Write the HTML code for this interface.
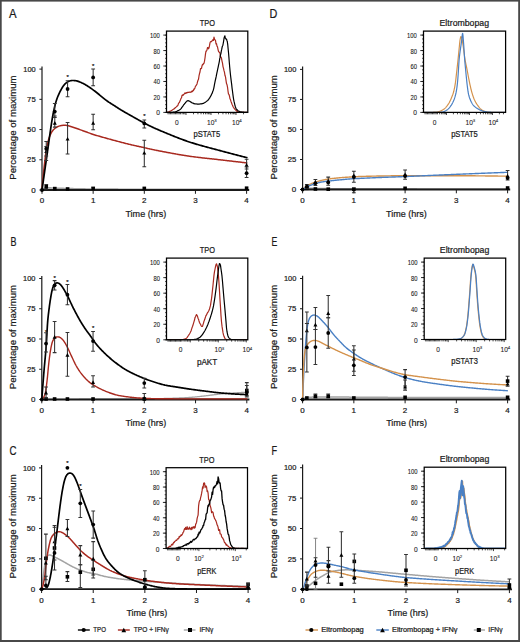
<!DOCTYPE html>
<html><head><meta charset="utf-8"><style>
html,body{margin:0;padding:0;background:#fff;overflow:hidden;}
svg{display:block;}
text{font-family:"Liberation Sans", sans-serif;stroke:#1a1a1a;stroke-width:0.22px;}
</style></head><body>
<svg width="520" height="642" viewBox="0 0 520 642">
<rect x="0" y="0" width="520" height="642" fill="#fff"/>
<text x="12.8" y="17.6" font-size="12" text-anchor="middle" fill="#1a1a1a" textLength="7.6" lengthAdjust="spacingAndGlyphs">A</text>
<text x="273.4" y="17.5" font-size="12" text-anchor="middle" fill="#1a1a1a" textLength="7.8" lengthAdjust="spacingAndGlyphs">D</text>
<text x="13.45" y="245.6" font-size="12" text-anchor="middle" fill="#1a1a1a" textLength="6" lengthAdjust="spacingAndGlyphs">B</text>
<text x="274.4" y="245.6" font-size="12" text-anchor="middle" fill="#1a1a1a" textLength="5.8" lengthAdjust="spacingAndGlyphs">E</text>
<text x="12.9" y="455.3" font-size="12" text-anchor="middle" fill="#1a1a1a" textLength="7" lengthAdjust="spacingAndGlyphs">C</text>
<text x="274.4" y="455.1" font-size="12" text-anchor="middle" fill="#1a1a1a" textLength="5.6" lengthAdjust="spacingAndGlyphs">F</text>
<path d="M42 190 L42.58 189.49 L43.18 189 L43.81 188.58 L44.48 188.25 L45.19 188.01 L45.92 187.86 L46.69 187.79 L47.47 187.78 L48.26 187.8 L49.06 187.83 L49.85 187.88 L50.65 187.92 L51.45 187.96 L52.25 188 L53.05 188.03 L53.85 188.07 L54.65 188.1 L55.45 188.13 L56.25 188.17 L57.05 188.2 L57.85 188.23 L58.64 188.26 L59.44 188.29 L60.24 188.31 L61.04 188.34 L61.84 188.37 L62.64 188.39 L63.44 188.42 L64.24 188.44 L65.04 188.47 L65.84 188.49 L66.64 188.51 L67.44 188.53 L68.24 188.56 L69.04 188.58 L69.84 188.59 L70.64 188.61 L71.44 188.63 L72.24 188.65 L73.04 188.67 L73.84 188.69 L74.64 188.71 L75.44 188.72 L76.24 188.74 L77.04 188.76 L77.84 188.78 L78.64 188.79 L79.44 188.81 L80.24 188.83 L81.04 188.84 L81.84 188.86 L82.64 188.87 L83.44 188.89 L84.24 188.91 L85.04 188.92 L85.84 188.93 L86.64 188.95 L87.44 188.96 L88.24 188.97 L89.04 188.99 L89.84 189 L90.64 189.01 L91.44 189.02 L92.24 189.03 L93.03 189.04 L93.83 189.05 L94.63 189.06 L95.43 189.07 L96.23 189.07 L97.03 189.08 L97.83 189.09 L98.63 189.09 L99.43 189.1 L100.23 189.1 L101.03 189.1 L101.83 189.11 L102.63 189.11 L103.43 189.11 L104.23 189.12 L105.03 189.12 L105.83 189.12 L106.63 189.13 L107.43 189.13 L108.23 189.13 L109.03 189.14 L109.83 189.14 L110.63 189.14 L111.43 189.15 L112.23 189.15 L113.03 189.15 L113.83 189.16 L114.63 189.16 L115.43 189.16 L116.23 189.17 L117.03 189.17 L117.83 189.17 L118.63 189.18 L119.43 189.18 L120.23 189.18 L121.03 189.18 L121.83 189.19 L122.63 189.19 L123.43 189.19 L124.23 189.2 L125.03 189.2 L125.83 189.2 L126.63 189.2 L127.43 189.21 L128.23 189.21 L129.03 189.21 L129.83 189.22 L130.63 189.22 L131.43 189.22 L132.23 189.22 L133.03 189.23 L133.83 189.23 L134.63 189.23 L135.43 189.23 L136.23 189.24 L137.03 189.24 L137.83 189.24 L138.63 189.24 L139.43 189.25 L140.23 189.25 L141.03 189.25 L141.83 189.25 L142.63 189.26 L143.43 189.26 L144.23 189.26 L145.03 189.26 L145.83 189.26 L146.63 189.27 L147.43 189.27 L148.23 189.27 L149.03 189.27 L149.83 189.28 L150.63 189.28 L151.43 189.28 L152.23 189.28 L153.03 189.28 L153.83 189.29 L154.63 189.29 L155.43 189.29 L156.23 189.29 L157.03 189.29 L157.83 189.3 L158.63 189.3 L159.43 189.3 L160.23 189.3 L161.03 189.3 L161.83 189.31 L162.63 189.31 L163.43 189.31 L164.23 189.31 L165.03 189.31 L165.83 189.31 L166.63 189.32 L167.43 189.32 L168.23 189.32 L169.03 189.32 L169.83 189.32 L170.63 189.33 L171.43 189.33 L172.23 189.33 L173.03 189.33 L173.83 189.33 L174.63 189.33 L175.43 189.33 L176.23 189.34 L177.03 189.34 L177.83 189.34 L178.63 189.34 L179.43 189.34 L180.23 189.34 L181.03 189.34 L181.83 189.35 L182.63 189.35 L183.43 189.35 L184.23 189.35 L185.03 189.35 L185.83 189.35 L186.63 189.35 L187.43 189.36 L188.23 189.36 L189.03 189.36 L189.83 189.36 L190.63 189.36 L191.43 189.36 L192.23 189.36 L193.03 189.36 L193.83 189.36 L194.63 189.37 L195.43 189.37 L196.23 189.37 L197.03 189.37 L197.83 189.37 L198.63 189.37 L199.43 189.37 L200.23 189.37 L201.03 189.37 L201.83 189.37 L202.63 189.38 L203.43 189.38 L204.23 189.38 L205.03 189.38 L205.83 189.38 L206.63 189.38 L207.43 189.38 L208.23 189.38 L209.03 189.38 L209.83 189.38 L210.63 189.38 L211.43 189.38 L212.23 189.39 L213.03 189.39 L213.83 189.39 L214.63 189.39 L215.43 189.39 L216.23 189.39 L217.03 189.39 L217.83 189.39 L218.63 189.39 L219.43 189.39 L220.23 189.39 L221.03 189.39 L221.83 189.39 L222.63 189.39 L223.43 189.39 L224.23 189.39 L225.03 189.39 L225.83 189.39 L226.63 189.4 L227.43 189.4 L228.23 189.4 L229.03 189.4 L229.83 189.4 L230.63 189.4 L231.43 189.4 L232.23 189.4 L233.03 189.4 L233.83 189.4 L234.63 189.4 L235.43 189.4 L236.23 189.4 L237.03 189.4 L237.83 189.4 L238.63 189.4 L239.43 189.4 L240.23 189.4 L241.03 189.4 L241.83 189.4 L242.63 189.4 L243.43 189.4 L244.23 189.4 L245.02 189.4 L245.81 189.4 L246.6 189.4 L246.8 189.4" fill="none" stroke="#a3a3a3" stroke-width="1.6" stroke-linejoin="round" stroke-linecap="round"/>
<path d="M302.6 189.5 L303.3 189.17 L304.02 188.87 L304.75 188.63 L305.5 188.46 L306.27 188.35 L307.05 188.29 L307.84 188.27 L308.63 188.27 L309.43 188.29 L310.23 188.31 L311.03 188.34 L311.83 188.36 L312.63 188.39 L313.43 188.42 L314.23 188.45 L315.03 188.47 L315.83 188.5 L316.63 188.52 L317.43 188.54 L318.23 188.56 L319.03 188.58 L319.83 188.59 L320.63 188.6 L321.43 188.61 L322.23 188.62 L323.03 188.62 L323.83 188.63 L324.63 188.63 L325.43 188.64 L326.23 188.65 L327.03 188.65 L327.83 188.66 L328.63 188.66 L329.43 188.67 L330.23 188.67 L331.03 188.68 L331.83 188.68 L332.63 188.69 L333.43 188.69 L334.23 188.7 L335.03 188.7 L335.83 188.71 L336.63 188.71 L337.43 188.72 L338.23 188.72 L339.03 188.73 L339.83 188.73 L340.63 188.73 L341.43 188.74 L342.23 188.74 L343.03 188.75 L343.83 188.75 L344.63 188.75 L345.43 188.76 L346.23 188.76 L347.03 188.76 L347.83 188.77 L348.63 188.77 L349.43 188.77 L350.23 188.78 L351.03 188.78 L351.83 188.78 L352.63 188.79 L353.43 188.79 L354.23 188.79 L355.03 188.8 L355.83 188.8 L356.63 188.8 L357.43 188.81 L358.23 188.81 L359.03 188.81 L359.83 188.81 L360.63 188.82 L361.43 188.82 L362.23 188.82 L363.03 188.82 L363.83 188.83 L364.63 188.83 L365.43 188.83 L366.23 188.83 L367.03 188.83 L367.83 188.84 L368.63 188.84 L369.43 188.84 L370.23 188.84 L371.03 188.85 L371.83 188.85 L372.63 188.85 L373.43 188.85 L374.23 188.85 L375.03 188.85 L375.83 188.86 L376.63 188.86 L377.43 188.86 L378.23 188.86 L379.03 188.86 L379.83 188.87 L380.63 188.87 L381.43 188.87 L382.23 188.87 L383.03 188.87 L383.83 188.87 L384.63 188.87 L385.43 188.88 L386.23 188.88 L387.03 188.88 L387.83 188.88 L388.63 188.88 L389.43 188.88 L390.23 188.88 L391.03 188.89 L391.83 188.89 L392.63 188.89 L393.43 188.89 L394.23 188.89 L395.03 188.89 L395.83 188.89 L396.63 188.89 L397.43 188.9 L398.23 188.9 L399.03 188.9 L399.83 188.9 L400.63 188.9 L401.43 188.9 L402.23 188.9 L403.03 188.9 L403.83 188.91 L404.63 188.91 L405.43 188.91 L406.23 188.91 L407.03 188.91 L407.83 188.91 L408.63 188.91 L409.43 188.91 L410.23 188.92 L411.03 188.92 L411.83 188.92 L412.63 188.92 L413.43 188.92 L414.23 188.92 L415.03 188.92 L415.83 188.92 L416.63 188.92 L417.43 188.93 L418.23 188.93 L419.03 188.93 L419.83 188.93 L420.63 188.93 L421.43 188.93 L422.23 188.93 L423.03 188.93 L423.83 188.93 L424.63 188.94 L425.43 188.94 L426.23 188.94 L427.03 188.94 L427.83 188.94 L428.63 188.94 L429.43 188.94 L430.23 188.94 L431.03 188.94 L431.83 188.95 L432.63 188.95 L433.43 188.95 L434.23 188.95 L435.03 188.95 L435.83 188.95 L436.63 188.95 L437.43 188.95 L438.23 188.95 L439.03 188.95 L439.83 188.96 L440.63 188.96 L441.43 188.96 L442.23 188.96 L443.03 188.96 L443.83 188.96 L444.63 188.96 L445.43 188.96 L446.23 188.96 L447.03 188.96 L447.83 188.96 L448.63 188.97 L449.43 188.97 L450.23 188.97 L451.03 188.97 L451.83 188.97 L452.63 188.97 L453.43 188.97 L454.23 188.97 L455.03 188.97 L455.83 188.97 L456.63 188.97 L457.43 188.97 L458.23 188.98 L459.03 188.98 L459.83 188.98 L460.63 188.98 L461.43 188.98 L462.23 188.98 L463.03 188.98 L463.83 188.98 L464.63 188.98 L465.43 188.98 L466.23 188.98 L467.03 188.98 L467.83 188.98 L468.63 188.98 L469.43 188.98 L470.23 188.99 L471.03 188.99 L471.83 188.99 L472.63 188.99 L473.43 188.99 L474.23 188.99 L475.03 188.99 L475.83 188.99 L476.63 188.99 L477.43 188.99 L478.23 188.99 L479.03 188.99 L479.83 188.99 L480.63 188.99 L481.43 188.99 L482.23 188.99 L483.03 188.99 L483.83 188.99 L484.63 188.99 L485.43 188.99 L486.23 189 L487.03 189 L487.83 189 L488.63 189 L489.43 189 L490.23 189 L491.03 189 L491.83 189 L492.63 189 L493.43 189 L494.23 189 L495.03 189 L495.83 189 L496.63 189 L497.43 189 L498.23 189 L499.03 189 L499.83 189 L500.63 189 L501.43 189 L502.22 189 L503.02 189 L503.82 189 L504.61 189 L505.39 189 L506.16 189 L506.92 189 L507.3 189" fill="none" stroke="#a3a3a3" stroke-width="1.6" stroke-linejoin="round" stroke-linecap="round"/>
<path d="M41.8 399.3 L42.6 399.3 L43.4 399.3 L44.2 399.3 L45 399.3 L45.8 399.3 L46.6 399.3 L47.4 399.3 L48.2 399.3 L49 399.3 L49.8 399.3 L50.6 399.3 L51.4 399.3 L52.2 399.3 L53 399.3 L53.8 399.3 L54.6 399.3 L55.4 399.3 L56.2 399.3 L57 399.3 L57.8 399.3 L58.6 399.3 L59.4 399.3 L60.2 399.3 L61 399.3 L61.8 399.3 L62.6 399.3 L63.4 399.3 L64.2 399.3 L65 399.3 L65.8 399.3 L66.6 399.3 L67.4 399.3 L68.2 399.29 L69 399.29 L69.8 399.29 L70.6 399.29 L71.4 399.29 L72.2 399.29 L73 399.29 L73.8 399.29 L74.6 399.28 L75.4 399.28 L76.2 399.28 L77 399.28 L77.8 399.28 L78.6 399.28 L79.4 399.27 L80.2 399.27 L81 399.27 L81.8 399.27 L82.6 399.26 L83.4 399.26 L84.2 399.26 L85 399.26 L85.8 399.25 L86.6 399.25 L87.4 399.25 L88.2 399.25 L89 399.24 L89.8 399.24 L90.6 399.24 L91.4 399.23 L92.2 399.23 L93 399.23 L93.8 399.22 L94.6 399.22 L95.4 399.22 L96.2 399.22 L97 399.21 L97.8 399.21 L98.6 399.2 L99.4 399.2 L100.2 399.2 L101 399.19 L101.8 399.19 L102.6 399.19 L103.4 399.18 L104.2 399.18 L105 399.18 L105.8 399.17 L106.6 399.17 L107.4 399.16 L108.2 399.16 L109 399.16 L109.8 399.15 L110.6 399.15 L111.4 399.14 L112.2 399.14 L113 399.14 L113.8 399.13 L114.6 399.13 L115.4 399.12 L116.2 399.12 L117 399.12 L117.8 399.11 L118.6 399.11 L119.4 399.1 L120.2 399.1 L121 399.09 L121.8 399.09 L122.6 399.08 L123.4 399.08 L124.2 399.07 L125 399.07 L125.8 399.06 L126.6 399.06 L127.4 399.05 L128.2 399.04 L129 399.04 L129.8 399.03 L130.6 399.02 L131.4 399.02 L132.2 399.01 L133 399 L133.8 399 L134.6 398.99 L135.4 398.98 L136.2 398.97 L137 398.96 L137.8 398.95 L138.6 398.94 L139.4 398.94 L140.2 398.93 L141 398.92 L141.8 398.91 L142.6 398.9 L143.4 398.89 L144.2 398.88 L145 398.87 L145.8 398.86 L146.6 398.85 L147.4 398.84 L148.2 398.82 L149 398.81 L149.8 398.8 L150.6 398.79 L151.4 398.78 L152.2 398.77 L153 398.75 L153.8 398.74 L154.6 398.72 L155.4 398.71 L156.2 398.7 L157 398.68 L157.8 398.66 L158.6 398.65 L159.4 398.63 L160.2 398.61 L161 398.59 L161.8 398.58 L162.6 398.56 L163.4 398.54 L164.2 398.52 L164.99 398.5 L165.79 398.48 L166.59 398.45 L167.39 398.43 L168.19 398.41 L168.99 398.39 L169.79 398.36 L170.59 398.34 L171.39 398.32 L172.19 398.29 L172.99 398.26 L173.79 398.24 L174.59 398.21 L175.39 398.18 L176.19 398.15 L176.99 398.12 L177.79 398.09 L178.59 398.06 L179.39 398.02 L180.19 397.99 L180.99 397.95 L181.78 397.91 L182.58 397.87 L183.38 397.83 L184.18 397.78 L184.98 397.74 L185.78 397.69 L186.58 397.64 L187.38 397.59 L188.17 397.54 L188.97 397.49 L189.77 397.44 L190.57 397.38 L191.37 397.32 L192.16 397.25 L192.96 397.19 L193.76 397.12 L194.55 397.04 L195.35 396.97 L196.15 396.89 L196.94 396.8 L197.74 396.72 L198.53 396.63 L199.33 396.54 L200.12 396.45 L200.92 396.36 L201.71 396.27 L202.51 396.18 L203.3 396.09 L204.1 396 L204.89 395.9 L205.68 395.81 L206.48 395.71 L207.27 395.62 L208.07 395.52 L208.86 395.42 L209.65 395.32 L210.45 395.21 L211.24 395.11 L212.03 395.01 L212.83 394.9 L213.62 394.79 L214.41 394.69 L215.21 394.59 L216 394.49 L216.79 394.39 L217.59 394.3 L218.38 394.2 L219.18 394.12 L219.97 394.03 L220.77 393.95 L221.57 393.88 L222.36 393.81 L223.16 393.74 L223.96 393.67 L224.75 393.61 L225.55 393.54 L226.35 393.48 L227.15 393.42 L227.95 393.37 L228.74 393.31 L229.54 393.25 L230.34 393.2 L231.14 393.15 L231.94 393.09 L232.73 393.04 L233.53 392.99 L234.33 392.94 L235.13 392.89 L235.93 392.84 L236.73 392.79 L237.52 392.74 L238.32 392.69 L239.12 392.64 L239.92 392.59 L240.72 392.54 L241.52 392.5 L242.31 392.45 L243.11 392.4 L243.9 392.36 L244.68 392.32 L245.46 392.27 L246.23 392.23 L246.8 392.2" fill="none" stroke="#a3a3a3" stroke-width="1.3" stroke-linejoin="round" stroke-linecap="round"/>
<path d="M302.6 399.5 L303.21 399.02 L303.83 398.58 L304.49 398.19 L305.18 397.89 L305.91 397.66 L306.66 397.49 L307.44 397.39 L308.22 397.31 L309.02 397.25 L309.81 397.21 L310.61 397.17 L311.41 397.14 L312.21 397.12 L313.01 397.09 L313.81 397.07 L314.61 397.05 L315.41 397.04 L316.21 397.03 L317.01 397.02 L317.81 397.01 L318.61 397.01 L319.41 397 L320.21 397 L321.01 397 L321.81 397 L322.61 397 L323.41 397 L324.21 397 L325.01 397.01 L325.81 397.01 L326.61 397.01 L327.41 397.01 L328.21 397.01 L329.01 397.01 L329.81 397.02 L330.61 397.02 L331.41 397.02 L332.21 397.03 L333.01 397.03 L333.81 397.03 L334.61 397.04 L335.41 397.04 L336.21 397.04 L337.01 397.05 L337.81 397.05 L338.61 397.06 L339.41 397.06 L340.21 397.06 L341.01 397.07 L341.81 397.07 L342.61 397.08 L343.41 397.08 L344.21 397.09 L345.01 397.09 L345.81 397.1 L346.61 397.1 L347.41 397.11 L348.21 397.11 L349.01 397.12 L349.81 397.13 L350.61 397.13 L351.41 397.14 L352.21 397.14 L353.01 397.15 L353.81 397.15 L354.61 397.16 L355.41 397.17 L356.21 397.17 L357.01 397.18 L357.81 397.18 L358.61 397.19 L359.41 397.2 L360.21 397.2 L361.01 397.21 L361.81 397.21 L362.61 397.22 L363.41 397.23 L364.21 397.23 L365.01 397.24 L365.81 397.24 L366.61 397.25 L367.41 397.25 L368.21 397.26 L369.01 397.27 L369.81 397.27 L370.61 397.28 L371.41 397.28 L372.21 397.29 L373.01 397.29 L373.81 397.3 L374.61 397.3 L375.41 397.31 L376.21 397.31 L377.01 397.32 L377.81 397.32 L378.61 397.33 L379.41 397.33 L380.21 397.34 L381.01 397.34 L381.81 397.35 L382.61 397.35 L383.41 397.36 L384.21 397.36 L385.01 397.36 L385.81 397.37 L386.61 397.37 L387.41 397.37 L388.21 397.38 L389.01 397.38 L389.81 397.38 L390.61 397.38 L391.41 397.39 L392.21 397.39 L393.01 397.39 L393.81 397.39 L394.61 397.39 L395.41 397.4 L396.21 397.4 L397.01 397.4 L397.81 397.4 L398.61 397.4 L399.41 397.4 L400.21 397.4 L401.01 397.4 L401.81 397.4 L402.61 397.4 L403.41 397.4 L404.21 397.4 L405.01 397.4 L405.81 397.4 L406.61 397.4 L407.41 397.4 L408.21 397.4 L409.01 397.4 L409.81 397.4 L410.61 397.4 L411.41 397.4 L412.21 397.4 L413.01 397.4 L413.81 397.4 L414.61 397.4 L415.41 397.4 L416.21 397.4 L417.01 397.4 L417.81 397.4 L418.61 397.4 L419.41 397.4 L420.21 397.4 L421.01 397.4 L421.81 397.4 L422.61 397.4 L423.41 397.4 L424.21 397.4 L425.01 397.4 L425.81 397.4 L426.61 397.4 L427.41 397.4 L428.21 397.4 L429.01 397.4 L429.81 397.4 L430.61 397.4 L431.41 397.4 L432.21 397.4 L433.01 397.4 L433.81 397.4 L434.61 397.4 L435.41 397.4 L436.21 397.4 L437.01 397.4 L437.81 397.4 L438.61 397.4 L439.41 397.4 L440.21 397.4 L441.01 397.4 L441.81 397.4 L442.61 397.4 L443.41 397.4 L444.21 397.4 L445.01 397.4 L445.81 397.4 L446.61 397.4 L447.41 397.4 L448.21 397.4 L449.01 397.4 L449.81 397.4 L450.61 397.4 L451.41 397.4 L452.21 397.4 L453.01 397.4 L453.81 397.4 L454.61 397.4 L455.41 397.4 L456.21 397.4 L457.01 397.4 L457.81 397.4 L458.61 397.4 L459.41 397.4 L460.21 397.4 L461.01 397.4 L461.81 397.4 L462.61 397.4 L463.41 397.4 L464.21 397.4 L465.01 397.4 L465.81 397.4 L466.61 397.4 L467.41 397.4 L468.21 397.4 L469.01 397.4 L469.81 397.4 L470.61 397.4 L471.41 397.4 L472.21 397.4 L473.01 397.4 L473.81 397.4 L474.61 397.4 L475.41 397.4 L476.21 397.4 L477.01 397.4 L477.81 397.4 L478.61 397.4 L479.41 397.4 L480.21 397.4 L481.01 397.4 L481.81 397.4 L482.61 397.4 L483.41 397.4 L484.21 397.4 L485.01 397.4 L485.81 397.4 L486.61 397.4 L487.41 397.4 L488.21 397.4 L489.01 397.4 L489.81 397.4 L490.61 397.4 L491.41 397.4 L492.21 397.4 L493.01 397.4 L493.81 397.4 L494.61 397.4 L495.41 397.4 L496.21 397.4 L497.01 397.4 L497.81 397.4 L498.61 397.4 L499.41 397.4 L500.21 397.4 L501.01 397.4 L501.81 397.4 L502.61 397.4 L503.4 397.4 L504.2 397.4 L504.98 397.4 L505.76 397.4 L506.53 397.4 L507.3 397.4" fill="none" stroke="#a3a3a3" stroke-width="1.5" stroke-linejoin="round" stroke-linecap="round"/>
<path d="M41.6 589.2 L41.7 588.41 L41.79 587.61 L41.89 586.82 L41.99 586.02 L42.08 585.23 L42.18 584.44 L42.28 583.64 L42.38 582.85 L42.48 582.05 L42.58 581.26 L42.68 580.47 L42.78 579.67 L42.89 578.88 L42.99 578.09 L43.09 577.29 L43.2 576.5 L43.3 575.71 L43.4 574.91 L43.51 574.12 L43.61 573.33 L43.71 572.53 L43.82 571.74 L43.93 570.95 L44.04 570.16 L44.15 569.36 L44.26 568.57 L44.38 567.78 L44.49 566.99 L44.62 566.2 L44.74 565.41 L44.87 564.62 L45 563.83 L45.13 563.04 L45.27 562.25 L45.42 561.47 L45.57 560.68 L45.74 559.91 L45.94 559.14 L46.18 558.38 L46.45 557.65 L46.78 556.96 L47.17 556.33 L47.62 555.8 L48.14 555.38 L48.72 555.12 L49.36 555.02 L50.04 555.07 L50.74 555.24 L51.45 555.5 L52.16 555.8 L52.88 556.14 L53.59 556.49 L54.31 556.85 L55.03 557.2 L55.74 557.56 L56.46 557.91 L57.18 558.27 L57.89 558.62 L58.61 558.98 L59.32 559.35 L60.03 559.72 L60.73 560.09 L61.44 560.48 L62.14 560.87 L62.83 561.26 L63.53 561.66 L64.22 562.06 L64.91 562.46 L65.6 562.87 L66.29 563.27 L66.98 563.67 L67.68 564.06 L68.38 564.45 L69.08 564.84 L69.78 565.22 L70.49 565.59 L71.19 565.97 L71.9 566.34 L72.61 566.71 L73.33 567.07 L74.04 567.43 L74.76 567.78 L75.48 568.12 L76.21 568.45 L76.94 568.78 L77.68 569.09 L78.42 569.4 L79.16 569.7 L79.9 569.99 L80.65 570.27 L81.4 570.55 L82.15 570.82 L82.91 571.08 L83.67 571.34 L84.43 571.58 L85.19 571.82 L85.96 572.04 L86.73 572.25 L87.51 572.44 L88.28 572.62 L89.07 572.78 L89.85 572.93 L90.64 573.07 L91.43 573.21 L92.22 573.34 L93 573.48 L93.79 573.62 L94.57 573.77 L95.35 573.94 L96.13 574.13 L96.9 574.33 L97.68 574.54 L98.44 574.76 L99.21 574.99 L99.98 575.22 L100.75 575.44 L101.52 575.65 L102.29 575.85 L103.07 576.05 L103.84 576.23 L104.63 576.4 L105.41 576.56 L106.19 576.72 L106.98 576.87 L107.76 577.02 L108.55 577.17 L109.34 577.31 L110.13 577.45 L110.91 577.58 L111.7 577.72 L112.49 577.85 L113.28 577.98 L114.07 578.1 L114.86 578.23 L115.65 578.34 L116.44 578.46 L117.24 578.57 L118.03 578.68 L118.82 578.78 L119.62 578.88 L120.41 578.98 L121.2 579.07 L122 579.17 L122.79 579.26 L123.59 579.34 L124.38 579.43 L125.18 579.51 L125.98 579.6 L126.77 579.68 L127.57 579.76 L128.36 579.84 L129.16 579.92 L129.96 579.99 L130.75 580.07 L131.55 580.14 L132.35 580.22 L133.14 580.29 L133.94 580.37 L134.74 580.44 L135.53 580.51 L136.33 580.58 L137.13 580.65 L137.92 580.72 L138.72 580.78 L139.52 580.85 L140.32 580.91 L141.11 580.98 L141.91 581.04 L142.71 581.1 L143.51 581.16 L144.3 581.22 L145.1 581.28 L145.9 581.34 L146.7 581.4 L147.49 581.45 L148.29 581.51 L149.09 581.57 L149.89 581.63 L150.69 581.68 L151.48 581.74 L152.28 581.8 L153.08 581.85 L153.88 581.91 L154.68 581.96 L155.47 582.02 L156.27 582.07 L157.07 582.13 L157.87 582.18 L158.67 582.24 L159.47 582.29 L160.26 582.35 L161.06 582.4 L161.86 582.45 L162.66 582.51 L163.46 582.56 L164.25 582.61 L165.05 582.66 L165.85 582.71 L166.65 582.77 L167.45 582.82 L168.25 582.87 L169.05 582.92 L169.84 582.97 L170.64 583.02 L171.44 583.07 L172.24 583.12 L173.04 583.17 L173.84 583.21 L174.63 583.26 L175.43 583.31 L176.23 583.36 L177.03 583.4 L177.83 583.45 L178.63 583.5 L179.43 583.54 L180.22 583.59 L181.02 583.63 L181.82 583.68 L182.62 583.72 L183.42 583.77 L184.22 583.81 L185.02 583.86 L185.82 583.9 L186.62 583.94 L187.41 583.98 L188.21 584.03 L189.01 584.07 L189.81 584.11 L190.61 584.15 L191.41 584.19 L192.21 584.23 L193.01 584.27 L193.81 584.31 L194.6 584.35 L195.4 584.39 L196.2 584.42 L197 584.46 L197.8 584.5 L198.6 584.54 L199.4 584.57 L200.2 584.61 L201 584.64 L201.8 584.68 L202.6 584.71 L203.4 584.75 L204.19 584.78 L204.99 584.82 L205.79 584.85 L206.59 584.89 L207.39 584.92 L208.19 584.96 L208.99 584.99 L209.79 585.02 L210.59 585.06 L211.39 585.09 L212.19 585.12 L212.99 585.15 L213.79 585.19 L214.59 585.22 L215.39 585.25 L216.18 585.28 L216.98 585.31 L217.78 585.34 L218.58 585.38 L219.38 585.41 L220.18 585.44 L220.98 585.47 L221.78 585.5 L222.58 585.53 L223.38 585.56 L224.18 585.58 L224.98 585.61 L225.78 585.64 L226.58 585.67 L227.38 585.7 L228.18 585.73 L228.98 585.75 L229.78 585.78 L230.57 585.81 L231.37 585.83 L232.17 585.86 L232.97 585.89 L233.77 585.91 L234.57 585.94 L235.37 585.96 L236.17 585.99 L236.97 586.01 L237.77 586.03 L238.57 586.06 L239.37 586.08 L240.17 586.1 L240.97 586.13 L241.77 586.15 L242.57 586.17 L243.36 586.19 L244.16 586.21 L244.94 586.23 L245.72 586.25 L246.48 586.27 L247.23 586.29 L247.6 586.3" fill="none" stroke="#a3a3a3" stroke-width="1.5" stroke-linejoin="round" stroke-linecap="round"/>
<path d="M302.6 589.5 L303.32 589.15 L304.03 588.79 L304.74 588.43 L305.45 588.05 L306.14 587.65 L306.82 587.24 L307.5 586.81 L308.16 586.36 L308.81 585.9 L309.44 585.41 L310.06 584.91 L310.68 584.4 L311.28 583.88 L311.88 583.35 L312.49 582.83 L313.09 582.31 L313.71 581.8 L314.33 581.29 L314.96 580.8 L315.6 580.33 L316.25 579.86 L316.91 579.41 L317.57 578.96 L318.24 578.53 L318.92 578.1 L319.6 577.67 L320.28 577.26 L320.96 576.85 L321.65 576.44 L322.34 576.04 L323.04 575.64 L323.73 575.24 L324.43 574.84 L325.12 574.45 L325.82 574.07 L326.53 573.7 L327.24 573.34 L327.97 573 L328.7 572.68 L329.44 572.39 L330.19 572.13 L330.95 571.89 L331.72 571.67 L332.49 571.46 L333.27 571.28 L334.05 571.1 L334.83 570.94 L335.62 570.8 L336.41 570.67 L337.2 570.55 L337.99 570.44 L338.78 570.34 L339.58 570.25 L340.37 570.17 L341.17 570.1 L341.97 570.03 L342.76 569.97 L343.56 569.92 L344.36 569.88 L345.16 569.85 L345.96 569.84 L346.76 569.84 L347.56 569.84 L348.36 569.86 L349.16 569.88 L349.96 569.91 L350.76 569.94 L351.55 569.97 L352.35 570.01 L353.15 570.05 L353.95 570.1 L354.75 570.14 L355.55 570.19 L356.35 570.24 L357.15 570.29 L357.94 570.35 L358.74 570.41 L359.54 570.46 L360.34 570.52 L361.13 570.58 L361.93 570.63 L362.73 570.69 L363.53 570.75 L364.33 570.8 L365.13 570.86 L365.92 570.91 L366.72 570.97 L367.52 571.03 L368.32 571.08 L369.12 571.14 L369.91 571.2 L370.71 571.25 L371.51 571.31 L372.31 571.37 L373.1 571.43 L373.9 571.49 L374.7 571.55 L375.5 571.61 L376.3 571.67 L377.09 571.73 L377.89 571.79 L378.69 571.86 L379.49 571.92 L380.28 571.99 L381.08 572.06 L381.88 572.12 L382.67 572.19 L383.47 572.26 L384.27 572.33 L385.06 572.4 L385.86 572.47 L386.66 572.55 L387.46 572.62 L388.25 572.69 L389.05 572.77 L389.84 572.84 L390.64 572.91 L391.44 572.99 L392.23 573.06 L393.03 573.14 L393.83 573.21 L394.62 573.29 L395.42 573.36 L396.22 573.44 L397.01 573.51 L397.81 573.58 L398.61 573.66 L399.4 573.73 L400.2 573.8 L401 573.88 L401.79 573.95 L402.59 574.02 L403.39 574.09 L404.18 574.16 L404.98 574.23 L405.78 574.3 L406.57 574.37 L407.37 574.44 L408.17 574.51 L408.97 574.58 L409.76 574.65 L410.56 574.72 L411.36 574.79 L412.15 574.86 L412.95 574.93 L413.75 575 L414.54 575.07 L415.34 575.14 L416.14 575.21 L416.94 575.28 L417.73 575.35 L418.53 575.42 L419.33 575.49 L420.12 575.56 L420.92 575.63 L421.72 575.7 L422.51 575.76 L423.31 575.83 L424.11 575.9 L424.91 575.97 L425.7 576.04 L426.5 576.11 L427.3 576.18 L428.09 576.24 L428.89 576.31 L429.69 576.38 L430.49 576.45 L431.28 576.51 L432.08 576.58 L432.88 576.65 L433.67 576.71 L434.47 576.78 L435.27 576.85 L436.07 576.91 L436.86 576.98 L437.66 577.04 L438.46 577.11 L439.26 577.17 L440.05 577.23 L440.85 577.3 L441.65 577.36 L442.45 577.42 L443.24 577.49 L444.04 577.55 L444.84 577.61 L445.64 577.67 L446.43 577.73 L447.23 577.79 L448.03 577.85 L448.83 577.91 L449.62 577.97 L450.42 578.03 L451.22 578.09 L452.02 578.15 L452.82 578.21 L453.61 578.26 L454.41 578.32 L455.21 578.38 L456.01 578.44 L456.81 578.49 L457.6 578.55 L458.4 578.61 L459.2 578.67 L460 578.72 L460.8 578.78 L461.59 578.84 L462.39 578.89 L463.19 578.95 L463.99 579 L464.79 579.06 L465.58 579.12 L466.38 579.17 L467.18 579.23 L467.98 579.28 L468.78 579.34 L469.57 579.39 L470.37 579.45 L471.17 579.5 L471.97 579.55 L472.77 579.61 L473.56 579.66 L474.36 579.72 L475.16 579.77 L475.96 579.82 L476.76 579.88 L477.56 579.93 L478.35 579.98 L479.15 580.03 L479.95 580.09 L480.75 580.14 L481.55 580.19 L482.35 580.24 L483.14 580.29 L483.94 580.34 L484.74 580.39 L485.54 580.44 L486.34 580.49 L487.14 580.54 L487.93 580.59 L488.73 580.64 L489.53 580.69 L490.33 580.74 L491.13 580.79 L491.93 580.84 L492.73 580.89 L493.52 580.94 L494.32 580.99 L495.12 581.03 L495.92 581.08 L496.72 581.13 L497.52 581.18 L498.32 581.22 L499.11 581.27 L499.91 581.32 L500.71 581.36 L501.51 581.41 L502.31 581.45 L503.11 581.5 L503.9 581.54 L504.7 581.59 L505.48 581.63 L506.26 581.68 L507.02 581.72 L507.76 581.76 L508.5 581.8" fill="none" stroke="#a3a3a3" stroke-width="1.5" stroke-linejoin="round" stroke-linecap="round"/>
<line x1="42" y1="66.5" x2="42" y2="190.6" stroke="#1a1a1a" stroke-width="1.2"/>
<line x1="39.4" y1="190" x2="42" y2="190" stroke="#1a1a1a" stroke-width="1"/>
<text x="35.7" y="192.7" font-size="8" text-anchor="end" fill="#1a1a1a">0</text>
<line x1="39.4" y1="159.78" x2="42" y2="159.78" stroke="#1a1a1a" stroke-width="1"/>
<text x="35.7" y="162.47" font-size="8" text-anchor="end" fill="#1a1a1a" textLength="8.6" lengthAdjust="spacingAndGlyphs">25</text>
<line x1="39.4" y1="129.55" x2="42" y2="129.55" stroke="#1a1a1a" stroke-width="1"/>
<text x="35.7" y="132.25" font-size="8" text-anchor="end" fill="#1a1a1a" textLength="8.6" lengthAdjust="spacingAndGlyphs">50</text>
<line x1="39.4" y1="99.33" x2="42" y2="99.33" stroke="#1a1a1a" stroke-width="1"/>
<text x="35.7" y="102.03" font-size="8" text-anchor="end" fill="#1a1a1a" textLength="8.6" lengthAdjust="spacingAndGlyphs">75</text>
<line x1="39.4" y1="69.1" x2="42" y2="69.1" stroke="#1a1a1a" stroke-width="1"/>
<text x="35.7" y="71.8" font-size="8" text-anchor="end" fill="#1a1a1a" textLength="12.4" lengthAdjust="spacingAndGlyphs">100</text>
<line x1="41.4" y1="190" x2="249.2" y2="190" stroke="#1a1a1a" stroke-width="1.8"/>
<line x1="42" y1="190" x2="42" y2="193.8" stroke="#1a1a1a" stroke-width="1"/>
<text x="42" y="203.3" font-size="8" text-anchor="middle" fill="#1a1a1a">0</text>
<line x1="93.15" y1="190" x2="93.15" y2="193.8" stroke="#1a1a1a" stroke-width="1"/>
<text x="93.15" y="203.3" font-size="8" text-anchor="middle" fill="#1a1a1a">1</text>
<line x1="144.3" y1="190" x2="144.3" y2="193.8" stroke="#1a1a1a" stroke-width="1"/>
<text x="144.3" y="203.3" font-size="8" text-anchor="middle" fill="#1a1a1a">2</text>
<line x1="195.45" y1="190" x2="195.45" y2="193.8" stroke="#1a1a1a" stroke-width="1"/>
<text x="195.45" y="203.3" font-size="8" text-anchor="middle" fill="#1a1a1a">3</text>
<line x1="246.6" y1="190" x2="246.6" y2="193.8" stroke="#1a1a1a" stroke-width="1"/>
<text x="246.6" y="203.3" font-size="8" text-anchor="middle" fill="#1a1a1a">4</text>
<text x="145.85" y="216.9" font-size="9.6" text-anchor="middle" fill="#1a1a1a" textLength="40.8" lengthAdjust="spacingAndGlyphs">Time (hrs)</text>
<text transform="translate(15.7 127.55) rotate(-90)" font-size="9.5" text-anchor="middle" fill="#1a1a1a" textLength="104.2" lengthAdjust="spacingAndGlyphs">Percentage of maximum</text>
<line x1="302.6" y1="66.5" x2="302.6" y2="190.1" stroke="#1a1a1a" stroke-width="1.2"/>
<line x1="300" y1="189.5" x2="302.6" y2="189.5" stroke="#1a1a1a" stroke-width="1"/>
<text x="296.3" y="192.2" font-size="8" text-anchor="end" fill="#1a1a1a">0</text>
<line x1="300" y1="159.47" x2="302.6" y2="159.47" stroke="#1a1a1a" stroke-width="1"/>
<text x="296.3" y="162.17" font-size="8" text-anchor="end" fill="#1a1a1a" textLength="8.6" lengthAdjust="spacingAndGlyphs">25</text>
<line x1="300" y1="129.45" x2="302.6" y2="129.45" stroke="#1a1a1a" stroke-width="1"/>
<text x="296.3" y="132.15" font-size="8" text-anchor="end" fill="#1a1a1a" textLength="8.6" lengthAdjust="spacingAndGlyphs">50</text>
<line x1="300" y1="99.42" x2="302.6" y2="99.42" stroke="#1a1a1a" stroke-width="1"/>
<text x="296.3" y="102.12" font-size="8" text-anchor="end" fill="#1a1a1a" textLength="8.6" lengthAdjust="spacingAndGlyphs">75</text>
<line x1="300" y1="69.4" x2="302.6" y2="69.4" stroke="#1a1a1a" stroke-width="1"/>
<text x="296.3" y="72.1" font-size="8" text-anchor="end" fill="#1a1a1a" textLength="12.4" lengthAdjust="spacingAndGlyphs">100</text>
<line x1="302" y1="189.5" x2="510.2" y2="189.5" stroke="#1a1a1a" stroke-width="1.8"/>
<line x1="302.6" y1="189.5" x2="302.6" y2="193.3" stroke="#1a1a1a" stroke-width="1"/>
<text x="302.6" y="203.3" font-size="8" text-anchor="middle" fill="#1a1a1a">0</text>
<line x1="353.85" y1="189.5" x2="353.85" y2="193.3" stroke="#1a1a1a" stroke-width="1"/>
<text x="353.85" y="203.3" font-size="8" text-anchor="middle" fill="#1a1a1a">1</text>
<line x1="405.1" y1="189.5" x2="405.1" y2="193.3" stroke="#1a1a1a" stroke-width="1"/>
<text x="405.1" y="203.3" font-size="8" text-anchor="middle" fill="#1a1a1a">2</text>
<line x1="456.35" y1="189.5" x2="456.35" y2="193.3" stroke="#1a1a1a" stroke-width="1"/>
<text x="456.35" y="203.3" font-size="8" text-anchor="middle" fill="#1a1a1a">3</text>
<line x1="507.6" y1="189.5" x2="507.6" y2="193.3" stroke="#1a1a1a" stroke-width="1"/>
<text x="507.6" y="203.3" font-size="8" text-anchor="middle" fill="#1a1a1a">4</text>
<text x="406.5" y="216.9" font-size="9.6" text-anchor="middle" fill="#1a1a1a" textLength="40.8" lengthAdjust="spacingAndGlyphs">Time (hrs)</text>
<text transform="translate(276.6 127.3) rotate(-90)" font-size="9.5" text-anchor="middle" fill="#1a1a1a" textLength="104.2" lengthAdjust="spacingAndGlyphs">Percentage of maximum</text>
<line x1="41.8" y1="276" x2="41.8" y2="400.1" stroke="#1a1a1a" stroke-width="1.2"/>
<line x1="39.2" y1="399.5" x2="41.8" y2="399.5" stroke="#1a1a1a" stroke-width="1"/>
<text x="35.5" y="402.2" font-size="8" text-anchor="end" fill="#1a1a1a">0</text>
<line x1="39.2" y1="369.25" x2="41.8" y2="369.25" stroke="#1a1a1a" stroke-width="1"/>
<text x="35.5" y="371.95" font-size="8" text-anchor="end" fill="#1a1a1a" textLength="8.6" lengthAdjust="spacingAndGlyphs">25</text>
<line x1="39.2" y1="339" x2="41.8" y2="339" stroke="#1a1a1a" stroke-width="1"/>
<text x="35.5" y="341.7" font-size="8" text-anchor="end" fill="#1a1a1a" textLength="8.6" lengthAdjust="spacingAndGlyphs">50</text>
<line x1="39.2" y1="308.75" x2="41.8" y2="308.75" stroke="#1a1a1a" stroke-width="1"/>
<text x="35.5" y="311.45" font-size="8" text-anchor="end" fill="#1a1a1a" textLength="8.6" lengthAdjust="spacingAndGlyphs">75</text>
<line x1="39.2" y1="278.5" x2="41.8" y2="278.5" stroke="#1a1a1a" stroke-width="1"/>
<text x="35.5" y="281.2" font-size="8" text-anchor="end" fill="#1a1a1a" textLength="12.4" lengthAdjust="spacingAndGlyphs">100</text>
<line x1="41.2" y1="399.5" x2="249.4" y2="399.5" stroke="#1a1a1a" stroke-width="1.8"/>
<line x1="41.8" y1="399.5" x2="41.8" y2="403.3" stroke="#1a1a1a" stroke-width="1"/>
<text x="41.8" y="413" font-size="8" text-anchor="middle" fill="#1a1a1a">0</text>
<line x1="93.05" y1="399.5" x2="93.05" y2="403.3" stroke="#1a1a1a" stroke-width="1"/>
<text x="93.05" y="413" font-size="8" text-anchor="middle" fill="#1a1a1a">1</text>
<line x1="144.3" y1="399.5" x2="144.3" y2="403.3" stroke="#1a1a1a" stroke-width="1"/>
<text x="144.3" y="413" font-size="8" text-anchor="middle" fill="#1a1a1a">2</text>
<line x1="195.55" y1="399.5" x2="195.55" y2="403.3" stroke="#1a1a1a" stroke-width="1"/>
<text x="195.55" y="413" font-size="8" text-anchor="middle" fill="#1a1a1a">3</text>
<line x1="246.8" y1="399.5" x2="246.8" y2="403.3" stroke="#1a1a1a" stroke-width="1"/>
<text x="246.8" y="413" font-size="8" text-anchor="middle" fill="#1a1a1a">4</text>
<text x="145.85" y="426.1" font-size="9.6" text-anchor="middle" fill="#1a1a1a" textLength="40.8" lengthAdjust="spacingAndGlyphs">Time (hrs)</text>
<text transform="translate(15.7 337.05) rotate(-90)" font-size="9.5" text-anchor="middle" fill="#1a1a1a" textLength="104.2" lengthAdjust="spacingAndGlyphs">Percentage of maximum</text>
<line x1="302.6" y1="275.8" x2="302.6" y2="400.1" stroke="#1a1a1a" stroke-width="1.2"/>
<line x1="300" y1="399.5" x2="302.6" y2="399.5" stroke="#1a1a1a" stroke-width="1"/>
<text x="296.3" y="402.2" font-size="8" text-anchor="end" fill="#1a1a1a">0</text>
<line x1="300" y1="369.25" x2="302.6" y2="369.25" stroke="#1a1a1a" stroke-width="1"/>
<text x="296.3" y="371.95" font-size="8" text-anchor="end" fill="#1a1a1a" textLength="8.6" lengthAdjust="spacingAndGlyphs">25</text>
<line x1="300" y1="339" x2="302.6" y2="339" stroke="#1a1a1a" stroke-width="1"/>
<text x="296.3" y="341.7" font-size="8" text-anchor="end" fill="#1a1a1a" textLength="8.6" lengthAdjust="spacingAndGlyphs">50</text>
<line x1="300" y1="308.75" x2="302.6" y2="308.75" stroke="#1a1a1a" stroke-width="1"/>
<text x="296.3" y="311.45" font-size="8" text-anchor="end" fill="#1a1a1a" textLength="8.6" lengthAdjust="spacingAndGlyphs">75</text>
<line x1="300" y1="278.5" x2="302.6" y2="278.5" stroke="#1a1a1a" stroke-width="1"/>
<text x="296.3" y="281.2" font-size="8" text-anchor="end" fill="#1a1a1a" textLength="12.4" lengthAdjust="spacingAndGlyphs">100</text>
<line x1="302" y1="399.5" x2="510.2" y2="399.5" stroke="#1a1a1a" stroke-width="1.8"/>
<line x1="302.6" y1="399.5" x2="302.6" y2="403.3" stroke="#1a1a1a" stroke-width="1"/>
<text x="302.6" y="413" font-size="8" text-anchor="middle" fill="#1a1a1a">0</text>
<line x1="353.85" y1="399.5" x2="353.85" y2="403.3" stroke="#1a1a1a" stroke-width="1"/>
<text x="353.85" y="413" font-size="8" text-anchor="middle" fill="#1a1a1a">1</text>
<line x1="405.1" y1="399.5" x2="405.1" y2="403.3" stroke="#1a1a1a" stroke-width="1"/>
<text x="405.1" y="413" font-size="8" text-anchor="middle" fill="#1a1a1a">2</text>
<line x1="456.35" y1="399.5" x2="456.35" y2="403.3" stroke="#1a1a1a" stroke-width="1"/>
<text x="456.35" y="413" font-size="8" text-anchor="middle" fill="#1a1a1a">3</text>
<line x1="507.6" y1="399.5" x2="507.6" y2="403.3" stroke="#1a1a1a" stroke-width="1"/>
<text x="507.6" y="413" font-size="8" text-anchor="middle" fill="#1a1a1a">4</text>
<text x="406.6" y="426.1" font-size="9.6" text-anchor="middle" fill="#1a1a1a" textLength="40.8" lengthAdjust="spacingAndGlyphs">Time (hrs)</text>
<text transform="translate(276.6 336.95) rotate(-90)" font-size="9.5" text-anchor="middle" fill="#1a1a1a" textLength="104.2" lengthAdjust="spacingAndGlyphs">Percentage of maximum</text>
<line x1="41.6" y1="465" x2="41.6" y2="589.8" stroke="#1a1a1a" stroke-width="1.2"/>
<line x1="39" y1="589.2" x2="41.6" y2="589.2" stroke="#1a1a1a" stroke-width="1"/>
<text x="35.3" y="591.9" font-size="8" text-anchor="end" fill="#1a1a1a">0</text>
<line x1="39" y1="558.88" x2="41.6" y2="558.88" stroke="#1a1a1a" stroke-width="1"/>
<text x="35.3" y="561.58" font-size="8" text-anchor="end" fill="#1a1a1a" textLength="8.6" lengthAdjust="spacingAndGlyphs">25</text>
<line x1="39" y1="528.55" x2="41.6" y2="528.55" stroke="#1a1a1a" stroke-width="1"/>
<text x="35.3" y="531.25" font-size="8" text-anchor="end" fill="#1a1a1a" textLength="8.6" lengthAdjust="spacingAndGlyphs">50</text>
<line x1="39" y1="498.23" x2="41.6" y2="498.23" stroke="#1a1a1a" stroke-width="1"/>
<text x="35.3" y="500.93" font-size="8" text-anchor="end" fill="#1a1a1a" textLength="8.6" lengthAdjust="spacingAndGlyphs">75</text>
<line x1="39" y1="467.9" x2="41.6" y2="467.9" stroke="#1a1a1a" stroke-width="1"/>
<text x="35.3" y="470.6" font-size="8" text-anchor="end" fill="#1a1a1a" textLength="12.4" lengthAdjust="spacingAndGlyphs">100</text>
<line x1="41" y1="589.2" x2="250.7" y2="589.2" stroke="#1a1a1a" stroke-width="1.8"/>
<line x1="41.6" y1="589.2" x2="41.6" y2="593" stroke="#1a1a1a" stroke-width="1"/>
<text x="41.6" y="603" font-size="8" text-anchor="middle" fill="#1a1a1a">0</text>
<line x1="93.22" y1="589.2" x2="93.22" y2="593" stroke="#1a1a1a" stroke-width="1"/>
<text x="93.22" y="603" font-size="8" text-anchor="middle" fill="#1a1a1a">1</text>
<line x1="144.85" y1="589.2" x2="144.85" y2="593" stroke="#1a1a1a" stroke-width="1"/>
<text x="144.85" y="603" font-size="8" text-anchor="middle" fill="#1a1a1a">2</text>
<line x1="196.47" y1="589.2" x2="196.47" y2="593" stroke="#1a1a1a" stroke-width="1"/>
<text x="196.47" y="603" font-size="8" text-anchor="middle" fill="#1a1a1a">3</text>
<line x1="248.1" y1="589.2" x2="248.1" y2="593" stroke="#1a1a1a" stroke-width="1"/>
<text x="248.1" y="603" font-size="8" text-anchor="middle" fill="#1a1a1a">4</text>
<text x="146.8" y="616.2" font-size="9.6" text-anchor="middle" fill="#1a1a1a" textLength="40.8" lengthAdjust="spacingAndGlyphs">Time (hrs)</text>
<text transform="translate(15.7 526.4) rotate(-90)" font-size="9.5" text-anchor="middle" fill="#1a1a1a" textLength="104.2" lengthAdjust="spacingAndGlyphs">Percentage of maximum</text>
<line x1="302.6" y1="464.6" x2="302.6" y2="589.9" stroke="#1a1a1a" stroke-width="1.2"/>
<line x1="300" y1="589.3" x2="302.6" y2="589.3" stroke="#1a1a1a" stroke-width="1"/>
<text x="296.3" y="592" font-size="8" text-anchor="end" fill="#1a1a1a">0</text>
<line x1="300" y1="558.9" x2="302.6" y2="558.9" stroke="#1a1a1a" stroke-width="1"/>
<text x="296.3" y="561.6" font-size="8" text-anchor="end" fill="#1a1a1a" textLength="8.6" lengthAdjust="spacingAndGlyphs">25</text>
<line x1="300" y1="528.5" x2="302.6" y2="528.5" stroke="#1a1a1a" stroke-width="1"/>
<text x="296.3" y="531.2" font-size="8" text-anchor="end" fill="#1a1a1a" textLength="8.6" lengthAdjust="spacingAndGlyphs">50</text>
<line x1="300" y1="498.1" x2="302.6" y2="498.1" stroke="#1a1a1a" stroke-width="1"/>
<text x="296.3" y="500.8" font-size="8" text-anchor="end" fill="#1a1a1a" textLength="8.6" lengthAdjust="spacingAndGlyphs">75</text>
<line x1="300" y1="467.7" x2="302.6" y2="467.7" stroke="#1a1a1a" stroke-width="1"/>
<text x="296.3" y="470.4" font-size="8" text-anchor="end" fill="#1a1a1a" textLength="12.4" lengthAdjust="spacingAndGlyphs">100</text>
<line x1="302" y1="589.3" x2="512" y2="589.3" stroke="#1a1a1a" stroke-width="1.8"/>
<line x1="302.6" y1="589.3" x2="302.6" y2="593.1" stroke="#1a1a1a" stroke-width="1"/>
<text x="302.6" y="603" font-size="8" text-anchor="middle" fill="#1a1a1a">0</text>
<line x1="354.3" y1="589.3" x2="354.3" y2="593.1" stroke="#1a1a1a" stroke-width="1"/>
<text x="354.3" y="603" font-size="8" text-anchor="middle" fill="#1a1a1a">1</text>
<line x1="406" y1="589.3" x2="406" y2="593.1" stroke="#1a1a1a" stroke-width="1"/>
<text x="406" y="603" font-size="8" text-anchor="middle" fill="#1a1a1a">2</text>
<line x1="457.7" y1="589.3" x2="457.7" y2="593.1" stroke="#1a1a1a" stroke-width="1"/>
<text x="457.7" y="603" font-size="8" text-anchor="middle" fill="#1a1a1a">3</text>
<line x1="509.4" y1="589.3" x2="509.4" y2="593.1" stroke="#1a1a1a" stroke-width="1"/>
<text x="509.4" y="603" font-size="8" text-anchor="middle" fill="#1a1a1a">4</text>
<text x="408" y="616.2" font-size="9.6" text-anchor="middle" fill="#1a1a1a" textLength="40.8" lengthAdjust="spacingAndGlyphs">Time (hrs)</text>
<text transform="translate(276.6 526.25) rotate(-90)" font-size="9.5" text-anchor="middle" fill="#1a1a1a" textLength="104.2" lengthAdjust="spacingAndGlyphs">Percentage of maximum</text>
<path d="M42 190 L42.06 189.2 L42.12 188.4 L42.18 187.61 L42.24 186.81 L42.3 186.01 L42.36 185.21 L42.42 184.42 L42.48 183.62 L42.55 182.82 L42.61 182.02 L42.68 181.23 L42.74 180.43 L42.81 179.63 L42.88 178.84 L42.96 178.04 L43.03 177.24 L43.11 176.45 L43.18 175.65 L43.26 174.85 L43.35 174.06 L43.43 173.26 L43.51 172.47 L43.6 171.67 L43.69 170.88 L43.78 170.08 L43.87 169.29 L43.96 168.49 L44.05 167.7 L44.14 166.9 L44.23 166.11 L44.32 165.31 L44.41 164.52 L44.5 163.72 L44.6 162.93 L44.69 162.13 L44.78 161.34 L44.88 160.54 L44.97 159.75 L45.07 158.96 L45.16 158.16 L45.26 157.37 L45.36 156.57 L45.47 155.78 L45.57 154.99 L45.68 154.2 L45.79 153.4 L45.91 152.61 L46.02 151.82 L46.14 151.03 L46.27 150.24 L46.4 149.45 L46.53 148.66 L46.67 147.87 L46.81 147.09 L46.96 146.3 L47.12 145.52 L47.29 144.73 L47.46 143.95 L47.64 143.17 L47.83 142.4 L48.03 141.62 L48.24 140.85 L48.46 140.08 L48.69 139.32 L48.93 138.56 L49.19 137.8 L49.45 137.04 L49.73 136.29 L50.02 135.55 L50.32 134.81 L50.64 134.08 L50.99 133.36 L51.36 132.66 L51.77 131.98 L52.2 131.32 L52.68 130.68 L53.18 130.07 L53.72 129.49 L54.29 128.95 L54.9 128.43 L55.53 127.96 L56.19 127.52 L56.87 127.12 L57.57 126.75 L58.29 126.42 L59.03 126.14 L59.78 125.89 L60.55 125.69 L61.33 125.53 L62.11 125.4 L62.9 125.31 L63.69 125.26 L64.48 125.25 L65.28 125.28 L66.06 125.35 L66.85 125.47 L67.63 125.62 L68.41 125.8 L69.18 126 L69.95 126.22 L70.71 126.44 L71.48 126.68 L72.24 126.93 L73 127.18 L73.75 127.44 L74.51 127.7 L75.26 127.97 L76.01 128.24 L76.77 128.51 L77.52 128.78 L78.27 129.05 L79.03 129.32 L79.78 129.59 L80.53 129.86 L81.29 130.13 L82.04 130.4 L82.79 130.67 L83.55 130.94 L84.3 131.21 L85.05 131.49 L85.8 131.76 L86.55 132.04 L87.3 132.31 L88.05 132.59 L88.8 132.87 L89.55 133.14 L90.31 133.41 L91.06 133.68 L91.82 133.94 L92.57 134.2 L93.33 134.45 L94.09 134.7 L94.86 134.94 L95.62 135.18 L96.39 135.41 L97.15 135.64 L97.92 135.86 L98.69 136.08 L99.46 136.31 L100.23 136.53 L101 136.74 L101.77 136.96 L102.54 137.18 L103.31 137.4 L104.08 137.62 L104.85 137.83 L105.62 138.05 L106.39 138.26 L107.16 138.47 L107.93 138.69 L108.7 138.9 L109.47 139.11 L110.24 139.32 L111.02 139.53 L111.79 139.74 L112.56 139.95 L113.33 140.16 L114.11 140.36 L114.88 140.57 L115.65 140.78 L116.42 140.98 L117.2 141.19 L117.97 141.39 L118.74 141.6 L119.52 141.8 L120.29 142.01 L121.06 142.21 L121.84 142.41 L122.61 142.62 L123.39 142.82 L124.16 143.02 L124.93 143.22 L125.71 143.42 L126.48 143.62 L127.26 143.82 L128.04 144.01 L128.81 144.2 L129.59 144.39 L130.37 144.58 L131.15 144.76 L131.93 144.94 L132.71 145.12 L133.49 145.3 L134.27 145.47 L135.05 145.64 L135.83 145.81 L136.61 145.98 L137.39 146.15 L138.18 146.32 L138.96 146.49 L139.74 146.66 L140.52 146.83 L141.3 147 L142.08 147.18 L142.86 147.35 L143.64 147.53 L144.42 147.71 L145.2 147.89 L145.98 148.07 L146.76 148.25 L147.54 148.43 L148.32 148.61 L149.1 148.79 L149.88 148.96 L150.66 149.13 L151.44 149.3 L152.23 149.47 L153.01 149.64 L153.79 149.8 L154.57 149.96 L155.36 150.12 L156.14 150.28 L156.93 150.44 L157.71 150.6 L158.5 150.75 L159.28 150.91 L160.07 151.06 L160.85 151.21 L161.64 151.36 L162.42 151.51 L163.21 151.66 L164 151.81 L164.78 151.96 L165.57 152.11 L166.35 152.25 L167.14 152.4 L167.93 152.54 L168.71 152.69 L169.5 152.84 L170.29 152.98 L171.07 153.13 L171.86 153.27 L172.65 153.42 L173.43 153.56 L174.22 153.7 L175.01 153.85 L175.8 153.99 L176.58 154.13 L177.37 154.27 L178.16 154.41 L178.95 154.54 L179.74 154.68 L180.52 154.81 L181.31 154.95 L182.1 155.08 L182.89 155.21 L183.68 155.34 L184.47 155.46 L185.26 155.59 L186.05 155.71 L186.84 155.83 L187.63 155.95 L188.43 156.07 L189.22 156.18 L190.01 156.29 L190.8 156.41 L191.59 156.51 L192.39 156.62 L193.18 156.72 L193.97 156.83 L194.77 156.93 L195.56 157.03 L196.35 157.13 L197.15 157.23 L197.94 157.32 L198.74 157.42 L199.53 157.51 L200.33 157.61 L201.12 157.7 L201.92 157.79 L202.71 157.88 L203.5 157.97 L204.3 158.06 L205.09 158.15 L205.89 158.24 L206.69 158.32 L207.48 158.41 L208.28 158.5 L209.07 158.59 L209.87 158.67 L210.66 158.76 L211.46 158.85 L212.25 158.93 L213.05 159.02 L213.84 159.11 L214.64 159.2 L215.43 159.28 L216.23 159.37 L217.02 159.46 L217.82 159.55 L218.61 159.64 L219.41 159.73 L220.2 159.82 L221 159.92 L221.79 160.01 L222.59 160.1 L223.38 160.19 L224.18 160.28 L224.97 160.38 L225.76 160.47 L226.56 160.56 L227.35 160.65 L228.15 160.75 L228.94 160.84 L229.74 160.93 L230.53 161.02 L231.33 161.11 L232.12 161.21 L232.92 161.3 L233.71 161.39 L234.51 161.48 L235.3 161.57 L236.1 161.66 L236.89 161.76 L237.69 161.85 L238.48 161.94 L239.27 162.03 L240.07 162.12 L240.86 162.22 L241.66 162.31 L242.45 162.4 L243.25 162.49 L244.04 162.58 L244.83 162.67 L245.62 162.76 L246.41 162.85 L246.8 162.9" fill="none" stroke="#a8291f" stroke-width="1.5" stroke-linejoin="round" stroke-linecap="round"/>
<path d="M42 190 L42.11 189.21 L42.23 188.42 L42.34 187.62 L42.45 186.83 L42.57 186.04 L42.68 185.25 L42.79 184.46 L42.91 183.66 L43.02 182.87 L43.13 182.08 L43.24 181.29 L43.36 180.5 L43.47 179.7 L43.58 178.91 L43.7 178.12 L43.81 177.33 L43.92 176.54 L44.04 175.74 L44.15 174.95 L44.26 174.16 L44.38 173.37 L44.49 172.58 L44.6 171.78 L44.72 170.99 L44.83 170.2 L44.94 169.41 L45.05 168.62 L45.17 167.83 L45.28 167.03 L45.39 166.24 L45.51 165.45 L45.62 164.66 L45.73 163.87 L45.85 163.07 L45.96 162.28 L46.07 161.49 L46.19 160.7 L46.3 159.91 L46.41 159.11 L46.53 158.32 L46.64 157.53 L46.75 156.74 L46.87 155.95 L46.98 155.15 L47.09 154.36 L47.21 153.57 L47.32 152.78 L47.43 151.99 L47.55 151.19 L47.66 150.4 L47.77 149.61 L47.88 148.82 L47.99 148.03 L48.11 147.23 L48.22 146.44 L48.33 145.65 L48.44 144.86 L48.54 144.06 L48.65 143.27 L48.76 142.48 L48.87 141.69 L48.98 140.89 L49.08 140.1 L49.19 139.31 L49.3 138.52 L49.41 137.72 L49.52 136.93 L49.63 136.14 L49.74 135.35 L49.85 134.55 L49.96 133.76 L50.07 132.97 L50.19 132.18 L50.3 131.38 L50.42 130.59 L50.53 129.8 L50.65 129.01 L50.77 128.22 L50.88 127.43 L51 126.64 L51.12 125.85 L51.24 125.05 L51.36 124.26 L51.48 123.47 L51.6 122.68 L51.73 121.89 L51.85 121.1 L51.98 120.31 L52.11 119.52 L52.24 118.73 L52.38 117.94 L52.51 117.16 L52.65 116.37 L52.8 115.58 L52.94 114.8 L53.09 114.01 L53.24 113.22 L53.4 112.44 L53.56 111.66 L53.72 110.87 L53.89 110.09 L54.06 109.31 L54.24 108.53 L54.42 107.75 L54.6 106.97 L54.79 106.19 L54.99 105.42 L55.19 104.65 L55.4 103.87 L55.61 103.1 L55.83 102.33 L56.06 101.57 L56.3 100.8 L56.54 100.04 L56.79 99.28 L57.06 98.53 L57.33 97.78 L57.62 97.03 L57.92 96.29 L58.23 95.55 L58.55 94.82 L58.87 94.09 L59.21 93.36 L59.56 92.64 L59.91 91.92 L60.27 91.21 L60.63 90.5 L61.01 89.79 L61.39 89.09 L61.79 88.4 L62.2 87.71 L62.62 87.04 L63.07 86.37 L63.53 85.73 L64.02 85.1 L64.53 84.49 L65.07 83.9 L65.63 83.35 L66.23 82.84 L66.86 82.36 L67.52 81.94 L68.21 81.56 L68.93 81.24 L69.67 80.98 L70.42 80.77 L71.2 80.62 L71.98 80.52 L72.77 80.48 L73.56 80.49 L74.35 80.54 L75.13 80.64 L75.91 80.77 L76.69 80.94 L77.46 81.15 L78.22 81.38 L78.97 81.65 L79.72 81.93 L80.45 82.24 L81.18 82.56 L81.91 82.9 L82.63 83.25 L83.34 83.61 L84.05 83.98 L84.75 84.36 L85.45 84.75 L86.14 85.16 L86.82 85.57 L87.5 85.99 L88.18 86.42 L88.85 86.86 L89.51 87.3 L90.17 87.76 L90.83 88.21 L91.48 88.68 L92.13 89.14 L92.77 89.61 L93.42 90.09 L94.06 90.57 L94.7 91.05 L95.33 91.54 L95.96 92.03 L96.59 92.53 L97.21 93.03 L97.84 93.53 L98.46 94.03 L99.08 94.53 L99.7 95.04 L100.32 95.54 L100.94 96.05 L101.56 96.56 L102.18 97.06 L102.79 97.57 L103.41 98.08 L104.03 98.59 L104.66 99.09 L105.28 99.58 L105.92 100.07 L106.56 100.55 L107.2 101.02 L107.86 101.48 L108.52 101.93 L109.18 102.38 L109.85 102.81 L110.53 103.24 L111.2 103.67 L111.88 104.1 L112.56 104.52 L113.23 104.95 L113.91 105.38 L114.58 105.82 L115.25 106.25 L115.92 106.69 L116.59 107.12 L117.26 107.56 L117.93 108 L118.6 108.43 L119.28 108.86 L119.96 109.28 L120.64 109.7 L121.32 110.12 L122.01 110.53 L122.7 110.94 L123.39 111.34 L124.08 111.74 L124.77 112.14 L125.47 112.54 L126.16 112.93 L126.86 113.33 L127.55 113.72 L128.25 114.12 L128.95 114.51 L129.64 114.9 L130.34 115.29 L131.04 115.69 L131.73 116.08 L132.43 116.48 L133.13 116.87 L133.82 117.26 L134.52 117.66 L135.22 118.05 L135.91 118.44 L136.61 118.84 L137.31 119.23 L138.01 119.62 L138.71 120.01 L139.41 120.39 L140.11 120.78 L140.81 121.17 L141.51 121.55 L142.21 121.93 L142.92 122.31 L143.62 122.69 L144.33 123.07 L145.03 123.44 L145.74 123.82 L146.45 124.19 L147.16 124.56 L147.87 124.92 L148.58 125.28 L149.3 125.64 L150.02 125.99 L150.74 126.34 L151.46 126.68 L152.18 127.02 L152.91 127.36 L153.64 127.69 L154.36 128.03 L155.09 128.35 L155.82 128.68 L156.56 129.01 L157.29 129.33 L158.02 129.65 L158.75 129.97 L159.49 130.28 L160.23 130.6 L160.96 130.91 L161.7 131.22 L162.44 131.53 L163.17 131.84 L163.91 132.15 L164.65 132.45 L165.39 132.76 L166.13 133.06 L166.87 133.37 L167.61 133.67 L168.35 133.98 L169.09 134.28 L169.83 134.59 L170.57 134.89 L171.31 135.19 L172.05 135.49 L172.79 135.79 L173.54 136.09 L174.28 136.39 L175.02 136.69 L175.76 136.98 L176.51 137.28 L177.25 137.57 L178 137.86 L178.74 138.15 L179.49 138.44 L180.24 138.72 L180.99 139.01 L181.73 139.29 L182.48 139.57 L183.23 139.84 L183.99 140.12 L184.74 140.39 L185.49 140.66 L186.25 140.92 L187 141.18 L187.76 141.44 L188.52 141.7 L189.28 141.95 L190.04 142.2 L190.8 142.45 L191.56 142.69 L192.32 142.93 L193.09 143.17 L193.85 143.41 L194.62 143.64 L195.38 143.87 L196.15 144.1 L196.91 144.33 L197.68 144.55 L198.45 144.77 L199.22 145 L199.99 145.22 L200.76 145.43 L201.53 145.65 L202.3 145.86 L203.07 146.08 L203.84 146.29 L204.61 146.5 L205.39 146.71 L206.16 146.92 L206.93 147.13 L207.7 147.33 L208.48 147.54 L209.25 147.74 L210.02 147.95 L210.8 148.15 L211.57 148.36 L212.34 148.56 L213.12 148.77 L213.89 148.97 L214.66 149.18 L215.44 149.38 L216.21 149.59 L216.98 149.79 L217.76 150 L218.53 150.21 L219.3 150.41 L220.07 150.62 L220.85 150.83 L221.62 151.04 L222.39 151.24 L223.16 151.45 L223.94 151.66 L224.71 151.86 L225.48 152.07 L226.26 152.28 L227.03 152.48 L227.8 152.69 L228.58 152.89 L229.35 153.09 L230.12 153.3 L230.9 153.5 L231.67 153.71 L232.44 153.91 L233.22 154.11 L233.99 154.31 L234.77 154.51 L235.54 154.72 L236.32 154.92 L237.09 155.12 L237.86 155.32 L238.64 155.52 L239.41 155.72 L240.19 155.92 L240.96 156.11 L241.74 156.31 L242.51 156.51 L243.28 156.71 L244.04 156.9 L244.79 157.09 L245.53 157.28 L246.26 157.46 L246.8 157.6" fill="none" stroke="#000" stroke-width="1.7" stroke-linejoin="round" stroke-linecap="round"/>
<path d="M302.6 189.5 L303.17 188.94 L303.75 188.4 L304.35 187.87 L304.96 187.36 L305.59 186.87 L306.24 186.41 L306.9 185.97 L307.58 185.55 L308.28 185.16 L308.98 184.79 L309.7 184.43 L310.42 184.09 L311.15 183.77 L311.89 183.47 L312.63 183.17 L313.38 182.89 L314.13 182.62 L314.89 182.36 L315.65 182.11 L316.41 181.86 L317.17 181.62 L317.94 181.38 L318.7 181.16 L319.47 180.94 L320.24 180.73 L321.02 180.52 L321.79 180.33 L322.57 180.15 L323.35 179.98 L324.13 179.81 L324.92 179.65 L325.7 179.5 L326.49 179.36 L327.28 179.23 L328.07 179.1 L328.86 178.98 L329.65 178.87 L330.44 178.76 L331.24 178.65 L332.03 178.55 L332.82 178.46 L333.62 178.37 L334.41 178.28 L335.21 178.19 L336.01 178.11 L336.8 178.03 L337.6 177.96 L338.39 177.88 L339.19 177.81 L339.99 177.74 L340.79 177.67 L341.58 177.61 L342.38 177.54 L343.18 177.48 L343.98 177.42 L344.77 177.36 L345.57 177.31 L346.37 177.25 L347.17 177.2 L347.97 177.14 L348.76 177.09 L349.56 177.04 L350.36 176.99 L351.16 176.95 L351.96 176.9 L352.76 176.85 L353.56 176.81 L354.35 176.77 L355.15 176.72 L355.95 176.68 L356.75 176.64 L357.55 176.61 L358.35 176.57 L359.15 176.54 L359.95 176.51 L360.75 176.48 L361.55 176.45 L362.35 176.42 L363.15 176.4 L363.95 176.37 L364.75 176.35 L365.55 176.33 L366.35 176.3 L367.14 176.28 L367.94 176.26 L368.74 176.24 L369.54 176.22 L370.34 176.2 L371.14 176.18 L371.94 176.16 L372.74 176.14 L373.54 176.13 L374.34 176.11 L375.14 176.09 L375.94 176.08 L376.74 176.06 L377.54 176.04 L378.34 176.03 L379.14 176.02 L379.94 176 L380.74 175.99 L381.54 175.97 L382.34 175.96 L383.14 175.95 L383.94 175.93 L384.74 175.92 L385.54 175.9 L386.34 175.89 L387.14 175.88 L387.94 175.86 L388.74 175.85 L389.54 175.84 L390.34 175.83 L391.14 175.81 L391.94 175.8 L392.74 175.79 L393.54 175.78 L394.34 175.77 L395.14 175.76 L395.94 175.75 L396.74 175.74 L397.54 175.73 L398.34 175.73 L399.14 175.72 L399.94 175.72 L400.74 175.71 L401.54 175.71 L402.34 175.71 L403.14 175.7 L403.94 175.7 L404.74 175.7 L405.54 175.7 L406.34 175.7 L407.14 175.7 L407.94 175.7 L408.74 175.7 L409.54 175.7 L410.34 175.7 L411.14 175.7 L411.94 175.7 L412.74 175.7 L413.54 175.7 L414.34 175.7 L415.14 175.7 L415.94 175.7 L416.74 175.7 L417.54 175.7 L418.34 175.7 L419.14 175.7 L419.94 175.7 L420.74 175.7 L421.54 175.7 L422.34 175.7 L423.14 175.7 L423.94 175.7 L424.74 175.7 L425.54 175.7 L426.34 175.7 L427.14 175.7 L427.94 175.7 L428.74 175.7 L429.54 175.7 L430.34 175.7 L431.14 175.7 L431.94 175.7 L432.74 175.7 L433.54 175.7 L434.34 175.7 L435.14 175.7 L435.94 175.7 L436.74 175.7 L437.54 175.7 L438.34 175.7 L439.14 175.7 L439.94 175.7 L440.74 175.7 L441.54 175.7 L442.34 175.7 L443.14 175.7 L443.94 175.7 L444.74 175.7 L445.54 175.7 L446.34 175.7 L447.14 175.7 L447.94 175.7 L448.74 175.7 L449.54 175.7 L450.34 175.7 L451.14 175.7 L451.94 175.7 L452.74 175.7 L453.54 175.7 L454.34 175.7 L455.14 175.71 L455.94 175.71 L456.74 175.71 L457.54 175.71 L458.34 175.72 L459.14 175.72 L459.94 175.72 L460.74 175.72 L461.54 175.73 L462.34 175.73 L463.14 175.74 L463.94 175.74 L464.74 175.74 L465.54 175.75 L466.34 175.75 L467.14 175.76 L467.94 175.76 L468.74 175.77 L469.54 175.78 L470.34 175.78 L471.14 175.79 L471.94 175.79 L472.74 175.8 L473.54 175.81 L474.34 175.81 L475.14 175.82 L475.94 175.83 L476.74 175.84 L477.54 175.84 L478.34 175.85 L479.14 175.86 L479.94 175.87 L480.74 175.87 L481.54 175.88 L482.34 175.89 L483.14 175.9 L483.94 175.91 L484.74 175.92 L485.54 175.93 L486.34 175.93 L487.14 175.94 L487.94 175.95 L488.74 175.96 L489.54 175.97 L490.34 175.98 L491.14 175.99 L491.94 176 L492.74 176.01 L493.54 176.02 L494.34 176.03 L495.14 176.04 L495.94 176.05 L496.74 176.06 L497.54 176.07 L498.34 176.08 L499.14 176.09 L499.94 176.1 L500.74 176.11 L501.54 176.12 L502.34 176.13 L503.14 176.14 L503.93 176.15 L504.73 176.17 L505.52 176.18 L506.31 176.19 L507.1 176.2 L507.3 176.2" fill="none" stroke="#d4924c" stroke-width="1.4" stroke-linejoin="round" stroke-linecap="round"/>
<path d="M302.6 189.5 L303.26 189.05 L303.93 188.62 L304.61 188.19 L305.29 187.78 L305.99 187.39 L306.69 187.02 L307.41 186.66 L308.13 186.32 L308.86 185.99 L309.59 185.68 L310.33 185.37 L311.08 185.08 L311.82 184.8 L312.58 184.53 L313.33 184.27 L314.09 184.01 L314.85 183.77 L315.62 183.54 L316.39 183.31 L317.15 183.09 L317.93 182.88 L318.7 182.68 L319.48 182.49 L320.25 182.3 L321.03 182.13 L321.82 181.97 L322.6 181.83 L323.39 181.7 L324.18 181.58 L324.97 181.47 L325.77 181.37 L326.56 181.27 L327.36 181.18 L328.15 181.1 L328.95 181.01 L329.74 180.92 L330.54 180.84 L331.33 180.75 L332.13 180.66 L332.92 180.58 L333.72 180.49 L334.51 180.41 L335.31 180.32 L336.11 180.24 L336.9 180.15 L337.7 180.07 L338.49 179.99 L339.29 179.91 L340.09 179.83 L340.88 179.75 L341.68 179.68 L342.47 179.6 L343.27 179.52 L344.07 179.45 L344.86 179.37 L345.66 179.3 L346.46 179.23 L347.25 179.16 L348.05 179.09 L348.85 179.03 L349.65 178.97 L350.44 178.91 L351.24 178.85 L352.04 178.8 L352.84 178.75 L353.64 178.71 L354.44 178.67 L355.24 178.62 L356.03 178.58 L356.83 178.55 L357.63 178.51 L358.43 178.47 L359.23 178.43 L360.03 178.4 L360.83 178.36 L361.63 178.32 L362.43 178.29 L363.23 178.25 L364.03 178.21 L364.82 178.17 L365.62 178.14 L366.42 178.1 L367.22 178.06 L368.02 178.03 L368.82 177.99 L369.62 177.95 L370.42 177.92 L371.22 177.88 L372.02 177.84 L372.82 177.81 L373.62 177.77 L374.41 177.74 L375.21 177.7 L376.01 177.67 L376.81 177.63 L377.61 177.6 L378.41 177.57 L379.21 177.53 L380.01 177.5 L380.81 177.47 L381.61 177.44 L382.41 177.4 L383.21 177.37 L384.01 177.34 L384.81 177.31 L385.61 177.28 L386.4 177.25 L387.2 177.22 L388 177.19 L388.8 177.16 L389.6 177.13 L390.4 177.1 L391.2 177.08 L392 177.05 L392.8 177.02 L393.6 176.99 L394.4 176.96 L395.2 176.93 L396 176.9 L396.8 176.87 L397.6 176.84 L398.4 176.81 L399.2 176.78 L400 176.75 L400.8 176.72 L401.59 176.69 L402.39 176.66 L403.19 176.63 L403.99 176.6 L404.79 176.57 L405.59 176.54 L406.39 176.5 L407.19 176.47 L407.99 176.44 L408.79 176.4 L409.59 176.37 L410.39 176.34 L411.19 176.3 L411.99 176.27 L412.79 176.24 L413.58 176.2 L414.38 176.17 L415.18 176.13 L415.98 176.1 L416.78 176.06 L417.58 176.03 L418.38 175.99 L419.18 175.96 L419.98 175.92 L420.78 175.89 L421.58 175.85 L422.38 175.82 L423.18 175.78 L423.97 175.75 L424.77 175.71 L425.57 175.67 L426.37 175.64 L427.17 175.6 L427.97 175.57 L428.77 175.53 L429.57 175.5 L430.37 175.46 L431.17 175.42 L431.97 175.39 L432.77 175.35 L433.56 175.32 L434.36 175.28 L435.16 175.25 L435.96 175.21 L436.76 175.17 L437.56 175.14 L438.36 175.1 L439.16 175.07 L439.96 175.03 L440.76 175 L441.56 174.96 L442.36 174.93 L443.16 174.89 L443.95 174.86 L444.75 174.82 L445.55 174.79 L446.35 174.75 L447.15 174.72 L447.95 174.69 L448.75 174.65 L449.55 174.62 L450.35 174.59 L451.15 174.55 L451.95 174.52 L452.75 174.49 L453.55 174.45 L454.35 174.42 L455.14 174.39 L455.94 174.35 L456.74 174.32 L457.54 174.29 L458.34 174.25 L459.14 174.22 L459.94 174.19 L460.74 174.15 L461.54 174.12 L462.34 174.09 L463.14 174.06 L463.94 174.02 L464.74 173.99 L465.54 173.96 L466.34 173.92 L467.13 173.89 L467.93 173.86 L468.73 173.83 L469.53 173.79 L470.33 173.76 L471.13 173.73 L471.93 173.7 L472.73 173.66 L473.53 173.63 L474.33 173.6 L475.13 173.57 L475.93 173.53 L476.73 173.5 L477.53 173.47 L478.33 173.44 L479.12 173.41 L479.92 173.37 L480.72 173.34 L481.52 173.31 L482.32 173.28 L483.12 173.25 L483.92 173.21 L484.72 173.18 L485.52 173.15 L486.32 173.12 L487.12 173.09 L487.92 173.06 L488.72 173.02 L489.52 172.99 L490.32 172.96 L491.12 172.93 L491.91 172.9 L492.71 172.87 L493.51 172.83 L494.31 172.8 L495.11 172.77 L495.91 172.74 L496.71 172.71 L497.51 172.68 L498.31 172.65 L499.11 172.62 L499.91 172.59 L500.71 172.55 L501.51 172.52 L502.31 172.49 L503.11 172.46 L503.91 172.43 L504.7 172.4 L505.5 172.37 L506.3 172.34 L507.1 172.31 L507.3 172.3" fill="none" stroke="#4a80c4" stroke-width="1.4" stroke-linejoin="round" stroke-linecap="round"/>
<path d="M41.8 399.5 L42.32 398.94 L42.82 398.36 L43.27 397.74 L43.68 397.09 L44.05 396.4 L44.37 395.68 L44.66 394.94 L44.92 394.19 L45.15 393.43 L45.35 392.65 L45.52 391.88 L45.68 391.09 L45.82 390.31 L45.94 389.52 L46.06 388.73 L46.17 387.93 L46.27 387.14 L46.37 386.35 L46.48 385.55 L46.57 384.76 L46.67 383.97 L46.77 383.17 L46.86 382.38 L46.96 381.58 L47.05 380.79 L47.14 379.99 L47.23 379.2 L47.31 378.4 L47.4 377.61 L47.48 376.81 L47.55 376.01 L47.63 375.22 L47.7 374.42 L47.78 373.63 L47.85 372.83 L47.92 372.03 L48 371.24 L48.07 370.44 L48.14 369.64 L48.22 368.85 L48.29 368.05 L48.37 367.25 L48.44 366.46 L48.52 365.66 L48.61 364.86 L48.69 364.07 L48.78 363.27 L48.87 362.48 L48.96 361.68 L49.05 360.89 L49.15 360.1 L49.25 359.3 L49.35 358.51 L49.45 357.71 L49.55 356.92 L49.66 356.13 L49.77 355.34 L49.88 354.54 L49.99 353.75 L50.1 352.96 L50.22 352.17 L50.35 351.38 L50.48 350.59 L50.61 349.8 L50.75 349.01 L50.89 348.23 L51.04 347.44 L51.2 346.66 L51.36 345.87 L51.53 345.09 L51.71 344.31 L51.9 343.54 L52.11 342.77 L52.35 342.01 L52.62 341.27 L52.94 340.55 L53.31 339.86 L53.73 339.2 L54.2 338.6 L54.74 338.06 L55.34 337.6 L55.98 337.23 L56.66 336.97 L57.38 336.83 L58.1 336.83 L58.81 336.95 L59.51 337.19 L60.19 337.53 L60.83 337.95 L61.44 338.43 L62.02 338.97 L62.56 339.54 L63.07 340.14 L63.56 340.77 L64.03 341.42 L64.47 342.08 L64.9 342.75 L65.31 343.44 L65.71 344.13 L66.1 344.83 L66.48 345.53 L66.84 346.24 L67.21 346.96 L67.57 347.67 L67.92 348.39 L68.27 349.11 L68.61 349.83 L68.95 350.56 L69.28 351.28 L69.62 352.01 L69.95 352.74 L70.28 353.47 L70.61 354.19 L70.94 354.92 L71.28 355.65 L71.61 356.37 L71.95 357.1 L72.29 357.82 L72.63 358.55 L72.97 359.27 L73.31 360 L73.65 360.72 L73.99 361.44 L74.34 362.16 L74.69 362.88 L75.04 363.6 L75.41 364.31 L75.78 365.02 L76.15 365.73 L76.54 366.43 L76.94 367.12 L77.35 367.81 L77.77 368.49 L78.2 369.16 L78.63 369.83 L79.08 370.5 L79.53 371.15 L79.99 371.81 L80.46 372.45 L80.94 373.1 L81.43 373.73 L81.92 374.36 L82.42 374.98 L82.93 375.6 L83.45 376.21 L83.97 376.82 L84.5 377.41 L85.04 378.01 L85.58 378.59 L86.13 379.17 L86.7 379.74 L87.27 380.3 L87.85 380.85 L88.44 381.38 L89.05 381.9 L89.66 382.41 L90.29 382.9 L90.94 383.37 L91.59 383.83 L92.25 384.28 L92.92 384.71 L93.6 385.14 L94.28 385.55 L94.97 385.96 L95.66 386.36 L96.36 386.75 L97.06 387.14 L97.76 387.52 L98.47 387.9 L99.18 388.27 L99.89 388.63 L100.61 388.99 L101.33 389.33 L102.05 389.68 L102.78 390.01 L103.51 390.34 L104.24 390.66 L104.97 390.98 L105.71 391.29 L106.45 391.59 L107.19 391.89 L107.94 392.18 L108.69 392.46 L109.44 392.74 L110.19 393.01 L110.94 393.27 L111.7 393.53 L112.46 393.78 L113.22 394.03 L113.98 394.27 L114.75 394.5 L115.52 394.72 L116.29 394.92 L117.07 395.12 L117.85 395.3 L118.63 395.46 L119.41 395.62 L120.2 395.76 L120.99 395.9 L121.78 396.02 L122.57 396.14 L123.36 396.26 L124.15 396.37 L124.94 396.48 L125.74 396.59 L126.53 396.7 L127.32 396.8 L128.11 396.91 L128.91 397.01 L129.7 397.11 L130.49 397.21 L131.29 397.3 L132.08 397.39 L132.88 397.48 L133.68 397.56 L134.47 397.64 L135.27 397.71 L136.07 397.78 L136.86 397.84 L137.66 397.9 L138.46 397.96 L139.26 398.01 L140.05 398.07 L140.85 398.12 L141.65 398.16 L142.45 398.21 L143.25 398.25 L144.05 398.29 L144.85 398.32 L145.65 398.36 L146.45 398.4 L147.24 398.43 L148.04 398.46 L148.84 398.49 L149.64 398.52 L150.44 398.55 L151.24 398.58 L152.04 398.6 L152.84 398.62 L153.64 398.64 L154.44 398.66 L155.24 398.68 L156.04 398.69 L156.84 398.7 L157.64 398.71 L158.44 398.72 L159.24 398.72 L160.04 398.73 L160.84 398.74 L161.64 398.74 L162.44 398.75 L163.24 398.76 L164.04 398.76 L164.84 398.77 L165.64 398.78 L166.44 398.78 L167.24 398.79 L168.04 398.79 L168.84 398.8 L169.64 398.8 L170.44 398.81 L171.24 398.81 L172.04 398.82 L172.84 398.82 L173.64 398.83 L174.44 398.83 L175.24 398.84 L176.04 398.84 L176.84 398.84 L177.64 398.85 L178.44 398.85 L179.24 398.85 L180.04 398.86 L180.84 398.86 L181.64 398.86 L182.44 398.87 L183.24 398.87 L184.04 398.87 L184.84 398.88 L185.64 398.88 L186.44 398.88 L187.24 398.88 L188.04 398.88 L188.84 398.89 L189.64 398.89 L190.44 398.89 L191.24 398.89 L192.04 398.89 L192.84 398.89 L193.64 398.9 L194.44 398.9 L195.24 398.9 L196.04 398.9 L196.84 398.9 L197.64 398.9 L198.44 398.9 L199.24 398.9 L200.04 398.9 L200.84 398.9 L201.64 398.9 L202.44 398.9 L203.24 398.9 L204.04 398.9 L204.84 398.9 L205.64 398.9 L206.44 398.9 L207.24 398.9 L208.04 398.9 L208.84 398.9 L209.64 398.9 L210.44 398.9 L211.24 398.9 L212.04 398.9 L212.84 398.9 L213.64 398.9 L214.44 398.9 L215.24 398.9 L216.04 398.9 L216.84 398.9 L217.64 398.9 L218.44 398.9 L219.24 398.9 L220.04 398.9 L220.84 398.9 L221.64 398.9 L222.44 398.9 L223.24 398.9 L224.04 398.9 L224.84 398.9 L225.64 398.9 L226.44 398.9 L227.24 398.9 L228.04 398.9 L228.84 398.9 L229.64 398.9 L230.44 398.9 L231.24 398.9 L232.04 398.9 L232.84 398.9 L233.64 398.9 L234.44 398.9 L235.24 398.9 L236.04 398.9 L236.84 398.9 L237.64 398.9 L238.44 398.9 L239.24 398.9 L240.04 398.9 L240.84 398.9 L241.64 398.9 L242.44 398.9 L243.24 398.9 L244.03 398.9 L244.83 398.9 L245.62 398.9 L246.41 398.9 L246.8 398.9" fill="none" stroke="#a8291f" stroke-width="1.4" stroke-linejoin="round" stroke-linecap="round"/>
<path d="M41.8 399.5 L41.86 398.7 L41.92 397.9 L41.98 397.11 L42.04 396.31 L42.09 395.51 L42.15 394.71 L42.21 393.92 L42.27 393.12 L42.33 392.32 L42.39 391.52 L42.45 390.72 L42.51 389.93 L42.57 389.13 L42.63 388.33 L42.69 387.53 L42.76 386.74 L42.82 385.94 L42.88 385.14 L42.94 384.34 L43 383.55 L43.06 382.75 L43.13 381.95 L43.19 381.15 L43.25 380.35 L43.31 379.56 L43.38 378.76 L43.44 377.96 L43.5 377.16 L43.57 376.37 L43.63 375.57 L43.69 374.77 L43.76 373.98 L43.82 373.18 L43.89 372.38 L43.95 371.58 L44.02 370.79 L44.09 369.99 L44.15 369.19 L44.22 368.39 L44.29 367.6 L44.36 366.8 L44.43 366 L44.5 365.21 L44.58 364.41 L44.65 363.61 L44.72 362.82 L44.8 362.02 L44.87 361.22 L44.94 360.43 L45.02 359.63 L45.09 358.83 L45.17 358.04 L45.24 357.24 L45.31 356.44 L45.38 355.65 L45.46 354.85 L45.53 354.05 L45.6 353.26 L45.66 352.46 L45.73 351.66 L45.8 350.87 L45.87 350.07 L45.93 349.27 L45.99 348.47 L46.06 347.68 L46.12 346.88 L46.18 346.08 L46.24 345.28 L46.29 344.48 L46.35 343.69 L46.4 342.89 L46.46 342.09 L46.51 341.29 L46.55 340.49 L46.6 339.69 L46.65 338.9 L46.69 338.1 L46.74 337.3 L46.78 336.5 L46.83 335.7 L46.87 334.9 L46.91 334.1 L46.96 333.3 L47 332.51 L47.04 331.71 L47.09 330.91 L47.13 330.11 L47.17 329.31 L47.22 328.51 L47.27 327.71 L47.31 326.91 L47.36 326.12 L47.41 325.32 L47.46 324.52 L47.52 323.72 L47.58 322.92 L47.64 322.13 L47.7 321.33 L47.77 320.53 L47.84 319.73 L47.92 318.94 L47.99 318.14 L48.07 317.35 L48.16 316.55 L48.24 315.75 L48.33 314.96 L48.42 314.17 L48.52 313.37 L48.61 312.58 L48.71 311.78 L48.81 310.99 L48.91 310.19 L49.01 309.4 L49.11 308.61 L49.22 307.81 L49.32 307.02 L49.42 306.23 L49.53 305.43 L49.63 304.64 L49.74 303.85 L49.85 303.06 L49.97 302.27 L50.08 301.47 L50.2 300.68 L50.32 299.89 L50.45 299.1 L50.57 298.31 L50.7 297.52 L50.84 296.73 L50.97 295.94 L51.11 295.16 L51.25 294.37 L51.39 293.58 L51.54 292.8 L51.7 292.01 L51.87 291.23 L52.05 290.45 L52.24 289.68 L52.46 288.91 L52.69 288.15 L52.95 287.4 L53.24 286.66 L53.57 285.94 L53.94 285.25 L54.36 284.61 L54.83 284.03 L55.37 283.54 L55.95 283.17 L56.59 282.95 L57.25 282.89 L57.92 282.98 L58.58 283.22 L59.22 283.58 L59.83 284.03 L60.4 284.55 L60.93 285.13 L61.44 285.73 L61.92 286.37 L62.38 287.02 L62.83 287.68 L63.26 288.35 L63.67 289.04 L64.08 289.72 L64.49 290.41 L64.89 291.11 L65.28 291.8 L65.67 292.5 L66.06 293.2 L66.45 293.9 L66.83 294.6 L67.2 295.31 L67.57 296.02 L67.93 296.73 L68.29 297.45 L68.64 298.17 L68.98 298.89 L69.32 299.62 L69.65 300.34 L69.98 301.07 L70.32 301.8 L70.65 302.52 L70.99 303.25 L71.33 303.98 L71.67 304.7 L72.01 305.42 L72.37 306.14 L72.72 306.86 L73.07 307.57 L73.43 308.29 L73.8 309 L74.16 309.71 L74.52 310.42 L74.89 311.14 L75.26 311.84 L75.63 312.55 L76.01 313.26 L76.38 313.97 L76.76 314.67 L77.14 315.38 L77.52 316.08 L77.91 316.78 L78.29 317.48 L78.68 318.18 L79.07 318.88 L79.47 319.57 L79.87 320.27 L80.27 320.96 L80.68 321.65 L81.09 322.33 L81.5 323.02 L81.92 323.7 L82.34 324.38 L82.77 325.06 L83.2 325.73 L83.63 326.4 L84.07 327.07 L84.51 327.74 L84.96 328.4 L85.41 329.06 L85.87 329.72 L86.33 330.37 L86.8 331.01 L87.28 331.66 L87.76 332.3 L88.24 332.94 L88.72 333.58 L89.19 334.22 L89.67 334.86 L90.14 335.51 L90.61 336.16 L91.07 336.81 L91.53 337.47 L91.97 338.13 L92.42 338.8 L92.86 339.46 L93.31 340.13 L93.76 340.79 L94.22 341.44 L94.68 342.09 L95.16 342.73 L95.64 343.37 L96.14 344 L96.64 344.62 L97.15 345.23 L97.67 345.84 L98.2 346.45 L98.72 347.05 L99.26 347.64 L99.8 348.23 L100.34 348.82 L100.89 349.4 L101.44 349.98 L102 350.56 L102.55 351.13 L103.12 351.7 L103.68 352.27 L104.25 352.83 L104.82 353.39 L105.4 353.95 L105.98 354.5 L106.56 355.04 L107.15 355.59 L107.74 356.13 L108.33 356.66 L108.93 357.2 L109.53 357.72 L110.13 358.25 L110.74 358.77 L111.35 359.29 L111.96 359.8 L112.58 360.31 L113.2 360.81 L113.82 361.31 L114.45 361.81 L115.08 362.3 L115.71 362.79 L116.35 363.28 L116.99 363.76 L117.63 364.24 L118.27 364.71 L118.92 365.18 L119.57 365.65 L120.22 366.11 L120.88 366.57 L121.53 367.03 L122.2 367.48 L122.86 367.92 L123.53 368.36 L124.2 368.79 L124.88 369.21 L125.57 369.62 L126.26 370.03 L126.95 370.43 L127.65 370.82 L128.35 371.2 L129.06 371.57 L129.77 371.94 L130.48 372.31 L131.2 372.67 L131.91 373.02 L132.63 373.37 L133.35 373.72 L134.07 374.06 L134.8 374.41 L135.52 374.74 L136.25 375.08 L136.97 375.41 L137.7 375.74 L138.43 376.07 L139.17 376.39 L139.9 376.71 L140.63 377.03 L141.37 377.34 L142.11 377.64 L142.85 377.95 L143.59 378.25 L144.34 378.54 L145.08 378.83 L145.83 379.12 L146.58 379.4 L147.33 379.68 L148.08 379.96 L148.83 380.23 L149.58 380.5 L150.34 380.77 L151.09 381.03 L151.85 381.29 L152.61 381.55 L153.37 381.8 L154.13 382.04 L154.89 382.29 L155.65 382.53 L156.42 382.76 L157.18 383 L157.95 383.23 L158.71 383.45 L159.48 383.68 L160.25 383.9 L161.02 384.11 L161.79 384.32 L162.57 384.52 L163.34 384.71 L164.12 384.9 L164.9 385.08 L165.68 385.24 L166.47 385.4 L167.25 385.55 L168.04 385.7 L168.83 385.83 L169.62 385.96 L170.41 386.09 L171.2 386.22 L171.99 386.34 L172.78 386.46 L173.57 386.58 L174.36 386.7 L175.15 386.83 L175.94 386.95 L176.73 387.08 L177.52 387.2 L178.31 387.33 L179.1 387.46 L179.89 387.58 L180.68 387.71 L181.47 387.84 L182.26 387.96 L183.05 388.09 L183.84 388.21 L184.63 388.33 L185.42 388.46 L186.21 388.58 L187 388.7 L187.79 388.82 L188.59 388.93 L189.38 389.05 L190.17 389.16 L190.96 389.27 L191.75 389.39 L192.55 389.5 L193.34 389.6 L194.13 389.71 L194.92 389.82 L195.72 389.92 L196.51 390.03 L197.3 390.13 L198.1 390.23 L198.89 390.33 L199.68 390.44 L200.48 390.54 L201.27 390.64 L202.06 390.74 L202.86 390.84 L203.65 390.93 L204.45 391.03 L205.24 391.13 L206.03 391.23 L206.83 391.33 L207.62 391.43 L208.42 391.53 L209.21 391.63 L210 391.73 L210.8 391.83 L211.59 391.93 L212.38 392.02 L213.18 392.12 L213.97 392.22 L214.77 392.31 L215.56 392.41 L216.36 392.5 L217.15 392.58 L217.95 392.67 L218.74 392.75 L219.54 392.83 L220.34 392.91 L221.13 392.99 L221.93 393.06 L222.73 393.13 L223.52 393.19 L224.32 393.26 L225.12 393.33 L225.91 393.39 L226.71 393.45 L227.51 393.51 L228.31 393.57 L229.11 393.62 L229.9 393.68 L230.7 393.74 L231.5 393.79 L232.3 393.84 L233.1 393.89 L233.9 393.94 L234.69 393.99 L235.49 394.04 L236.29 394.08 L237.09 394.13 L237.89 394.17 L238.69 394.22 L239.49 394.26 L240.28 394.3 L241.08 394.34 L241.88 394.38 L242.68 394.42 L243.47 394.46 L244.27 394.49 L245.05 394.53 L245.83 394.56 L246.61 394.59 L246.8 394.6" fill="none" stroke="#000" stroke-width="1.7" stroke-linejoin="round" stroke-linecap="round"/>
<path d="M302.6 399.5 L302.63 398.7 L302.67 397.9 L302.7 397.1 L302.74 396.3 L302.77 395.5 L302.81 394.7 L302.84 393.91 L302.88 393.11 L302.91 392.31 L302.95 391.51 L302.98 390.71 L303.02 389.91 L303.05 389.11 L303.09 388.31 L303.13 387.51 L303.16 386.71 L303.2 385.91 L303.24 385.11 L303.27 384.31 L303.31 383.52 L303.35 382.72 L303.39 381.92 L303.42 381.12 L303.46 380.32 L303.5 379.52 L303.54 378.72 L303.58 377.92 L303.62 377.12 L303.66 376.32 L303.7 375.53 L303.74 374.73 L303.78 373.93 L303.82 373.13 L303.86 372.33 L303.9 371.53 L303.94 370.73 L303.99 369.93 L304.03 369.13 L304.07 368.33 L304.12 367.54 L304.16 366.74 L304.21 365.94 L304.25 365.14 L304.3 364.34 L304.34 363.54 L304.39 362.74 L304.44 361.95 L304.48 361.15 L304.53 360.35 L304.58 359.55 L304.63 358.75 L304.68 357.95 L304.73 357.15 L304.78 356.36 L304.83 355.56 L304.88 354.76 L304.93 353.96 L304.98 353.16 L305.04 352.36 L305.09 351.57 L305.14 350.77 L305.2 349.97 L305.25 349.17 L305.31 348.37 L305.36 347.58 L305.42 346.78 L305.48 345.98 L305.54 345.18 L305.6 344.38 L305.66 343.59 L305.72 342.79 L305.78 341.99 L305.85 341.19 L305.91 340.4 L305.98 339.6 L306.05 338.8 L306.12 338.01 L306.2 337.21 L306.28 336.41 L306.35 335.62 L306.43 334.82 L306.52 334.03 L306.6 333.23 L306.68 332.43 L306.77 331.64 L306.86 330.84 L306.95 330.05 L307.04 329.25 L307.14 328.46 L307.24 327.67 L307.34 326.87 L307.46 326.08 L307.58 325.29 L307.71 324.5 L307.86 323.72 L308.02 322.94 L308.21 322.16 L308.41 321.39 L308.64 320.62 L308.89 319.87 L309.17 319.13 L309.5 318.42 L309.88 317.74 L310.31 317.1 L310.81 316.52 L311.36 316.01 L311.97 315.59 L312.63 315.27 L313.32 315.08 L314.04 315.02 L314.76 315.09 L315.48 315.28 L316.18 315.56 L316.86 315.93 L317.52 316.35 L318.15 316.83 L318.75 317.34 L319.33 317.88 L319.9 318.44 L320.45 319.02 L321 319.6 L321.54 320.19 L322.09 320.77 L322.63 321.35 L323.18 321.94 L323.73 322.52 L324.28 323.1 L324.82 323.69 L325.36 324.28 L325.9 324.87 L326.43 325.47 L326.95 326.07 L327.47 326.68 L327.98 327.3 L328.48 327.93 L328.97 328.56 L329.46 329.19 L329.94 329.83 L330.42 330.47 L330.89 331.11 L331.37 331.75 L331.86 332.39 L332.34 333.02 L332.84 333.65 L333.34 334.27 L333.86 334.89 L334.38 335.49 L334.9 336.09 L335.44 336.69 L335.98 337.28 L336.52 337.87 L337.07 338.45 L337.62 339.03 L338.16 339.62 L338.72 340.2 L339.27 340.78 L339.82 341.36 L340.36 341.94 L340.91 342.52 L341.46 343.1 L342.02 343.68 L342.57 344.26 L343.13 344.83 L343.69 345.39 L344.27 345.95 L344.85 346.5 L345.43 347.05 L346.03 347.58 L346.64 348.09 L347.26 348.6 L347.88 349.1 L348.51 349.59 L349.15 350.07 L349.79 350.55 L350.44 351.02 L351.09 351.48 L351.74 351.95 L352.4 352.41 L353.05 352.87 L353.71 353.32 L354.37 353.78 L355.02 354.24 L355.68 354.69 L356.35 355.14 L357.01 355.58 L357.68 356.02 L358.35 356.45 L359.03 356.88 L359.71 357.29 L360.4 357.7 L361.09 358.11 L361.78 358.51 L362.48 358.9 L363.18 359.28 L363.89 359.66 L364.59 360.04 L365.3 360.41 L366.01 360.78 L366.72 361.14 L367.43 361.51 L368.15 361.87 L368.86 362.23 L369.58 362.59 L370.3 362.94 L371.01 363.3 L371.73 363.65 L372.45 364 L373.17 364.35 L373.89 364.69 L374.61 365.04 L375.34 365.37 L376.06 365.71 L376.79 366.05 L377.52 366.38 L378.25 366.71 L378.98 367.03 L379.71 367.36 L380.44 367.69 L381.17 368.02 L381.9 368.34 L382.63 368.67 L383.36 369 L384.09 369.32 L384.82 369.65 L385.55 369.97 L386.28 370.3 L387.01 370.62 L387.75 370.94 L388.48 371.26 L389.21 371.58 L389.95 371.89 L390.69 372.21 L391.42 372.52 L392.16 372.83 L392.9 373.14 L393.64 373.44 L394.38 373.74 L395.12 374.04 L395.87 374.33 L396.61 374.62 L397.36 374.9 L398.11 375.19 L398.86 375.46 L399.61 375.73 L400.37 376 L401.12 376.26 L401.88 376.52 L402.64 376.77 L403.4 377.01 L404.17 377.25 L404.93 377.48 L405.7 377.71 L406.46 377.93 L407.23 378.15 L408 378.37 L408.78 378.58 L409.55 378.79 L410.32 378.99 L411.1 379.19 L411.87 379.39 L412.65 379.58 L413.43 379.77 L414.2 379.95 L414.98 380.13 L415.76 380.31 L416.55 380.48 L417.33 380.65 L418.11 380.81 L418.9 380.97 L419.68 381.13 L420.47 381.28 L421.25 381.43 L422.04 381.57 L422.83 381.71 L423.61 381.85 L424.4 381.99 L425.19 382.12 L425.98 382.25 L426.77 382.38 L427.56 382.5 L428.35 382.63 L429.14 382.75 L429.93 382.87 L430.72 382.99 L431.51 383.1 L432.31 383.22 L433.1 383.33 L433.89 383.45 L434.68 383.56 L435.47 383.67 L436.27 383.78 L437.06 383.89 L437.85 384 L438.64 384.11 L439.44 384.22 L440.23 384.33 L441.02 384.44 L441.81 384.55 L442.61 384.66 L443.4 384.77 L444.19 384.87 L444.98 384.98 L445.78 385.09 L446.57 385.19 L447.36 385.3 L448.16 385.4 L448.95 385.5 L449.74 385.6 L450.54 385.7 L451.33 385.8 L452.12 385.9 L452.92 386 L453.71 386.1 L454.51 386.19 L455.3 386.28 L456.1 386.37 L456.89 386.46 L457.69 386.55 L458.48 386.64 L459.28 386.72 L460.07 386.8 L460.87 386.89 L461.66 386.97 L462.46 387.05 L463.26 387.13 L464.05 387.21 L464.85 387.29 L465.64 387.37 L466.44 387.45 L467.24 387.53 L468.03 387.6 L468.83 387.68 L469.63 387.76 L470.42 387.84 L471.22 387.91 L472.01 387.99 L472.81 388.06 L473.61 388.14 L474.4 388.21 L475.2 388.29 L476 388.36 L476.79 388.44 L477.59 388.51 L478.39 388.58 L479.18 388.65 L479.98 388.72 L480.78 388.79 L481.57 388.86 L482.37 388.93 L483.17 389 L483.97 389.07 L484.76 389.14 L485.56 389.2 L486.36 389.27 L487.15 389.33 L487.95 389.4 L488.75 389.46 L489.55 389.52 L490.34 389.59 L491.14 389.65 L491.94 389.71 L492.74 389.77 L493.54 389.83 L494.33 389.88 L495.13 389.94 L495.93 390 L496.73 390.05 L497.53 390.11 L498.32 390.16 L499.12 390.21 L499.92 390.26 L500.72 390.32 L501.52 390.37 L502.32 390.41 L503.11 390.46 L503.91 390.51 L504.71 390.56 L505.51 390.6 L506.3 390.64 L507.1 390.69 L507.3 390.7" fill="none" stroke="#4a80c4" stroke-width="1.4" stroke-linejoin="round" stroke-linecap="round"/>
<path d="M302.6 399.5 L302.61 398.7 L302.63 397.9 L302.64 397.1 L302.66 396.3 L302.67 395.5 L302.69 394.7 L302.71 393.9 L302.72 393.1 L302.74 392.3 L302.75 391.5 L302.77 390.7 L302.79 389.9 L302.8 389.1 L302.82 388.3 L302.84 387.5 L302.86 386.7 L302.88 385.9 L302.9 385.1 L302.92 384.3 L302.94 383.5 L302.97 382.7 L302.99 381.9 L303.01 381.1 L303.04 380.31 L303.06 379.51 L303.09 378.71 L303.11 377.91 L303.14 377.11 L303.17 376.31 L303.19 375.51 L303.22 374.71 L303.25 373.91 L303.28 373.11 L303.31 372.31 L303.35 371.51 L303.38 370.71 L303.42 369.91 L303.45 369.11 L303.49 368.31 L303.53 367.51 L303.57 366.72 L303.61 365.92 L303.65 365.12 L303.69 364.32 L303.74 363.52 L303.79 362.72 L303.84 361.92 L303.89 361.13 L303.94 360.33 L304 359.53 L304.07 358.73 L304.13 357.94 L304.21 357.14 L304.29 356.34 L304.37 355.55 L304.47 354.75 L304.57 353.96 L304.68 353.17 L304.8 352.38 L304.93 351.59 L305.07 350.8 L305.24 350.02 L305.43 349.25 L305.65 348.49 L305.9 347.73 L306.18 346.99 L306.5 346.26 L306.86 345.56 L307.26 344.88 L307.71 344.22 L308.19 343.6 L308.72 343.02 L309.28 342.48 L309.89 341.98 L310.54 341.54 L311.21 341.17 L311.92 340.86 L312.65 340.64 L313.41 340.51 L314.18 340.45 L314.95 340.47 L315.73 340.55 L316.51 340.68 L317.28 340.86 L318.03 341.09 L318.78 341.36 L319.51 341.68 L320.22 342.02 L320.93 342.39 L321.63 342.77 L322.33 343.15 L323.04 343.53 L323.74 343.9 L324.45 344.27 L325.16 344.64 L325.87 345.01 L326.59 345.37 L327.3 345.73 L328.01 346.09 L328.73 346.46 L329.44 346.82 L330.16 347.18 L330.87 347.54 L331.58 347.9 L332.3 348.26 L333.01 348.61 L333.73 348.97 L334.45 349.33 L335.16 349.68 L335.88 350.03 L336.6 350.38 L337.33 350.72 L338.05 351.06 L338.78 351.4 L339.51 351.73 L340.23 352.06 L340.97 352.38 L341.7 352.7 L342.43 353.02 L343.16 353.34 L343.9 353.66 L344.64 353.97 L345.37 354.29 L346.11 354.6 L346.84 354.91 L347.58 355.22 L348.32 355.53 L349.06 355.84 L349.8 356.15 L350.54 356.45 L351.28 356.75 L352.02 357.05 L352.76 357.35 L353.5 357.65 L354.25 357.94 L354.99 358.24 L355.74 358.53 L356.48 358.82 L357.23 359.11 L357.97 359.4 L358.71 359.7 L359.46 360 L360.2 360.3 L360.93 360.61 L361.67 360.93 L362.4 361.25 L363.14 361.56 L363.87 361.88 L364.6 362.2 L365.34 362.51 L366.08 362.82 L366.82 363.12 L367.56 363.41 L368.31 363.7 L369.06 363.98 L369.81 364.25 L370.56 364.52 L371.32 364.79 L372.07 365.05 L372.83 365.31 L373.59 365.57 L374.35 365.82 L375.11 366.07 L375.87 366.31 L376.63 366.56 L377.39 366.81 L378.15 367.05 L378.92 367.29 L379.68 367.54 L380.44 367.78 L381.2 368.03 L381.96 368.27 L382.73 368.52 L383.49 368.76 L384.25 369.01 L385.01 369.25 L385.77 369.5 L386.53 369.74 L387.3 369.98 L388.06 370.22 L388.82 370.46 L389.59 370.7 L390.35 370.94 L391.12 371.17 L391.88 371.4 L392.65 371.63 L393.42 371.85 L394.18 372.07 L394.95 372.29 L395.72 372.51 L396.5 372.72 L397.27 372.92 L398.04 373.12 L398.82 373.32 L399.6 373.51 L400.38 373.69 L401.16 373.87 L401.94 374.04 L402.72 374.21 L403.5 374.37 L404.29 374.52 L405.07 374.67 L405.86 374.81 L406.65 374.94 L407.44 375.07 L408.23 375.2 L409.02 375.32 L409.81 375.44 L410.6 375.55 L411.39 375.66 L412.19 375.77 L412.98 375.88 L413.77 375.98 L414.57 376.09 L415.36 376.19 L416.15 376.3 L416.95 376.4 L417.74 376.5 L418.53 376.61 L419.33 376.71 L420.12 376.82 L420.91 376.93 L421.7 377.03 L422.5 377.14 L423.29 377.25 L424.08 377.35 L424.88 377.46 L425.67 377.57 L426.46 377.67 L427.25 377.78 L428.05 377.88 L428.84 377.99 L429.63 378.09 L430.43 378.2 L431.22 378.3 L432.01 378.4 L432.81 378.51 L433.6 378.61 L434.39 378.71 L435.19 378.81 L435.98 378.91 L436.78 379.01 L437.57 379.1 L438.36 379.2 L439.16 379.3 L439.95 379.39 L440.75 379.49 L441.54 379.58 L442.33 379.68 L443.13 379.77 L443.92 379.87 L444.72 379.96 L445.51 380.06 L446.31 380.15 L447.1 380.24 L447.9 380.33 L448.69 380.43 L449.49 380.52 L450.28 380.61 L451.08 380.7 L451.87 380.78 L452.67 380.87 L453.46 380.95 L454.26 381.04 L455.05 381.12 L455.85 381.2 L456.64 381.28 L457.44 381.36 L458.24 381.43 L459.03 381.51 L459.83 381.58 L460.63 381.65 L461.42 381.72 L462.22 381.79 L463.02 381.86 L463.82 381.93 L464.61 382 L465.41 382.07 L466.21 382.14 L467 382.21 L467.8 382.27 L468.6 382.34 L469.4 382.41 L470.19 382.47 L470.99 382.54 L471.79 382.6 L472.58 382.67 L473.38 382.73 L474.18 382.8 L474.98 382.86 L475.77 382.93 L476.57 382.99 L477.37 383.05 L478.17 383.11 L478.96 383.17 L479.76 383.24 L480.56 383.3 L481.36 383.36 L482.16 383.41 L482.95 383.47 L483.75 383.53 L484.55 383.59 L485.35 383.64 L486.14 383.7 L486.94 383.76 L487.74 383.81 L488.54 383.86 L489.34 383.92 L490.14 383.97 L490.93 384.02 L491.73 384.07 L492.53 384.12 L493.33 384.17 L494.13 384.22 L494.93 384.27 L495.73 384.32 L496.52 384.36 L497.32 384.41 L498.12 384.45 L498.92 384.5 L499.72 384.54 L500.52 384.58 L501.32 384.62 L502.12 384.66 L502.91 384.7 L503.71 384.74 L504.51 384.78 L505.31 384.81 L506.11 384.85 L506.9 384.88 L507.3 384.9" fill="none" stroke="#d4924c" stroke-width="1.4" stroke-linejoin="round" stroke-linecap="round"/>
<path d="M41.6 589.2 L41.91 588.47 L42.21 587.74 L42.48 587 L42.73 586.24 L42.95 585.48 L43.15 584.71 L43.33 583.93 L43.5 583.15 L43.67 582.37 L43.82 581.58 L43.97 580.8 L44.12 580.01 L44.26 579.22 L44.4 578.43 L44.53 577.65 L44.66 576.86 L44.77 576.06 L44.88 575.27 L44.98 574.48 L45.08 573.68 L45.17 572.89 L45.26 572.09 L45.34 571.3 L45.42 570.5 L45.51 569.71 L45.59 568.91 L45.67 568.12 L45.75 567.32 L45.83 566.52 L45.92 565.73 L46.01 564.93 L46.1 564.14 L46.19 563.35 L46.29 562.55 L46.4 561.76 L46.5 560.97 L46.61 560.17 L46.72 559.38 L46.83 558.59 L46.95 557.8 L47.06 557 L47.18 556.21 L47.3 555.42 L47.42 554.63 L47.55 553.84 L47.68 553.05 L47.81 552.26 L47.94 551.47 L48.08 550.69 L48.22 549.9 L48.37 549.11 L48.53 548.33 L48.68 547.54 L48.85 546.76 L49.01 545.98 L49.18 545.2 L49.36 544.42 L49.53 543.64 L49.72 542.86 L49.91 542.08 L50.11 541.31 L50.32 540.54 L50.55 539.77 L50.81 539.02 L51.09 538.28 L51.41 537.56 L51.78 536.86 L52.18 536.18 L52.63 535.53 L53.13 534.92 L53.66 534.34 L54.24 533.8 L54.84 533.3 L55.49 532.85 L56.16 532.45 L56.85 532.12 L57.57 531.86 L58.3 531.7 L59.04 531.65 L59.78 531.71 L60.52 531.88 L61.25 532.13 L61.96 532.45 L62.66 532.82 L63.34 533.22 L64.02 533.64 L64.68 534.08 L65.33 534.55 L65.96 535.03 L66.59 535.53 L67.2 536.04 L67.8 536.57 L68.38 537.11 L68.96 537.67 L69.52 538.23 L70.07 538.81 L70.62 539.4 L71.15 539.99 L71.69 540.59 L72.22 541.19 L72.74 541.79 L73.27 542.39 L73.8 542.99 L74.33 543.59 L74.86 544.19 L75.39 544.79 L75.92 545.39 L76.45 545.98 L76.98 546.58 L77.52 547.18 L78.05 547.77 L78.59 548.36 L79.14 548.95 L79.69 549.53 L80.25 550.1 L80.81 550.67 L81.38 551.22 L81.96 551.78 L82.55 552.32 L83.14 552.86 L83.74 553.39 L84.34 553.91 L84.95 554.43 L85.57 554.93 L86.2 555.42 L86.84 555.9 L87.49 556.38 L88.14 556.84 L88.8 557.29 L89.46 557.74 L90.13 558.18 L90.8 558.62 L91.47 559.05 L92.14 559.49 L92.81 559.92 L93.49 560.35 L94.16 560.79 L94.83 561.22 L95.5 561.66 L96.18 562.09 L96.85 562.52 L97.52 562.95 L98.2 563.37 L98.88 563.8 L99.56 564.22 L100.24 564.65 L100.92 565.07 L101.6 565.49 L102.28 565.91 L102.96 566.33 L103.64 566.75 L104.32 567.17 L105 567.58 L105.69 567.99 L106.38 568.4 L107.07 568.8 L107.77 569.19 L108.47 569.57 L109.18 569.94 L109.89 570.31 L110.61 570.66 L111.33 571 L112.06 571.34 L112.79 571.66 L113.52 571.98 L114.26 572.29 L115 572.59 L115.75 572.89 L116.49 573.18 L117.24 573.46 L117.98 573.75 L118.73 574.03 L119.48 574.3 L120.24 574.58 L120.99 574.85 L121.75 575.11 L122.5 575.36 L123.26 575.61 L124.03 575.85 L124.79 576.08 L125.56 576.3 L126.33 576.51 L127.11 576.71 L127.88 576.9 L128.66 577.08 L129.44 577.26 L130.22 577.43 L131.01 577.6 L131.79 577.76 L132.57 577.92 L133.36 578.07 L134.14 578.23 L134.93 578.38 L135.71 578.53 L136.5 578.68 L137.29 578.83 L138.07 578.98 L138.86 579.12 L139.65 579.26 L140.43 579.4 L141.22 579.54 L142.01 579.67 L142.8 579.81 L143.59 579.94 L144.38 580.07 L145.17 580.19 L145.96 580.32 L146.75 580.44 L147.54 580.56 L148.33 580.68 L149.12 580.8 L149.91 580.92 L150.71 581.03 L151.5 581.14 L152.29 581.25 L153.08 581.36 L153.88 581.47 L154.67 581.57 L155.46 581.67 L156.26 581.76 L157.05 581.86 L157.85 581.95 L158.64 582.04 L159.44 582.13 L160.23 582.22 L161.03 582.31 L161.82 582.4 L162.62 582.48 L163.41 582.57 L164.21 582.65 L165 582.73 L165.8 582.81 L166.6 582.89 L167.39 582.97 L168.19 583.04 L168.99 583.11 L169.78 583.18 L170.58 583.25 L171.38 583.32 L172.17 583.38 L172.97 583.45 L173.77 583.51 L174.57 583.56 L175.36 583.62 L176.16 583.67 L176.96 583.73 L177.76 583.78 L178.56 583.83 L179.36 583.88 L180.16 583.92 L180.95 583.97 L181.75 584.01 L182.55 584.06 L183.35 584.1 L184.15 584.14 L184.95 584.18 L185.75 584.23 L186.55 584.27 L187.34 584.31 L188.14 584.34 L188.94 584.38 L189.74 584.42 L190.54 584.46 L191.34 584.5 L192.14 584.53 L192.94 584.57 L193.74 584.61 L194.54 584.64 L195.34 584.68 L196.14 584.72 L196.93 584.76 L197.73 584.79 L198.53 584.83 L199.33 584.87 L200.13 584.91 L200.93 584.94 L201.73 584.98 L202.53 585.02 L203.33 585.06 L204.13 585.1 L204.93 585.14 L205.72 585.17 L206.52 585.21 L207.32 585.25 L208.12 585.29 L208.92 585.32 L209.72 585.36 L210.52 585.4 L211.32 585.44 L212.12 585.47 L212.92 585.51 L213.72 585.55 L214.51 585.58 L215.31 585.62 L216.11 585.66 L216.91 585.69 L217.71 585.73 L218.51 585.77 L219.31 585.8 L220.11 585.84 L220.91 585.88 L221.71 585.91 L222.51 585.95 L223.31 585.98 L224.1 586.02 L224.9 586.05 L225.7 586.09 L226.5 586.12 L227.3 586.16 L228.1 586.19 L228.9 586.23 L229.7 586.26 L230.5 586.3 L231.3 586.33 L232.1 586.37 L232.9 586.4 L233.7 586.43 L234.5 586.47 L235.29 586.5 L236.09 586.53 L236.89 586.57 L237.69 586.6 L238.49 586.63 L239.29 586.67 L240.09 586.7 L240.89 586.73 L241.69 586.76 L242.49 586.8 L243.29 586.83 L244.08 586.86 L244.87 586.89 L245.66 586.92 L246.44 586.95 L247.21 586.98 L247.6 587" fill="none" stroke="#a8291f" stroke-width="1.5" stroke-linejoin="round" stroke-linecap="round"/>
<path d="M41.6 589.2 L42.39 589.12 L43.18 589.02 L43.95 588.89 L44.7 588.71 L45.41 588.47 L46.07 588.14 L46.65 587.72 L47.15 587.2 L47.57 586.6 L47.92 585.93 L48.21 585.22 L48.47 584.48 L48.7 583.72 L48.92 582.95 L49.13 582.18 L49.33 581.4 L49.52 580.63 L49.7 579.85 L49.87 579.07 L50.04 578.28 L50.2 577.5 L50.35 576.72 L50.5 575.93 L50.65 575.14 L50.8 574.36 L50.94 573.57 L51.08 572.78 L51.22 571.99 L51.36 571.21 L51.49 570.42 L51.63 569.63 L51.76 568.84 L51.89 568.05 L52.02 567.26 L52.15 566.47 L52.28 565.68 L52.4 564.89 L52.52 564.1 L52.64 563.31 L52.76 562.52 L52.88 561.73 L53 560.94 L53.12 560.15 L53.23 559.35 L53.34 558.56 L53.46 557.77 L53.57 556.98 L53.68 556.19 L53.78 555.39 L53.89 554.6 L54 553.81 L54.1 553.01 L54.21 552.22 L54.31 551.43 L54.42 550.63 L54.52 549.84 L54.62 549.05 L54.73 548.26 L54.83 547.46 L54.94 546.67 L55.05 545.88 L55.15 545.08 L55.26 544.29 L55.37 543.5 L55.47 542.7 L55.58 541.91 L55.69 541.12 L55.8 540.33 L55.9 539.53 L56.01 538.74 L56.12 537.95 L56.22 537.16 L56.33 536.36 L56.43 535.57 L56.53 534.78 L56.63 533.98 L56.73 533.19 L56.83 532.39 L56.93 531.6 L57.03 530.81 L57.12 530.01 L57.22 529.22 L57.31 528.42 L57.4 527.63 L57.49 526.83 L57.59 526.04 L57.68 525.24 L57.77 524.45 L57.87 523.66 L57.96 522.86 L58.05 522.07 L58.15 521.27 L58.24 520.48 L58.34 519.68 L58.44 518.89 L58.53 518.1 L58.63 517.3 L58.73 516.51 L58.83 515.71 L58.92 514.92 L59.02 514.12 L59.12 513.33 L59.22 512.54 L59.32 511.74 L59.42 510.95 L59.51 510.16 L59.62 509.36 L59.72 508.57 L59.82 507.77 L59.92 506.98 L60.02 506.19 L60.13 505.39 L60.23 504.6 L60.34 503.81 L60.45 503.02 L60.56 502.22 L60.67 501.43 L60.78 500.64 L60.9 499.85 L61.01 499.06 L61.13 498.26 L61.24 497.47 L61.36 496.68 L61.48 495.89 L61.6 495.1 L61.73 494.31 L61.85 493.52 L61.98 492.73 L62.11 491.94 L62.25 491.15 L62.39 490.37 L62.53 489.58 L62.68 488.79 L62.83 488.01 L62.98 487.22 L63.13 486.44 L63.29 485.65 L63.45 484.87 L63.62 484.08 L63.79 483.3 L63.97 482.53 L64.16 481.75 L64.36 480.98 L64.58 480.21 L64.81 479.44 L65.06 478.68 L65.33 477.93 L65.62 477.19 L65.94 476.47 L66.3 475.77 L66.71 475.12 L67.17 474.52 L67.7 473.99 L68.29 473.56 L68.92 473.25 L69.58 473.08 L70.25 473.07 L70.92 473.22 L71.57 473.5 L72.17 473.91 L72.73 474.42 L73.24 474.99 L73.71 475.62 L74.13 476.28 L74.52 476.97 L74.89 477.67 L75.24 478.39 L75.58 479.12 L75.91 479.85 L76.22 480.58 L76.53 481.32 L76.83 482.06 L77.12 482.81 L77.4 483.55 L77.68 484.3 L77.96 485.05 L78.23 485.8 L78.51 486.56 L78.78 487.31 L79.06 488.06 L79.33 488.81 L79.6 489.56 L79.87 490.32 L80.14 491.07 L80.4 491.83 L80.67 492.58 L80.94 493.33 L81.2 494.09 L81.47 494.84 L81.74 495.59 L82.01 496.35 L82.29 497.1 L82.56 497.85 L82.83 498.6 L83.11 499.35 L83.39 500.1 L83.66 500.85 L83.94 501.6 L84.22 502.35 L84.5 503.1 L84.78 503.85 L85.06 504.6 L85.34 505.35 L85.62 506.1 L85.9 506.85 L86.18 507.6 L86.46 508.35 L86.74 509.1 L87.02 509.85 L87.3 510.6 L87.59 511.34 L87.87 512.09 L88.15 512.84 L88.43 513.59 L88.71 514.34 L88.99 515.09 L89.27 515.84 L89.56 516.59 L89.83 517.34 L90.11 518.09 L90.39 518.84 L90.67 519.59 L90.95 520.34 L91.23 521.09 L91.5 521.84 L91.78 522.59 L92.05 523.34 L92.32 524.09 L92.59 524.85 L92.86 525.6 L93.13 526.35 L93.4 527.11 L93.66 527.86 L93.92 528.62 L94.18 529.38 L94.43 530.14 L94.68 530.9 L94.92 531.66 L95.16 532.42 L95.39 533.19 L95.63 533.95 L95.86 534.72 L96.09 535.48 L96.32 536.25 L96.55 537.01 L96.79 537.78 L97.04 538.54 L97.29 539.3 L97.55 540.06 L97.81 540.81 L98.09 541.56 L98.37 542.31 L98.65 543.06 L98.94 543.8 L99.24 544.55 L99.54 545.29 L99.84 546.03 L100.15 546.76 L100.47 547.5 L100.78 548.23 L101.11 548.97 L101.43 549.7 L101.76 550.43 L102.09 551.16 L102.42 551.89 L102.75 552.61 L103.09 553.34 L103.44 554.06 L103.79 554.77 L104.16 555.49 L104.53 556.19 L104.91 556.89 L105.31 557.59 L105.73 558.27 L106.15 558.95 L106.59 559.61 L107.05 560.27 L107.52 560.92 L107.99 561.56 L108.48 562.19 L108.98 562.81 L109.49 563.43 L110.01 564.04 L110.53 564.64 L111.06 565.25 L111.59 565.84 L112.13 566.44 L112.67 567.03 L113.21 567.61 L113.76 568.2 L114.31 568.77 L114.87 569.34 L115.44 569.9 L116.02 570.45 L116.62 570.99 L117.22 571.5 L117.84 572.01 L118.48 572.5 L119.12 572.97 L119.78 573.42 L120.44 573.86 L121.12 574.29 L121.8 574.71 L122.49 575.11 L123.19 575.5 L123.89 575.88 L124.6 576.26 L125.31 576.62 L126.02 576.98 L126.74 577.33 L127.46 577.67 L128.19 578.01 L128.92 578.34 L129.65 578.66 L130.39 578.97 L131.13 579.28 L131.87 579.58 L132.61 579.87 L133.36 580.16 L134.1 580.45 L134.85 580.73 L135.6 581.01 L136.36 581.28 L137.11 581.55 L137.86 581.81 L138.62 582.07 L139.38 582.32 L140.14 582.57 L140.9 582.82 L141.66 583.06 L142.43 583.3 L143.19 583.53 L143.96 583.76 L144.73 583.98 L145.5 584.2 L146.27 584.42 L147.04 584.63 L147.81 584.85 L148.58 585.05 L149.35 585.26 L150.13 585.46 L150.9 585.66 L151.68 585.85 L152.46 586.03 L153.24 586.21 L154.02 586.38 L154.8 586.55 L155.59 586.71 L156.37 586.86 L157.16 587.01 L157.94 587.15 L158.73 587.29 L159.52 587.42 L160.31 587.55 L161.1 587.68 L161.89 587.8 L162.68 587.91 L163.47 588.01 L164.27 588.11 L165.06 588.19 L165.86 588.27 L166.66 588.33 L167.46 588.38 L168.25 588.43 L169.05 588.47 L169.85 588.51 L170.65 588.55 L171.45 588.58 L172.25 588.61 L173.05 588.64 L173.85 588.67 L174.65 588.7 L175.45 588.73 L176.25 588.75 L177.05 588.78 L177.85 588.8 L178.65 588.82 L179.45 588.84 L180.25 588.86 L181.04 588.88 L181.84 588.9 L182.64 588.91 L183.44 588.93 L184.24 588.94 L185.04 588.95 L185.84 588.96 L186.64 588.97 L187.44 588.98 L188.24 588.99 L189.04 588.99 L189.84 589 L190.64 589 L191.44 589 L192.24 589.01 L193.04 589.01 L193.84 589.01 L194.64 589.02 L195.44 589.02 L196.24 589.02 L197.04 589.02 L197.84 589.03 L198.64 589.03 L199.44 589.03 L200.24 589.03 L201.04 589.04 L201.84 589.04 L202.64 589.04 L203.44 589.04 L204.24 589.05 L205.04 589.05 L205.84 589.05 L206.64 589.05 L207.44 589.05 L208.24 589.06 L209.04 589.06 L209.84 589.06 L210.64 589.06 L211.44 589.06 L212.24 589.06 L213.04 589.07 L213.84 589.07 L214.64 589.07 L215.44 589.07 L216.24 589.07 L217.04 589.07 L217.84 589.08 L218.64 589.08 L219.44 589.08 L220.24 589.08 L221.04 589.08 L221.84 589.08 L222.64 589.08 L223.44 589.08 L224.24 589.08 L225.04 589.09 L225.84 589.09 L226.64 589.09 L227.44 589.09 L228.24 589.09 L229.04 589.09 L229.84 589.09 L230.64 589.09 L231.44 589.09 L232.24 589.09 L233.04 589.09 L233.84 589.09 L234.64 589.1 L235.44 589.1 L236.24 589.1 L237.04 589.1 L237.84 589.1 L238.64 589.1 L239.44 589.1 L240.24 589.1 L241.04 589.1 L241.84 589.1 L242.64 589.1 L243.44 589.1 L244.24 589.1 L245.04 589.1 L245.83 589.1 L246.62 589.1 L247.4 589.1 L247.6 589.1" fill="none" stroke="#000" stroke-width="1.7" stroke-linejoin="round" stroke-linecap="round"/>
<path d="M302.6 589.5 L302.93 588.77 L303.25 588.04 L303.59 587.31 L303.92 586.59 L304.26 585.86 L304.61 585.14 L304.96 584.42 L305.31 583.71 L305.68 582.99 L306.05 582.29 L306.43 581.58 L306.82 580.88 L307.21 580.18 L307.6 579.49 L308 578.79 L308.41 578.11 L308.82 577.43 L309.26 576.76 L309.71 576.1 L310.19 575.47 L310.7 574.87 L311.25 574.31 L311.84 573.78 L312.46 573.29 L313.11 572.85 L313.79 572.45 L314.49 572.08 L315.21 571.74 L315.95 571.44 L316.69 571.16 L317.45 570.91 L318.21 570.69 L318.98 570.51 L319.76 570.37 L320.55 570.28 L321.34 570.22 L322.13 570.21 L322.93 570.22 L323.73 570.26 L324.52 570.31 L325.32 570.38 L326.12 570.46 L326.91 570.54 L327.71 570.63 L328.5 570.73 L329.29 570.84 L330.08 570.97 L330.87 571.1 L331.66 571.24 L332.44 571.38 L333.23 571.53 L334.01 571.69 L334.8 571.85 L335.58 572.01 L336.37 572.17 L337.15 572.34 L337.93 572.51 L338.71 572.68 L339.49 572.86 L340.27 573.04 L341.05 573.22 L341.83 573.4 L342.61 573.59 L343.38 573.78 L344.16 573.97 L344.94 574.17 L345.71 574.37 L346.49 574.56 L347.26 574.76 L348.04 574.95 L348.81 575.14 L349.59 575.33 L350.37 575.5 L351.15 575.67 L351.94 575.84 L352.72 576 L353.51 576.15 L354.29 576.3 L355.08 576.45 L355.86 576.59 L356.65 576.73 L357.44 576.87 L358.23 577 L359.02 577.13 L359.81 577.26 L360.6 577.39 L361.39 577.52 L362.18 577.64 L362.97 577.76 L363.76 577.88 L364.55 578 L365.34 578.12 L366.13 578.24 L366.92 578.35 L367.72 578.46 L368.51 578.58 L369.3 578.69 L370.09 578.8 L370.89 578.9 L371.68 579.01 L372.47 579.11 L373.27 579.22 L374.06 579.32 L374.85 579.42 L375.65 579.51 L376.44 579.61 L377.24 579.71 L378.03 579.8 L378.82 579.89 L379.62 579.99 L380.41 580.08 L381.21 580.17 L382 580.26 L382.8 580.35 L383.59 580.44 L384.39 580.53 L385.18 580.62 L385.98 580.7 L386.77 580.79 L387.57 580.88 L388.37 580.96 L389.16 581.05 L389.96 581.13 L390.75 581.21 L391.55 581.29 L392.34 581.37 L393.14 581.45 L393.94 581.53 L394.73 581.6 L395.53 581.68 L396.33 581.75 L397.12 581.82 L397.92 581.89 L398.72 581.96 L399.51 582.02 L400.31 582.08 L401.11 582.15 L401.91 582.21 L402.71 582.26 L403.5 582.32 L404.3 582.38 L405.1 582.43 L405.9 582.48 L406.7 582.53 L407.49 582.58 L408.29 582.63 L409.09 582.68 L409.89 582.73 L410.69 582.77 L411.49 582.82 L412.29 582.86 L413.08 582.91 L413.88 582.95 L414.68 583 L415.48 583.04 L416.28 583.08 L417.08 583.13 L417.88 583.17 L418.68 583.21 L419.48 583.25 L420.27 583.29 L421.07 583.33 L421.87 583.37 L422.67 583.41 L423.47 583.44 L424.27 583.48 L425.07 583.52 L425.87 583.55 L426.67 583.59 L427.47 583.63 L428.27 583.66 L429.07 583.7 L429.86 583.73 L430.66 583.77 L431.46 583.8 L432.26 583.83 L433.06 583.87 L433.86 583.9 L434.66 583.93 L435.46 583.96 L436.26 583.99 L437.06 584.03 L437.86 584.06 L438.66 584.09 L439.46 584.12 L440.26 584.15 L441.06 584.18 L441.86 584.21 L442.65 584.24 L443.45 584.27 L444.25 584.3 L445.05 584.32 L445.85 584.35 L446.65 584.38 L447.45 584.41 L448.25 584.44 L449.05 584.47 L449.85 584.49 L450.65 584.52 L451.45 584.55 L452.25 584.58 L453.05 584.6 L453.85 584.63 L454.65 584.66 L455.45 584.69 L456.25 584.71 L457.05 584.74 L457.85 584.77 L458.64 584.79 L459.44 584.82 L460.24 584.85 L461.04 584.87 L461.84 584.9 L462.64 584.93 L463.44 584.95 L464.24 584.98 L465.04 585 L465.84 585.03 L466.64 585.05 L467.44 585.08 L468.24 585.1 L469.04 585.13 L469.84 585.15 L470.64 585.18 L471.44 585.2 L472.24 585.23 L473.04 585.25 L473.84 585.27 L474.64 585.3 L475.44 585.32 L476.24 585.35 L477.04 585.37 L477.84 585.39 L478.64 585.41 L479.44 585.44 L480.23 585.46 L481.03 585.48 L481.83 585.5 L482.63 585.52 L483.43 585.55 L484.23 585.57 L485.03 585.59 L485.83 585.61 L486.63 585.63 L487.43 585.65 L488.23 585.67 L489.03 585.69 L489.83 585.71 L490.63 585.73 L491.43 585.75 L492.23 585.77 L493.03 585.79 L493.83 585.81 L494.63 585.82 L495.43 585.84 L496.23 585.86 L497.03 585.88 L497.83 585.9 L498.63 585.91 L499.43 585.93 L500.23 585.95 L501.03 585.96 L501.83 585.98 L502.63 585.99 L503.43 586.01 L504.22 586.02 L505.02 586.04 L505.81 586.05 L506.59 586.07 L507.36 586.08 L508.12 586.09 L508.5 586.1" fill="none" stroke="#d4924c" stroke-width="1.4" stroke-linejoin="round" stroke-linecap="round"/>
<path d="M302.6 589.5 L302.93 588.77 L303.26 588.05 L303.57 587.31 L303.87 586.57 L304.15 585.82 L304.41 585.07 L304.67 584.31 L304.91 583.55 L305.15 582.78 L305.38 582.02 L305.62 581.26 L305.86 580.49 L306.1 579.73 L306.35 578.97 L306.61 578.21 L306.87 577.46 L307.14 576.71 L307.42 575.96 L307.7 575.21 L307.99 574.46 L308.28 573.72 L308.59 572.98 L308.91 572.25 L309.24 571.52 L309.6 570.81 L309.98 570.11 L310.4 569.43 L310.84 568.77 L311.31 568.13 L311.81 567.52 L312.34 566.93 L312.9 566.37 L313.49 565.85 L314.12 565.37 L314.77 564.94 L315.46 564.55 L316.17 564.2 L316.9 563.9 L317.65 563.64 L318.41 563.42 L319.18 563.25 L319.96 563.13 L320.75 563.06 L321.54 563.03 L322.33 563.04 L323.13 563.07 L323.92 563.14 L324.72 563.21 L325.51 563.31 L326.3 563.41 L327.09 563.54 L327.88 563.67 L328.67 563.82 L329.45 563.98 L330.23 564.15 L331.01 564.33 L331.79 564.52 L332.57 564.71 L333.34 564.89 L334.12 565.07 L334.9 565.24 L335.69 565.41 L336.47 565.58 L337.25 565.74 L338.04 565.9 L338.82 566.06 L339.6 566.23 L340.38 566.4 L341.16 566.57 L341.94 566.75 L342.72 566.94 L343.49 567.14 L344.27 567.35 L345.04 567.57 L345.8 567.79 L346.57 568.02 L347.34 568.25 L348.11 568.47 L348.87 568.69 L349.65 568.89 L350.42 569.09 L351.2 569.28 L351.98 569.46 L352.76 569.63 L353.54 569.8 L354.33 569.95 L355.11 570.11 L355.9 570.26 L356.68 570.4 L357.47 570.55 L358.26 570.69 L359.05 570.83 L359.83 570.97 L360.62 571.11 L361.41 571.25 L362.2 571.38 L362.99 571.52 L363.77 571.65 L364.56 571.79 L365.35 571.92 L366.14 572.05 L366.93 572.18 L367.72 572.31 L368.51 572.44 L369.3 572.57 L370.09 572.69 L370.88 572.82 L371.67 572.94 L372.46 573.06 L373.25 573.19 L374.04 573.31 L374.83 573.43 L375.62 573.55 L376.41 573.66 L377.21 573.78 L378 573.9 L378.79 574.01 L379.58 574.13 L380.37 574.25 L381.16 574.36 L381.95 574.48 L382.75 574.6 L383.54 574.71 L384.33 574.83 L385.12 574.94 L385.91 575.06 L386.7 575.17 L387.5 575.28 L388.29 575.4 L389.08 575.51 L389.87 575.62 L390.67 575.73 L391.46 575.84 L392.25 575.95 L393.04 576.05 L393.84 576.16 L394.63 576.26 L395.42 576.36 L396.22 576.46 L397.01 576.56 L397.81 576.66 L398.6 576.75 L399.39 576.85 L400.19 576.94 L400.98 577.02 L401.78 577.11 L402.58 577.19 L403.37 577.27 L404.17 577.35 L404.96 577.43 L405.76 577.5 L406.56 577.58 L407.35 577.65 L408.15 577.72 L408.95 577.79 L409.74 577.86 L410.54 577.93 L411.34 578 L412.14 578.06 L412.93 578.13 L413.73 578.19 L414.53 578.26 L415.33 578.32 L416.12 578.38 L416.92 578.44 L417.72 578.5 L418.52 578.56 L419.31 578.62 L420.11 578.68 L420.91 578.74 L421.71 578.8 L422.51 578.85 L423.3 578.91 L424.1 578.96 L424.9 579.02 L425.7 579.07 L426.5 579.13 L427.29 579.18 L428.09 579.23 L428.89 579.29 L429.69 579.34 L430.49 579.39 L431.29 579.44 L432.08 579.49 L432.88 579.55 L433.68 579.6 L434.48 579.65 L435.28 579.7 L436.08 579.75 L436.87 579.8 L437.67 579.84 L438.47 579.89 L439.27 579.94 L440.07 579.99 L440.87 580.04 L441.67 580.09 L442.46 580.14 L443.26 580.19 L444.06 580.24 L444.86 580.28 L445.66 580.33 L446.46 580.38 L447.25 580.43 L448.05 580.48 L448.85 580.53 L449.65 580.58 L450.45 580.63 L451.25 580.68 L452.05 580.73 L452.84 580.77 L453.64 580.82 L454.44 580.87 L455.24 580.92 L456.04 580.97 L456.84 581.02 L457.64 581.07 L458.43 581.11 L459.23 581.16 L460.03 581.21 L460.83 581.26 L461.63 581.31 L462.43 581.35 L463.23 581.4 L464.02 581.45 L464.82 581.49 L465.62 581.54 L466.42 581.59 L467.22 581.64 L468.02 581.68 L468.82 581.73 L469.61 581.77 L470.41 581.82 L471.21 581.87 L472.01 581.91 L472.81 581.96 L473.61 582 L474.41 582.05 L475.21 582.09 L476 582.14 L476.8 582.18 L477.6 582.23 L478.4 582.27 L479.2 582.31 L480 582.36 L480.8 582.4 L481.6 582.45 L482.39 582.49 L483.19 582.53 L483.99 582.58 L484.79 582.62 L485.59 582.66 L486.39 582.7 L487.19 582.75 L487.99 582.79 L488.79 582.83 L489.58 582.87 L490.38 582.91 L491.18 582.95 L491.98 583 L492.78 583.04 L493.58 583.08 L494.38 583.12 L495.18 583.16 L495.98 583.2 L496.78 583.24 L497.57 583.28 L498.37 583.32 L499.17 583.36 L499.97 583.4 L500.77 583.43 L501.57 583.47 L502.37 583.51 L503.17 583.55 L503.97 583.59 L504.76 583.63 L505.56 583.66 L506.35 583.7 L507.13 583.74 L507.92 583.77 L508.5 583.8" fill="none" stroke="#4a80c4" stroke-width="1.4" stroke-linejoin="round" stroke-linecap="round"/>
<path d="M46.25 184.5L46.25 189M44.35 184.5L48.15 184.5M44.35 189L48.15 189" stroke="#333" stroke-width="1.05" fill="none"/>
<rect x="44.45" y="185" width="3.6" height="3.6" fill="#000"/>
<rect x="52.99" y="186.8" width="3.6" height="3.6" fill="#000"/>
<rect x="65.78" y="187.2" width="3.6" height="3.6" fill="#000"/>
<path d="M93.15 187L93.15 190.5M91.25 187L95.05 187M91.25 190.5L95.05 190.5" stroke="#333" stroke-width="1.05" fill="none"/>
<rect x="91.35" y="187" width="3.6" height="3.6" fill="#000"/>
<rect x="142.5" y="186.6" width="3.6" height="3.6" fill="#000"/>
<rect x="244.8" y="186.4" width="3.6" height="3.6" fill="#000"/>
<path d="M46.25 146.5L46.25 156M44.35 146.5L48.15 146.5M44.35 156L48.15 156" stroke="#333" stroke-width="1.05" fill="none"/>
<path d="M46.25 149.4L48.24 153.07L44.25 153.07Z" fill="#000"/>
<path d="M54.79 116L54.79 127.1M52.89 116L56.69 116M52.89 127.1L56.69 127.1" stroke="#333" stroke-width="1.05" fill="none"/>
<path d="M54.79 121L56.78 124.67L52.79 124.67Z" fill="#000"/>
<path d="M67.58 122.4L67.58 154M65.67 122.4L69.48 122.4M65.67 154L69.48 154" stroke="#333" stroke-width="1.05" fill="none"/>
<path d="M67.58 136.9L69.57 140.57L65.58 140.57Z" fill="#000"/>
<path d="M93.15 114.2L93.15 129.8M91.25 114.2L95.05 114.2M91.25 129.8L95.05 129.8" stroke="#333" stroke-width="1.05" fill="none"/>
<path d="M93.15 121L95.15 124.67L91.16 124.67Z" fill="#000"/>
<path d="M144.3 140.2L144.3 166.7M142.4 140.2L146.2 140.2M142.4 166.7L146.2 166.7" stroke="#333" stroke-width="1.05" fill="none"/>
<path d="M144.3 150.9L146.3 154.57L142.31 154.57Z" fill="#000"/>
<path d="M246.6 159.3L246.6 169M244.7 159.3L248.5 159.3M244.7 169L248.5 169" stroke="#333" stroke-width="1.05" fill="none"/>
<path d="M246.6 163.1L248.59 166.77L244.6 166.77Z" fill="#000"/>
<path d="M46.25 141.4L46.25 160.4M44.35 141.4L48.15 141.4M44.35 160.4L48.15 160.4" stroke="#333" stroke-width="1.05" fill="none"/>
<circle cx="46.25" cy="148.7" r="1.9" fill="#000"/>
<path d="M54.79 103.4L54.79 117.4M52.89 103.4L56.69 103.4M52.89 117.4L56.69 117.4" stroke="#333" stroke-width="1.05" fill="none"/>
<circle cx="54.79" cy="111.6" r="1.9" fill="#000"/>
<path d="M67.58 80.8L67.58 96.8M65.67 80.8L69.48 80.8M65.67 96.8L69.48 96.8" stroke="#333" stroke-width="1.05" fill="none"/>
<text x="67.58" y="78.6" font-size="6" text-anchor="middle" fill="#222">*</text>
<circle cx="67.58" cy="89" r="1.9" fill="#000"/>
<path d="M93.15 68.9L93.15 85.7M91.25 68.9L95.05 68.9M91.25 85.7L95.05 85.7" stroke="#333" stroke-width="1.05" fill="none"/>
<text x="93.15" y="68.2" font-size="6" text-anchor="middle" fill="#222">*</text>
<circle cx="93.15" cy="77.4" r="1.9" fill="#000"/>
<path d="M144.3 120L144.3 128M142.4 120L146.2 120M142.4 128L146.2 128" stroke="#333" stroke-width="1.05" fill="none"/>
<text x="144.3" y="118.2" font-size="6" text-anchor="middle" fill="#222">*</text>
<circle cx="144.3" cy="123.4" r="1.9" fill="#000"/>
<path d="M246.6 167L246.6 177.4M244.7 167L248.5 167M244.7 177.4L248.5 177.4" stroke="#333" stroke-width="1.05" fill="none"/>
<circle cx="246.6" cy="173.2" r="1.9" fill="#000"/>
<circle cx="42" cy="190" r="1.9" fill="#000"/>
<rect x="305.05" y="186.5" width="3.6" height="3.6" fill="#000"/>
<rect x="313.61" y="187.2" width="3.6" height="3.6" fill="#000"/>
<rect x="326.43" y="187.4" width="3.6" height="3.6" fill="#000"/>
<path d="M353.85 188L353.85 192.7M351.95 188L355.75 188M351.95 192.7L355.75 192.7" stroke="#333" stroke-width="1.05" fill="none"/>
<rect x="352.05" y="187.5" width="3.6" height="3.6" fill="#000"/>
<rect x="403.3" y="186.5" width="3.6" height="3.6" fill="#000"/>
<rect x="505.8" y="186.2" width="3.6" height="3.6" fill="#000"/>
<path d="M306.85 184.6L306.85 188.6M304.95 184.6L308.75 184.6M304.95 188.6L308.75 188.6" stroke="#333" stroke-width="1.05" fill="none"/>
<path d="M306.85 183.9L308.85 187.57L304.86 187.57Z" fill="#000"/>
<path d="M315.41 179.4L315.41 185.5M313.51 179.4L317.31 179.4M313.51 185.5L317.31 185.5" stroke="#333" stroke-width="1.05" fill="none"/>
<path d="M315.41 180.3L317.41 183.97L313.42 183.97Z" fill="#000"/>
<path d="M328.23 177.1L328.23 185.2M326.33 177.1L330.12 177.1M326.33 185.2L330.12 185.2" stroke="#333" stroke-width="1.05" fill="none"/>
<path d="M328.23 179.1L330.22 182.77L326.23 182.77Z" fill="#000"/>
<path d="M353.85 171.3L353.85 182.3M351.95 171.3L355.75 171.3M351.95 182.3L355.75 182.3" stroke="#333" stroke-width="1.05" fill="none"/>
<path d="M353.85 173.5L355.85 177.17L351.86 177.17Z" fill="#000"/>
<path d="M405.1 170L405.1 179.2M403.2 170L407 170M403.2 179.2L407 179.2" stroke="#333" stroke-width="1.05" fill="none"/>
<path d="M405.1 172.5L407.1 176.17L403.11 176.17Z" fill="#000"/>
<path d="M507.6 170.5L507.6 180M505.7 170.5L509.5 170.5M505.7 180L509.5 180" stroke="#333" stroke-width="1.05" fill="none"/>
<path d="M507.6 173.9L509.6 177.57L505.61 177.57Z" fill="#000"/>
<circle cx="306.85" cy="186.6" r="1.9" fill="#000"/>
<circle cx="315.41" cy="183.2" r="1.9" fill="#000"/>
<circle cx="328.23" cy="182.4" r="1.9" fill="#000"/>
<circle cx="353.85" cy="177" r="1.9" fill="#000"/>
<circle cx="405.1" cy="176" r="1.9" fill="#000"/>
<circle cx="507.6" cy="178" r="1.9" fill="#000"/>
<circle cx="302.6" cy="189.5" r="1.9" fill="#000"/>
<rect x="44.25" y="397.2" width="3.6" height="3.6" fill="#000"/>
<rect x="52.81" y="397.2" width="3.6" height="3.6" fill="#000"/>
<rect x="65.62" y="397.2" width="3.6" height="3.6" fill="#000"/>
<rect x="91.25" y="397.2" width="3.6" height="3.6" fill="#000"/>
<rect x="142.5" y="397.2" width="3.6" height="3.6" fill="#000"/>
<path d="M246.8 382.6L246.8 396.9M244.9 382.6L248.7 382.6M244.9 396.9L248.7 396.9" stroke="#333" stroke-width="1.05" fill="none"/>
<rect x="245" y="388.7" width="3.6" height="3.6" fill="#000"/>
<path d="M46.05 387L46.05 398M44.15 387L47.95 387M44.15 398L47.95 398" stroke="#333" stroke-width="1.05" fill="none"/>
<path d="M46.05 390.7L48.05 394.38L44.06 394.38Z" fill="#000"/>
<path d="M54.61 321.4L54.61 352.6M52.71 321.4L56.51 321.4M52.71 352.6L56.51 352.6" stroke="#333" stroke-width="1.05" fill="none"/>
<path d="M54.61 335.1L56.61 338.77L52.62 338.77Z" fill="#000"/>
<path d="M67.42 332.5L67.42 376.2M65.52 332.5L69.33 332.5M65.52 376.2L69.33 376.2" stroke="#333" stroke-width="1.05" fill="none"/>
<path d="M67.42 353L69.42 356.68L65.43 356.68Z" fill="#000"/>
<path d="M93.05 375.8L93.05 387M91.15 375.8L94.95 375.8M91.15 387L94.95 387" stroke="#333" stroke-width="1.05" fill="none"/>
<path d="M93.05 380.2L95.05 383.88L91.05 383.88Z" fill="#000"/>
<path d="M144.3 393.5L144.3 399M142.4 393.5L146.2 393.5M142.4 399L146.2 399" stroke="#333" stroke-width="1.05" fill="none"/>
<path d="M144.3 396.1L146.3 399.77L142.31 399.77Z" fill="#000"/>
<path d="M246.8 385.4L246.8 396M244.9 385.4L248.7 385.4M244.9 396L248.7 396" stroke="#333" stroke-width="1.05" fill="none"/>
<path d="M246.8 391.9L248.8 395.57L244.81 395.57Z" fill="#000"/>
<path d="M46.05 332.7L46.05 352M44.15 332.7L47.95 332.7M44.15 352L47.95 352" stroke="#333" stroke-width="1.05" fill="none"/>
<text x="46.05" y="333.5" font-size="6" text-anchor="middle" fill="#222">*</text>
<circle cx="46.05" cy="343.6" r="1.9" fill="#000"/>
<path d="M54.61 280.6L54.61 289.9M52.71 280.6L56.51 280.6M52.71 289.9L56.51 289.9" stroke="#333" stroke-width="1.05" fill="none"/>
<text x="54.61" y="279.9" font-size="6" text-anchor="middle" fill="#222">*</text>
<circle cx="54.61" cy="285.3" r="1.9" fill="#000"/>
<path d="M67.42 284.4L67.42 304.8M65.52 284.4L69.33 284.4M65.52 304.8L69.33 304.8" stroke="#333" stroke-width="1.05" fill="none"/>
<text x="67.42" y="283.5" font-size="6" text-anchor="middle" fill="#222">*</text>
<circle cx="67.42" cy="294.7" r="1.9" fill="#000"/>
<path d="M93.05 331.5L93.05 351.3M91.15 331.5L94.95 331.5M91.15 351.3L94.95 351.3" stroke="#333" stroke-width="1.05" fill="none"/>
<text x="93.05" y="329.6" font-size="6" text-anchor="middle" fill="#222">*</text>
<circle cx="93.05" cy="341.1" r="1.9" fill="#000"/>
<path d="M144.3 378.2L144.3 388M142.4 378.2L146.2 378.2M142.4 388L146.2 388" stroke="#333" stroke-width="1.05" fill="none"/>
<circle cx="144.3" cy="383.1" r="1.9" fill="#000"/>
<circle cx="246.8" cy="392.5" r="1.9" fill="#000"/>
<circle cx="41.8" cy="399.5" r="1.9" fill="#000"/>
<rect x="305.05" y="396.2" width="3.6" height="3.6" fill="#000"/>
<path d="M315.41 394L315.41 398M313.51 394L317.31 394M313.51 398L317.31 398" stroke="#333" stroke-width="1.05" fill="none"/>
<rect x="313.61" y="394.4" width="3.6" height="3.6" fill="#000"/>
<path d="M328.23 394L328.23 398M326.33 394L330.12 394M326.33 398L330.12 398" stroke="#333" stroke-width="1.05" fill="none"/>
<rect x="326.43" y="394.4" width="3.6" height="3.6" fill="#000"/>
<rect x="352.05" y="396.2" width="3.6" height="3.6" fill="#000"/>
<rect x="403.3" y="395.5" width="3.6" height="3.6" fill="#000"/>
<rect x="505.8" y="395.5" width="3.6" height="3.6" fill="#000"/>
<path d="M306.85 311.9L306.85 323.4M304.95 311.9L308.75 311.9M304.95 323.4L308.75 323.4" stroke="#333" stroke-width="1.05" fill="none"/>
<path d="M306.85 328.5L308.85 332.18L304.86 332.18Z" fill="#000"/>
<path d="M315.41 307.5L315.41 329.4M313.51 307.5L317.31 307.5M313.51 329.4L317.31 329.4" stroke="#333" stroke-width="1.05" fill="none"/>
<path d="M315.41 322.7L317.41 326.38L313.42 326.38Z" fill="#000"/>
<path d="M328.23 295.5L328.23 317.7M326.33 295.5L330.12 295.5M326.33 317.7L330.12 317.7" stroke="#333" stroke-width="1.05" fill="none"/>
<path d="M328.23 311.3L330.22 314.97L326.23 314.97Z" fill="#000"/>
<path d="M353.85 345.7L353.85 371.2M351.95 345.7L355.75 345.7M351.95 371.2L355.75 371.2" stroke="#333" stroke-width="1.05" fill="none"/>
<path d="M353.85 356.9L355.85 360.57L351.86 360.57Z" fill="#000"/>
<path d="M405.1 380L405.1 390.1M403.2 380L407 380M403.2 390.1L407 390.1" stroke="#333" stroke-width="1.05" fill="none"/>
<path d="M405.1 384.8L407.1 388.47L403.11 388.47Z" fill="#000"/>
<path d="M507.6 376.2L507.6 386.3M505.7 376.2L509.5 376.2M505.7 386.3L509.5 386.3" stroke="#333" stroke-width="1.05" fill="none"/>
<path d="M507.6 381.9L509.6 385.57L505.61 385.57Z" fill="#000"/>
<path d="M306.85 323.4L306.85 371.9M304.95 323.4L308.75 323.4M304.95 371.9L308.75 371.9" stroke="#333" stroke-width="1.05" fill="none"/>
<circle cx="306.85" cy="347.4" r="1.9" fill="#000"/>
<path d="M315.41 329.4L315.41 364.5M313.51 329.4L317.31 329.4M313.51 364.5L317.31 364.5" stroke="#333" stroke-width="1.05" fill="none"/>
<circle cx="315.41" cy="347.1" r="1.9" fill="#000"/>
<path d="M328.23 317.7L328.23 348.2M326.33 317.7L330.12 317.7M326.33 348.2L330.12 348.2" stroke="#333" stroke-width="1.05" fill="none"/>
<circle cx="328.23" cy="333" r="1.9" fill="#000"/>
<path d="M353.85 350L353.85 375.5M351.95 350L355.75 350M351.95 375.5L355.75 375.5" stroke="#333" stroke-width="1.05" fill="none"/>
<circle cx="353.85" cy="365.3" r="1.9" fill="#000"/>
<path d="M405.1 369.6L405.1 386M403.2 369.6L407 369.6M403.2 386L407 386" stroke="#333" stroke-width="1.05" fill="none"/>
<circle cx="405.1" cy="377.1" r="1.9" fill="#000"/>
<rect x="505.8" y="379.3" width="3.6" height="3.6" fill="#000"/>
<circle cx="302.6" cy="399.5" r="1.9" fill="#000"/>
<rect x="44.08" y="556.5" width="3.6" height="3.6" fill="#000"/>
<rect x="52.71" y="546.2" width="3.6" height="3.6" fill="#000"/>
<path d="M67.41 571.6L67.41 581.4M65.51 571.6L69.31 571.6M65.51 581.4L69.31 581.4" stroke="#333" stroke-width="1.05" fill="none"/>
<rect x="65.61" y="575" width="3.6" height="3.6" fill="#000"/>
<path d="M80.31 564.7L80.31 587.5M78.41 564.7L82.22 564.7M78.41 587.5L82.22 587.5" stroke="#333" stroke-width="1.05" fill="none"/>
<rect x="78.52" y="570.4" width="3.6" height="3.6" fill="#000"/>
<path d="M93.22 560L93.22 578M91.32 560L95.12 560M91.32 578L95.12 578" stroke="#333" stroke-width="1.05" fill="none"/>
<rect x="91.42" y="567.5" width="3.6" height="3.6" fill="#000"/>
<path d="M144.84 570.8L144.84 586.2M142.94 570.8L146.74 570.8M142.94 586.2L146.74 586.2" stroke="#333" stroke-width="1.05" fill="none"/>
<rect x="143.04" y="577.9" width="3.6" height="3.6" fill="#000"/>
<rect x="246.28" y="582.7" width="3.6" height="3.6" fill="#000"/>
<path d="M45.88 534.1L45.88 579.7M43.98 534.1L47.78 534.1M43.98 579.7L47.78 579.7" stroke="#333" stroke-width="1.05" fill="none"/>
<path d="M45.88 560.9L47.88 564.58L43.89 564.58Z" fill="#000"/>
<path d="M54.51 525.5L54.51 569.9M52.61 525.5L56.41 525.5M52.61 569.9L56.41 569.9" stroke="#333" stroke-width="1.05" fill="none"/>
<path d="M54.51 539.5L56.5 543.18L52.51 543.18Z" fill="#000"/>
<path d="M67.41 519.4L67.41 536.4M65.51 519.4L69.31 519.4M65.51 536.4L69.31 536.4" stroke="#333" stroke-width="1.05" fill="none"/>
<path d="M67.41 526.6L69.41 530.28L65.41 530.28Z" fill="#000"/>
<path d="M80.31 545.6L80.31 564.7M78.41 545.6L82.22 545.6M78.41 564.7L82.22 564.7" stroke="#333" stroke-width="1.05" fill="none"/>
<path d="M80.31 552.8L82.31 556.48L78.32 556.48Z" fill="#000"/>
<path d="M93.22 541.6L93.22 575M91.32 541.6L95.12 541.6M91.32 575L95.12 575" stroke="#333" stroke-width="1.05" fill="none"/>
<path d="M93.22 556.8L95.22 560.48L91.22 560.48Z" fill="#000"/>
<path d="M144.84 584.4L146.84 588.08L142.84 588.08Z" fill="#000"/>
<path d="M248.08 584.9L250.07 588.58L246.08 588.58Z" fill="#000"/>
<path d="M45.88 576.2L45.88 589M43.98 576.2L47.78 576.2M43.98 589L47.78 589" stroke="#333" stroke-width="1.05" fill="none"/>
<circle cx="45.88" cy="585.4" r="1.9" fill="#000"/>
<path d="M54.51 527.2L54.51 560M52.61 527.2L56.41 527.2M52.61 560L56.41 560" stroke="#333" stroke-width="1.05" fill="none"/>
<circle cx="54.51" cy="552.9" r="1.9" fill="#000"/>
<text x="67.41" y="465.1" font-size="6" text-anchor="middle" fill="#222">*</text>
<circle cx="67.41" cy="467.8" r="1.9" fill="#000"/>
<path d="M80.31 489.5L80.31 517.4M78.41 489.5L82.22 489.5M78.41 517.4L82.22 517.4" stroke="#333" stroke-width="1.05" fill="none"/>
<text x="80.31" y="488.3" font-size="6" text-anchor="middle" fill="#222">*</text>
<circle cx="80.31" cy="503.3" r="1.9" fill="#000"/>
<path d="M93.22 511L93.22 538.1M91.32 511L95.12 511M91.32 538.1L95.12 538.1" stroke="#333" stroke-width="1.05" fill="none"/>
<circle cx="93.22" cy="524.6" r="1.9" fill="#000"/>
<circle cx="144.84" cy="587.5" r="1.9" fill="#000"/>
<path d="M248.08 583L248.08 589M246.18 583L249.98 583M246.18 589L249.98 589" stroke="#333" stroke-width="1.05" fill="none"/>
<circle cx="248.08" cy="588" r="1.9" fill="#000"/>
<circle cx="41.6" cy="589.2" r="1.9" fill="#000"/>
<rect x="305.09" y="584.2" width="3.6" height="3.6" fill="#000"/>
<path d="M315.53 538.3L315.53 589M313.63 538.3L317.43 538.3M313.63 589L317.43 589" stroke="#8a8a8a" stroke-width="1.05" fill="none"/>
<rect x="313.73" y="581.5" width="3.6" height="3.6" fill="#000"/>
<path d="M328.45 560.6L328.45 571M326.55 560.6L330.35 560.6M326.55 571L330.35 571" stroke="#333" stroke-width="1.05" fill="none"/>
<rect x="326.65" y="564" width="3.6" height="3.6" fill="#000"/>
<rect x="339.57" y="582.4" width="3.6" height="3.6" fill="#000"/>
<rect x="352.5" y="559.6" width="3.6" height="3.6" fill="#000"/>
<path d="M406 554.4L406 586M404.1 554.4L407.9 554.4M404.1 586L407.9 586" stroke="#333" stroke-width="1.05" fill="none"/>
<rect x="404.2" y="568.5" width="3.6" height="3.6" fill="#000"/>
<path d="M509.4 579L509.4 589M507.5 579L511.3 579M507.5 589L511.3 589" stroke="#333" stroke-width="1.05" fill="none"/>
<rect x="507.6" y="583.2" width="3.6" height="3.6" fill="#000"/>
<path d="M306.89 572.1L306.89 586M304.99 572.1L308.79 572.1M304.99 586L308.79 586" stroke="#333" stroke-width="1.05" fill="none"/>
<path d="M306.89 576.9L308.89 580.58L304.9 580.58Z" fill="#000"/>
<path d="M315.53 557.7L315.53 577.3M313.63 557.7L317.43 557.7M313.63 577.3L317.43 577.3" stroke="#333" stroke-width="1.05" fill="none"/>
<path d="M315.53 558.8L317.52 562.48L313.53 562.48Z" fill="#000"/>
<path d="M328.45 547.3L328.45 583.3M326.55 547.3L330.35 547.3M326.55 583.3L330.35 583.3" stroke="#333" stroke-width="1.05" fill="none"/>
<path d="M328.45 574L330.45 577.68L326.46 577.68Z" fill="#000"/>
<path d="M341.38 531.7L341.38 577.3M339.48 531.7L343.27 531.7M339.48 577.3L343.27 577.3" stroke="#333" stroke-width="1.05" fill="none"/>
<path d="M341.38 553L343.37 556.68L339.38 556.68Z" fill="#000"/>
<path d="M354.3 554L354.3 583.3M352.4 554L356.2 554M352.4 583.3L356.2 583.3" stroke="#333" stroke-width="1.05" fill="none"/>
<path d="M354.3 567.7L356.3 571.38L352.31 571.38Z" fill="#000"/>
<path d="M406 581.2L408 584.88L404 584.88Z" fill="#000"/>
<path d="M509.4 584.9L511.4 588.58L507.41 588.58Z" fill="#000"/>
<circle cx="306.89" cy="589.2" r="1.9" fill="#000"/>
<circle cx="315.53" cy="565" r="1.9" fill="#000"/>
<circle cx="328.45" cy="566.5" r="1.9" fill="#000"/>
<circle cx="354.3" cy="578.2" r="1.9" fill="#000"/>
<circle cx="406" cy="580" r="1.9" fill="#000"/>
<circle cx="509.4" cy="587.5" r="1.9" fill="#000"/>
<circle cx="302.6" cy="589.3" r="1.9" fill="#000"/>
<rect x="166.5" y="31.1" width="81.3" height="81.3" fill="#fff" stroke="none"/>
<line x1="163.3" y1="112.4" x2="166.5" y2="112.4" stroke="#111" stroke-width="0.9"/>
<text x="159.9" y="115.4" font-size="6.6" text-anchor="end" fill="#1a1a1a" style="stroke-width:0.1px">0</text>
<line x1="163.3" y1="96.94" x2="166.5" y2="96.94" stroke="#111" stroke-width="0.9"/>
<text x="159.9" y="99.94" font-size="6.6" text-anchor="end" fill="#1a1a1a" textLength="6.5" lengthAdjust="spacingAndGlyphs" style="stroke-width:0.1px">20</text>
<line x1="163.3" y1="81.48" x2="166.5" y2="81.48" stroke="#111" stroke-width="0.9"/>
<text x="159.9" y="84.48" font-size="6.6" text-anchor="end" fill="#1a1a1a" textLength="6.5" lengthAdjust="spacingAndGlyphs" style="stroke-width:0.1px">40</text>
<line x1="163.3" y1="66.02" x2="166.5" y2="66.02" stroke="#111" stroke-width="0.9"/>
<text x="159.9" y="69.02" font-size="6.6" text-anchor="end" fill="#1a1a1a" textLength="6.5" lengthAdjust="spacingAndGlyphs" style="stroke-width:0.1px">60</text>
<line x1="163.3" y1="50.56" x2="166.5" y2="50.56" stroke="#111" stroke-width="0.9"/>
<text x="159.9" y="53.56" font-size="6.6" text-anchor="end" fill="#1a1a1a" textLength="6.5" lengthAdjust="spacingAndGlyphs" style="stroke-width:0.1px">80</text>
<line x1="163.3" y1="35.1" x2="166.5" y2="35.1" stroke="#111" stroke-width="0.9"/>
<text x="159.9" y="38.1" font-size="6.6" text-anchor="end" fill="#1a1a1a" textLength="9.8" lengthAdjust="spacingAndGlyphs" style="stroke-width:0.1px">100</text>
<line x1="165" y1="112.4" x2="166.5" y2="112.4" stroke="#111" stroke-width="0.7"/>
<line x1="165" y1="108.54" x2="166.5" y2="108.54" stroke="#111" stroke-width="0.7"/>
<line x1="165" y1="104.67" x2="166.5" y2="104.67" stroke="#111" stroke-width="0.7"/>
<line x1="165" y1="100.81" x2="166.5" y2="100.81" stroke="#111" stroke-width="0.7"/>
<line x1="165" y1="96.94" x2="166.5" y2="96.94" stroke="#111" stroke-width="0.7"/>
<line x1="165" y1="93.08" x2="166.5" y2="93.08" stroke="#111" stroke-width="0.7"/>
<line x1="165" y1="89.21" x2="166.5" y2="89.21" stroke="#111" stroke-width="0.7"/>
<line x1="165" y1="85.34" x2="166.5" y2="85.34" stroke="#111" stroke-width="0.7"/>
<line x1="165" y1="81.48" x2="166.5" y2="81.48" stroke="#111" stroke-width="0.7"/>
<line x1="165" y1="77.62" x2="166.5" y2="77.62" stroke="#111" stroke-width="0.7"/>
<line x1="165" y1="73.75" x2="166.5" y2="73.75" stroke="#111" stroke-width="0.7"/>
<line x1="165" y1="69.88" x2="166.5" y2="69.88" stroke="#111" stroke-width="0.7"/>
<line x1="165" y1="66.02" x2="166.5" y2="66.02" stroke="#111" stroke-width="0.7"/>
<line x1="165" y1="62.16" x2="166.5" y2="62.16" stroke="#111" stroke-width="0.7"/>
<line x1="165" y1="58.29" x2="166.5" y2="58.29" stroke="#111" stroke-width="0.7"/>
<line x1="165" y1="54.42" x2="166.5" y2="54.42" stroke="#111" stroke-width="0.7"/>
<line x1="165" y1="50.56" x2="166.5" y2="50.56" stroke="#111" stroke-width="0.7"/>
<line x1="165" y1="46.69" x2="166.5" y2="46.69" stroke="#111" stroke-width="0.7"/>
<line x1="165" y1="42.83" x2="166.5" y2="42.83" stroke="#111" stroke-width="0.7"/>
<line x1="165" y1="38.96" x2="166.5" y2="38.96" stroke="#111" stroke-width="0.7"/>
<line x1="165" y1="35.1" x2="166.5" y2="35.1" stroke="#111" stroke-width="0.7"/>
<line x1="182.13" y1="112.4" x2="182.13" y2="114.3" stroke="#111" stroke-width="0.75"/>
<line x1="183.58" y1="112.4" x2="183.58" y2="114.3" stroke="#111" stroke-width="0.75"/>
<line x1="184.86" y1="112.4" x2="184.86" y2="114.3" stroke="#111" stroke-width="0.75"/>
<line x1="186" y1="112.4" x2="186" y2="115" stroke="#111" stroke-width="0.75"/>
<line x1="193.53" y1="112.4" x2="193.53" y2="114.3" stroke="#111" stroke-width="0.75"/>
<line x1="197.93" y1="112.4" x2="197.93" y2="114.3" stroke="#111" stroke-width="0.75"/>
<line x1="201.05" y1="112.4" x2="201.05" y2="114.3" stroke="#111" stroke-width="0.75"/>
<line x1="203.47" y1="112.4" x2="203.47" y2="114.3" stroke="#111" stroke-width="0.75"/>
<line x1="205.45" y1="112.4" x2="205.45" y2="114.3" stroke="#111" stroke-width="0.75"/>
<line x1="207.13" y1="112.4" x2="207.13" y2="114.3" stroke="#111" stroke-width="0.75"/>
<line x1="208.58" y1="112.4" x2="208.58" y2="114.3" stroke="#111" stroke-width="0.75"/>
<line x1="209.86" y1="112.4" x2="209.86" y2="114.3" stroke="#111" stroke-width="0.75"/>
<line x1="211" y1="112.4" x2="211" y2="115" stroke="#111" stroke-width="0.75"/>
<line x1="218.53" y1="112.4" x2="218.53" y2="114.3" stroke="#111" stroke-width="0.75"/>
<line x1="222.93" y1="112.4" x2="222.93" y2="114.3" stroke="#111" stroke-width="0.75"/>
<line x1="226.05" y1="112.4" x2="226.05" y2="114.3" stroke="#111" stroke-width="0.75"/>
<line x1="228.47" y1="112.4" x2="228.47" y2="114.3" stroke="#111" stroke-width="0.75"/>
<line x1="230.45" y1="112.4" x2="230.45" y2="114.3" stroke="#111" stroke-width="0.75"/>
<line x1="232.13" y1="112.4" x2="232.13" y2="114.3" stroke="#111" stroke-width="0.75"/>
<line x1="233.58" y1="112.4" x2="233.58" y2="114.3" stroke="#111" stroke-width="0.75"/>
<line x1="234.86" y1="112.4" x2="234.86" y2="114.3" stroke="#111" stroke-width="0.75"/>
<line x1="236" y1="112.4" x2="236" y2="115" stroke="#111" stroke-width="0.75"/>
<line x1="243.53" y1="112.4" x2="243.53" y2="114.3" stroke="#111" stroke-width="0.75"/>
<line x1="168" y1="112.4" x2="168" y2="114.3" stroke="#111" stroke-width="0.75"/>
<line x1="169.25" y1="112.4" x2="169.25" y2="114.3" stroke="#111" stroke-width="0.75"/>
<line x1="170.5" y1="112.4" x2="170.5" y2="114.3" stroke="#111" stroke-width="0.75"/>
<line x1="171.75" y1="112.4" x2="171.75" y2="114.3" stroke="#111" stroke-width="0.75"/>
<line x1="173" y1="112.4" x2="173" y2="114.3" stroke="#111" stroke-width="0.75"/>
<line x1="174.25" y1="112.4" x2="174.25" y2="114.3" stroke="#111" stroke-width="0.75"/>
<line x1="175.5" y1="112.4" x2="175.5" y2="114.3" stroke="#111" stroke-width="0.75"/>
<line x1="176.75" y1="112.4" x2="176.75" y2="114.3" stroke="#111" stroke-width="0.75"/>
<line x1="178" y1="112.4" x2="178" y2="114.3" stroke="#111" stroke-width="0.75"/>
<line x1="179.25" y1="112.4" x2="179.25" y2="114.3" stroke="#111" stroke-width="0.75"/>
<line x1="180.5" y1="112.4" x2="180.5" y2="114.3" stroke="#111" stroke-width="0.75"/>
<text x="176.75" y="125" font-size="6.6" text-anchor="middle" fill="#1a1a1a" style="stroke-width:0.08px">0</text>
<text x="211.9" y="125" font-size="6.6" text-anchor="middle" fill="#1a1a1a" style="stroke-width:0.08px">10<tspan font-size="4.4" dy="-2.7">3</tspan></text>
<text x="236.9" y="125" font-size="6.6" text-anchor="middle" fill="#1a1a1a" style="stroke-width:0.08px">10<tspan font-size="4.4" dy="-2.7">4</tspan></text>
<text x="207.3" y="25.9" font-size="9.2" text-anchor="middle" fill="#1a1a1a" textLength="15.2" lengthAdjust="spacingAndGlyphs">TPO</text>
<text x="206.8" y="136.6" font-size="8.6" text-anchor="middle" fill="#1a1a1a" textLength="26.7" lengthAdjust="spacingAndGlyphs">pSTAT5</text>
<clipPath id="c1696"><rect x="166.5" y="31.1" width="81.3" height="81.3"/></clipPath>
<g clip-path="url(#c1696)">
<path d="M166.5 112.4 L167 112.34 L167.5 112.22 L168 111.98 L168.5 111.96 L169 111.74 L169.5 111.43 L170 111.32 L170.5 111.05 L171 110.78 L171.5 110.46 L172 110.25 L172.5 109.73 L173 109.52 L173.5 109.14 L174 109.02 L174.5 108.53 L175 108.05 L175.5 107.49 L176 107.13 L176.5 106.68 L177 106.05 L177.5 105.91 L178 105.21 L178.5 103.38 L179 102.81 L179.5 102.28 L180 100.9 L180.5 99.75 L181 98.36 L181.5 97.89 L182 95.34 L182.5 94.83 L183 95.49 L183.5 94.54 L184 94.3 L184.5 93.53 L185 92.81 L185.5 93.52 L186 93.34 L186.5 92.54 L187 92.64 L187.5 92.76 L188 92.18 L188.5 92.46 L189 92.43 L189.5 92.28 L190 91.88 L190.5 92.29 L191 92.27 L191.5 91.8 L192 91 L192.5 91.51 L193 90.45 L193.5 90.56 L194 88.79 L194.5 89.04 L195 87.69 L195.5 86.14 L196 85.73 L196.5 84.93 L197 83.92 L197.5 81.87 L198 80.3 L198.5 79.3 L199 75.98 L199.5 73.53 L200 71.99 L200.5 68.71 L201 68.74 L201.5 68.26 L202 65.99 L202.5 64.48 L203 64.73 L203.5 63.6 L204 63.29 L204.5 61.18 L205 58.01 L205.5 53.86 L206 51.21 L206.5 51.15 L207 49.87 L207.5 47.69 L208 47.55 L208.5 48.78 L209 47.96 L209.5 45.67 L210 42.79 L210.5 41.74 L211 41.49 L211.5 41.7 L212 40.94 L212.5 40.28 L213 39.63 L213.5 40.4 L214 37.07 L214.5 39.24 L215 39.83 L215.5 40.4 L216 43.91 L216.5 43.72 L217 46.06 L217.5 46.81 L218 49.34 L218.5 51.36 L219 52.05 L219.5 52.35 L220 53.11 L220.5 57.12 L221 57.03 L221.5 58.33 L222 61.05 L222.5 63.2 L223 66.56 L223.5 68.34 L224 70.64 L224.5 72.44 L225 75.57 L225.5 76.9 L226 80.42 L226.5 83.62 L227 84.72 L227.5 87.03 L228 91.05 L228.5 94.11 L229 94.41 L229.5 96.22 L230 98.77 L230.5 99.82 L231 101.42 L231.5 102.79 L232 104.31 L232.5 105.2 L233 106.49 L233.5 107.35 L234 108.06 L234.5 108.89 L235 109.32 L235.5 110 L236 110.3 L236.5 110.77 L237 111.48 L237.5 111.64 L238 111.91 L238.5 112.13 L239 112.17 L239.5 112.21 L240 112.26 L240.5 112.27 L241 112.24 L241.5 112.33 L242 112.3 L242.5 112.3 L243 112.32 L243.5 112.35 L244 112.4 L244.5 112.35 L245 112.38 L245.5 112.36 L246 112.39 L246.5 112.4 L247 112.4 L247.5 112.4 L247.8 112.4" fill="none" stroke="#a8291f" stroke-width="1.2" stroke-linejoin="round"/>
<path d="M166.5 112.4 L166.9 112.4 L167.3 112.4 L167.7 112.39 L168.1 112.39 L168.5 112.39 L168.9 112.37 L169.3 112.37 L169.7 112.36 L170.1 112.34 L170.5 112.34 L170.9 112.31 L171.3 112.3 L171.7 112.27 L172.1 112.27 L172.5 112.24 L172.9 112.23 L173.3 112.2 L173.7 112.18 L174.1 112.11 L174.5 112.07 L174.9 111.97 L175.3 111.87 L175.7 111.75 L176.1 111.56 L176.5 111.46 L176.9 111.33 L177.3 111.01 L177.7 110.8 L178.1 110.59 L178.5 110.47 L178.9 110.2 L179.3 110 L179.7 109.73 L180.1 109.44 L180.5 109.17 L180.9 108.76 L181.3 108.35 L181.7 107.68 L182.1 107.14 L182.5 106.59 L182.9 106.11 L183.3 105.32 L183.7 104.76 L184.1 104.34 L184.5 104.01 L184.9 103.39 L185.3 103.03 L185.7 102.22 L186.1 102.04 L186.5 101.61 L186.9 100.98 L187.3 100.87 L187.7 100.8 L188.1 100.61 L188.5 100.77 L188.9 101.07 L189.3 101.07 L189.7 101.28 L190.1 101.52 L190.5 101.96 L190.9 102.12 L191.3 102.35 L191.7 102.6 L192.1 102.91 L192.5 102.97 L192.9 103.12 L193.3 103.17 L193.7 103.62 L194.1 103.61 L194.5 103.84 L194.9 103.78 L195.3 103.79 L195.7 103.98 L196.1 103.99 L196.5 103.93 L196.9 103.99 L197.3 104.26 L197.7 104.13 L198.1 104.13 L198.5 104.05 L198.9 103.99 L199.3 104.11 L199.7 103.98 L200.1 103.87 L200.5 103.88 L200.9 103.75 L201.3 103.79 L201.7 103.81 L202.1 103.56 L202.5 103.69 L202.9 103.42 L203.3 103.38 L203.7 103.14 L204.1 103.01 L204.5 102.82 L204.9 102.53 L205.3 102.24 L205.7 101.95 L206.1 101.63 L206.5 101.23 L206.9 101.04 L207.3 100.77 L207.7 100.44 L208.1 99.99 L208.5 99.72 L208.9 98.96 L209.3 98.31 L209.7 98 L210.1 97.03 L210.5 96.62 L210.9 95.68 L211.3 95.09 L211.7 93.95 L212.1 93.43 L212.5 92.28 L212.9 91.06 L213.3 90.23 L213.7 88.54 L214.1 86.58 L214.5 84.43 L214.9 82.47 L215.3 80.45 L215.7 78.74 L216.1 76.9 L216.5 74.78 L216.9 72.95 L217.3 71.09 L217.7 69.03 L218.1 67.26 L218.5 65.39 L218.9 63.51 L219.3 61.57 L219.7 58.98 L220.1 57.21 L220.5 54.95 L220.9 53.61 L221.3 51.15 L221.7 49.38 L222.1 47.3 L222.5 46.01 L222.9 45.21 L223.3 42.99 L223.7 40.59 L224.1 37.92 L224.5 36.71 L224.9 35.86 L225.3 38.14 L225.7 38.5 L226.1 39.24 L226.5 39.02 L226.9 40.42 L227.3 41.51 L227.7 44.3 L228.1 48.51 L228.5 52.52 L228.9 57.12 L229.3 62.21 L229.7 67.04 L230.1 71.29 L230.5 75.05 L230.9 78.36 L231.3 81.58 L231.7 84.61 L232.1 88.35 L232.5 91.26 L232.9 94.33 L233.3 97.35 L233.7 99.77 L234.1 101.63 L234.5 103.28 L234.9 105.05 L235.3 106.52 L235.7 107.67 L236.1 108.75 L236.5 109.33 L236.9 109.61 L237.3 110.09 L237.7 110.36 L238.1 110.77 L238.5 111.02 L238.9 111.19 L239.3 111.4 L239.7 111.6 L240.1 111.72 L240.5 111.87 L240.9 111.92 L241.3 111.95 L241.7 112.02 L242.1 112.01 L242.5 112.1 L242.9 112.15 L243.3 112.18 L243.7 112.21 L244.1 112.26 L244.5 112.3 L244.9 112.31 L245.3 112.32 L245.7 112.36 L246.1 112.36 L246.5 112.38 L246.9 112.39 L247.3 112.4 L247.7 112.4 L247.8 112.4" fill="none" stroke="#000" stroke-width="1.2" stroke-linejoin="round"/>
</g>
<rect x="166.5" y="31.1" width="81.3" height="81.3" fill="none" stroke="#000" stroke-width="1.25"/>
<rect x="423.5" y="31.1" width="82.1" height="81.3" fill="#fff" stroke="none"/>
<line x1="420.3" y1="112.4" x2="423.5" y2="112.4" stroke="#111" stroke-width="0.9"/>
<text x="416.9" y="115.4" font-size="6.6" text-anchor="end" fill="#1a1a1a" style="stroke-width:0.1px">0</text>
<line x1="420.3" y1="96.94" x2="423.5" y2="96.94" stroke="#111" stroke-width="0.9"/>
<text x="416.9" y="99.94" font-size="6.6" text-anchor="end" fill="#1a1a1a" textLength="6.5" lengthAdjust="spacingAndGlyphs" style="stroke-width:0.1px">20</text>
<line x1="420.3" y1="81.48" x2="423.5" y2="81.48" stroke="#111" stroke-width="0.9"/>
<text x="416.9" y="84.48" font-size="6.6" text-anchor="end" fill="#1a1a1a" textLength="6.5" lengthAdjust="spacingAndGlyphs" style="stroke-width:0.1px">40</text>
<line x1="420.3" y1="66.02" x2="423.5" y2="66.02" stroke="#111" stroke-width="0.9"/>
<text x="416.9" y="69.02" font-size="6.6" text-anchor="end" fill="#1a1a1a" textLength="6.5" lengthAdjust="spacingAndGlyphs" style="stroke-width:0.1px">60</text>
<line x1="420.3" y1="50.56" x2="423.5" y2="50.56" stroke="#111" stroke-width="0.9"/>
<text x="416.9" y="53.56" font-size="6.6" text-anchor="end" fill="#1a1a1a" textLength="6.5" lengthAdjust="spacingAndGlyphs" style="stroke-width:0.1px">80</text>
<line x1="420.3" y1="35.1" x2="423.5" y2="35.1" stroke="#111" stroke-width="0.9"/>
<text x="416.9" y="38.1" font-size="6.6" text-anchor="end" fill="#1a1a1a" textLength="9.8" lengthAdjust="spacingAndGlyphs" style="stroke-width:0.1px">100</text>
<line x1="422" y1="112.4" x2="423.5" y2="112.4" stroke="#111" stroke-width="0.7"/>
<line x1="422" y1="108.54" x2="423.5" y2="108.54" stroke="#111" stroke-width="0.7"/>
<line x1="422" y1="104.67" x2="423.5" y2="104.67" stroke="#111" stroke-width="0.7"/>
<line x1="422" y1="100.81" x2="423.5" y2="100.81" stroke="#111" stroke-width="0.7"/>
<line x1="422" y1="96.94" x2="423.5" y2="96.94" stroke="#111" stroke-width="0.7"/>
<line x1="422" y1="93.08" x2="423.5" y2="93.08" stroke="#111" stroke-width="0.7"/>
<line x1="422" y1="89.21" x2="423.5" y2="89.21" stroke="#111" stroke-width="0.7"/>
<line x1="422" y1="85.34" x2="423.5" y2="85.34" stroke="#111" stroke-width="0.7"/>
<line x1="422" y1="81.48" x2="423.5" y2="81.48" stroke="#111" stroke-width="0.7"/>
<line x1="422" y1="77.62" x2="423.5" y2="77.62" stroke="#111" stroke-width="0.7"/>
<line x1="422" y1="73.75" x2="423.5" y2="73.75" stroke="#111" stroke-width="0.7"/>
<line x1="422" y1="69.88" x2="423.5" y2="69.88" stroke="#111" stroke-width="0.7"/>
<line x1="422" y1="66.02" x2="423.5" y2="66.02" stroke="#111" stroke-width="0.7"/>
<line x1="422" y1="62.16" x2="423.5" y2="62.16" stroke="#111" stroke-width="0.7"/>
<line x1="422" y1="58.29" x2="423.5" y2="58.29" stroke="#111" stroke-width="0.7"/>
<line x1="422" y1="54.42" x2="423.5" y2="54.42" stroke="#111" stroke-width="0.7"/>
<line x1="422" y1="50.56" x2="423.5" y2="50.56" stroke="#111" stroke-width="0.7"/>
<line x1="422" y1="46.69" x2="423.5" y2="46.69" stroke="#111" stroke-width="0.7"/>
<line x1="422" y1="42.83" x2="423.5" y2="42.83" stroke="#111" stroke-width="0.7"/>
<line x1="422" y1="38.96" x2="423.5" y2="38.96" stroke="#111" stroke-width="0.7"/>
<line x1="422" y1="35.1" x2="423.5" y2="35.1" stroke="#111" stroke-width="0.7"/>
<line x1="439.58" y1="112.4" x2="439.58" y2="114.3" stroke="#111" stroke-width="0.75"/>
<line x1="441.4" y1="112.4" x2="441.4" y2="114.3" stroke="#111" stroke-width="0.75"/>
<line x1="442.94" y1="112.4" x2="442.94" y2="114.3" stroke="#111" stroke-width="0.75"/>
<line x1="444.27" y1="112.4" x2="444.27" y2="114.3" stroke="#111" stroke-width="0.75"/>
<line x1="445.45" y1="112.4" x2="445.45" y2="114.3" stroke="#111" stroke-width="0.75"/>
<line x1="446.5" y1="112.4" x2="446.5" y2="115" stroke="#111" stroke-width="0.75"/>
<line x1="453.42" y1="112.4" x2="453.42" y2="114.3" stroke="#111" stroke-width="0.75"/>
<line x1="457.47" y1="112.4" x2="457.47" y2="114.3" stroke="#111" stroke-width="0.75"/>
<line x1="460.35" y1="112.4" x2="460.35" y2="114.3" stroke="#111" stroke-width="0.75"/>
<line x1="462.58" y1="112.4" x2="462.58" y2="114.3" stroke="#111" stroke-width="0.75"/>
<line x1="464.4" y1="112.4" x2="464.4" y2="114.3" stroke="#111" stroke-width="0.75"/>
<line x1="465.94" y1="112.4" x2="465.94" y2="114.3" stroke="#111" stroke-width="0.75"/>
<line x1="467.27" y1="112.4" x2="467.27" y2="114.3" stroke="#111" stroke-width="0.75"/>
<line x1="468.45" y1="112.4" x2="468.45" y2="114.3" stroke="#111" stroke-width="0.75"/>
<line x1="469.5" y1="112.4" x2="469.5" y2="115" stroke="#111" stroke-width="0.75"/>
<line x1="476.42" y1="112.4" x2="476.42" y2="114.3" stroke="#111" stroke-width="0.75"/>
<line x1="480.47" y1="112.4" x2="480.47" y2="114.3" stroke="#111" stroke-width="0.75"/>
<line x1="483.35" y1="112.4" x2="483.35" y2="114.3" stroke="#111" stroke-width="0.75"/>
<line x1="485.58" y1="112.4" x2="485.58" y2="114.3" stroke="#111" stroke-width="0.75"/>
<line x1="487.4" y1="112.4" x2="487.4" y2="114.3" stroke="#111" stroke-width="0.75"/>
<line x1="488.94" y1="112.4" x2="488.94" y2="114.3" stroke="#111" stroke-width="0.75"/>
<line x1="490.27" y1="112.4" x2="490.27" y2="114.3" stroke="#111" stroke-width="0.75"/>
<line x1="491.45" y1="112.4" x2="491.45" y2="114.3" stroke="#111" stroke-width="0.75"/>
<line x1="492.5" y1="112.4" x2="492.5" y2="115" stroke="#111" stroke-width="0.75"/>
<line x1="499.42" y1="112.4" x2="499.42" y2="114.3" stroke="#111" stroke-width="0.75"/>
<line x1="503.47" y1="112.4" x2="503.47" y2="114.3" stroke="#111" stroke-width="0.75"/>
<line x1="425" y1="112.4" x2="425" y2="114.3" stroke="#111" stroke-width="0.75"/>
<line x1="426.25" y1="112.4" x2="426.25" y2="114.3" stroke="#111" stroke-width="0.75"/>
<line x1="427.5" y1="112.4" x2="427.5" y2="114.3" stroke="#111" stroke-width="0.75"/>
<line x1="428.75" y1="112.4" x2="428.75" y2="114.3" stroke="#111" stroke-width="0.75"/>
<line x1="430" y1="112.4" x2="430" y2="114.3" stroke="#111" stroke-width="0.75"/>
<line x1="431.25" y1="112.4" x2="431.25" y2="114.3" stroke="#111" stroke-width="0.75"/>
<line x1="432.5" y1="112.4" x2="432.5" y2="114.3" stroke="#111" stroke-width="0.75"/>
<line x1="433.75" y1="112.4" x2="433.75" y2="114.3" stroke="#111" stroke-width="0.75"/>
<line x1="435" y1="112.4" x2="435" y2="114.3" stroke="#111" stroke-width="0.75"/>
<line x1="436.25" y1="112.4" x2="436.25" y2="114.3" stroke="#111" stroke-width="0.75"/>
<line x1="437.5" y1="112.4" x2="437.5" y2="114.3" stroke="#111" stroke-width="0.75"/>
<text x="434.5" y="125" font-size="6.6" text-anchor="middle" fill="#1a1a1a" style="stroke-width:0.08px">0</text>
<text x="470.4" y="125" font-size="6.6" text-anchor="middle" fill="#1a1a1a" style="stroke-width:0.08px">10<tspan font-size="4.4" dy="-2.7">3</tspan></text>
<text x="493.4" y="125" font-size="6.6" text-anchor="middle" fill="#1a1a1a" style="stroke-width:0.08px">10<tspan font-size="4.4" dy="-2.7">4</tspan></text>
<text x="464.3" y="25.6" font-size="8.8" text-anchor="middle" fill="#1a1a1a" textLength="49.5" lengthAdjust="spacingAndGlyphs">Eltrombopag</text>
<text x="464.5" y="137.1" font-size="8.6" text-anchor="middle" fill="#1a1a1a" textLength="26.7" lengthAdjust="spacingAndGlyphs">pSTAT5</text>
<clipPath id="c4266"><rect x="423.5" y="31.1" width="82.1" height="81.3"/></clipPath>
<g clip-path="url(#c4266)">
<path d="M424 112.4 L424.3 112.4 L424.6 112.4 L424.9 112.4 L425.2 112.4 L425.5 112.4 L425.8 112.39 L426.1 112.39 L426.4 112.39 L426.7 112.39 L427 112.38 L427.3 112.38 L427.6 112.37 L427.9 112.37 L428.2 112.37 L428.5 112.36 L428.8 112.35 L429.1 112.35 L429.4 112.34 L429.7 112.34 L430 112.33 L430.3 112.32 L430.6 112.31 L430.9 112.3 L431.2 112.3 L431.5 112.29 L431.8 112.28 L432.1 112.27 L432.4 112.26 L432.7 112.25 L433 112.23 L433.3 112.22 L433.6 112.21 L433.9 112.2 L434.2 112.19 L434.5 112.17 L434.8 112.16 L435.1 112.15 L435.4 112.13 L435.7 112.12 L436 112.1 L436.3 112.08 L436.6 112.05 L436.9 112 L437.2 111.95 L437.5 111.89 L437.8 111.83 L438.1 111.76 L438.4 111.68 L438.7 111.6 L439 111.51 L439.3 111.43 L439.6 111.34 L439.9 111.24 L440.2 111.13 L440.5 111.01 L440.8 110.89 L441.1 110.75 L441.4 110.6 L441.7 110.45 L442 110.28 L442.3 110.11 L442.6 109.93 L442.9 109.74 L443.2 109.55 L443.5 109.35 L443.8 109.14 L444.1 108.92 L444.4 108.7 L444.7 108.46 L445 108.2 L445.3 107.92 L445.6 107.62 L445.9 107.3 L446.2 106.96 L446.5 106.61 L446.8 106.23 L447.1 105.85 L447.4 105.44 L447.7 105.02 L448 104.59 L448.3 104.15 L448.6 103.7 L448.9 103.22 L449.2 102.71 L449.5 102.15 L449.8 101.57 L450.1 100.96 L450.4 100.32 L450.7 99.65 L451 98.97 L451.3 98.27 L451.6 97.56 L451.9 96.84 L452.2 96.09 L452.5 95.31 L452.8 94.48 L453.1 93.58 L453.4 92.6 L453.7 91.53 L454 90.33 L454.3 88.99 L454.6 87.51 L454.9 85.89 L455.2 84.12 L455.5 82.13 L455.8 79.74 L456.1 77.1 L456.4 74.37 L456.7 71.73 L457 69.11 L457.3 66.44 L457.6 63.73 L457.9 60.94 L458.2 58.06 L458.5 55.02 L458.8 51.95 L459.1 48.96 L459.4 46.01 L459.7 42.92 L460 40.25 L460.3 38.51 L460.6 37.19 L460.9 36.6 L461.2 36.8 L461.5 37.32 L461.8 38 L462.1 39.14 L462.4 40.9 L462.7 42.97 L463 45 L463.3 47.02 L463.6 49.21 L463.9 51.49 L464.2 53.79 L464.5 56.03 L464.8 58.12 L465.1 60 L465.4 61.65 L465.7 63.16 L466 64.59 L466.3 65.98 L466.6 67.41 L466.9 68.91 L467.2 70.48 L467.5 72.07 L467.8 73.66 L468.1 75.25 L468.4 76.8 L468.7 78.34 L469 79.87 L469.3 81.39 L469.6 82.87 L469.9 84.29 L470.2 85.64 L470.5 86.96 L470.8 88.26 L471.1 89.51 L471.4 90.72 L471.7 91.86 L472 92.93 L472.3 93.92 L472.6 94.86 L472.9 95.76 L473.2 96.62 L473.5 97.44 L473.8 98.22 L474.1 98.95 L474.4 99.65 L474.7 100.3 L475 100.91 L475.3 101.5 L475.6 102.07 L475.9 102.6 L476.2 103.12 L476.5 103.61 L476.8 104.09 L477.1 104.54 L477.4 104.98 L477.7 105.4 L478 105.81 L478.3 106.21 L478.6 106.61 L478.9 106.99 L479.2 107.36 L479.5 107.71 L479.8 108.05 L480.1 108.37 L480.4 108.67 L480.7 108.95 L481 109.2 L481.3 109.44 L481.6 109.68 L481.9 109.9 L482.2 110.13 L482.5 110.34 L482.8 110.53 L483.1 110.72 L483.4 110.88 L483.7 111.03 L484 111.16 L484.3 111.27 L484.6 111.36 L484.9 111.44 L485.2 111.52 L485.5 111.6 L485.8 111.68 L486.1 111.75 L486.4 111.82 L486.7 111.89 L487 111.95 L487.3 112.01 L487.6 112.07 L487.9 112.11 L488.2 112.16 L488.5 112.2 L488.8 112.23 L489.1 112.26 L489.4 112.28 L489.7 112.29 L490 112.3 L490.3 112.3 L490.6 112.31 L490.9 112.31 L491.2 112.32 L491.5 112.32 L491.8 112.32 L492.1 112.33 L492.4 112.33 L492.7 112.34 L493 112.34 L493.3 112.34 L493.6 112.35 L493.9 112.35 L494.2 112.35 L494.5 112.35 L494.8 112.36 L495.1 112.36 L495.4 112.36 L495.7 112.37 L496 112.37 L496.3 112.37 L496.6 112.37 L496.9 112.37 L497.2 112.38 L497.5 112.38 L497.8 112.38 L498.1 112.38 L498.4 112.38 L498.7 112.38 L499 112.39 L499.3 112.39 L499.6 112.39 L499.9 112.39 L500.2 112.39 L500.5 112.39 L500.8 112.39 L501.1 112.39 L501.4 112.4 L501.7 112.4 L502 112.4 L502.3 112.4 L502.6 112.4 L502.9 112.4 L503.2 112.4 L503.5 112.4 L503.8 112.4 L504.1 112.4 L504.4 112.4 L504.7 112.4 L505 112.4" fill="none" stroke="#d4924c" stroke-width="1.2" stroke-linejoin="round"/>
<path d="M424 112.4 L424.3 112.4 L424.6 112.4 L424.9 112.4 L425.2 112.4 L425.5 112.4 L425.8 112.4 L426.1 112.4 L426.4 112.4 L426.7 112.4 L427 112.4 L427.3 112.4 L427.6 112.4 L427.9 112.4 L428.2 112.4 L428.5 112.4 L428.8 112.4 L429.1 112.4 L429.4 112.4 L429.7 112.4 L430 112.4 L430.3 112.4 L430.6 112.4 L430.9 112.4 L431.2 112.4 L431.5 112.4 L431.8 112.4 L432.1 112.4 L432.4 112.4 L432.7 112.4 L433 112.4 L433.3 112.4 L433.6 112.4 L433.9 112.4 L434.2 112.4 L434.5 112.4 L434.8 112.4 L435.1 112.4 L435.4 112.4 L435.7 112.4 L436 112.4 L436.3 112.4 L436.6 112.4 L436.9 112.39 L437.2 112.39 L437.5 112.38 L437.8 112.37 L438.1 112.36 L438.4 112.35 L438.7 112.33 L439 112.32 L439.3 112.3 L439.6 112.28 L439.9 112.26 L440.2 112.24 L440.5 112.22 L440.8 112.19 L441.1 112.17 L441.4 112.14 L441.7 112.12 L442 112.09 L442.3 112.05 L442.6 111.99 L442.9 111.92 L443.2 111.84 L443.5 111.74 L443.8 111.63 L444.1 111.51 L444.4 111.38 L444.7 111.24 L445 111.09 L445.3 110.93 L445.6 110.77 L445.9 110.6 L446.2 110.42 L446.5 110.24 L446.8 110.06 L447.1 109.87 L447.4 109.66 L447.7 109.42 L448 109.15 L448.3 108.87 L448.6 108.56 L448.9 108.24 L449.2 107.9 L449.5 107.54 L449.8 107.16 L450.1 106.78 L450.4 106.38 L450.7 105.96 L451 105.54 L451.3 105.11 L451.6 104.65 L451.9 104.16 L452.2 103.63 L452.5 103.08 L452.8 102.49 L453.1 101.86 L453.4 101.2 L453.7 100.5 L454 99.76 L454.3 98.97 L454.6 98.11 L454.9 97.16 L455.2 96.13 L455.5 95 L455.8 93.75 L456.1 92.38 L456.4 90.84 L456.7 89 L457 86.84 L457.3 84.38 L457.6 81.51 L457.9 77.95 L458.2 73.97 L458.5 69.5 L458.8 64.33 L459.1 60 L459.4 56.99 L459.7 54.47 L460 52.21 L460.3 50 L460.6 47.83 L460.9 45.79 L461.2 43.79 L461.5 41.72 L461.8 39.26 L462.1 36.24 L462.4 33.87 L462.7 33.48 L463 35.78 L463.3 39.49 L463.6 43.24 L463.9 47.65 L464.2 52.57 L464.5 57.29 L464.8 61.18 L465.1 64.37 L465.4 67.37 L465.7 70.52 L466 73.72 L466.3 76.8 L466.6 79.76 L466.9 82.61 L467.2 85.2 L467.5 87.62 L467.8 89.93 L468.1 91.97 L468.4 93.6 L468.7 94.89 L469 96.04 L469.3 97.07 L469.6 98 L469.9 98.84 L470.2 99.6 L470.5 100.3 L470.8 100.96 L471.1 101.59 L471.4 102.19 L471.7 102.75 L472 103.29 L472.3 103.78 L472.6 104.24 L472.9 104.67 L473.2 105.05 L473.5 105.4 L473.8 105.72 L474.1 106.02 L474.4 106.31 L474.7 106.59 L475 106.84 L475.3 107.09 L475.6 107.32 L475.9 107.55 L476.2 107.76 L476.5 107.96 L476.8 108.16 L477.1 108.34 L477.4 108.53 L477.7 108.7 L478 108.87 L478.3 109.04 L478.6 109.21 L478.9 109.37 L479.2 109.54 L479.5 109.7 L479.8 109.85 L480.1 110 L480.4 110.15 L480.7 110.29 L481 110.42 L481.3 110.55 L481.6 110.68 L481.9 110.79 L482.2 110.9 L482.5 111 L482.8 111.1 L483.1 111.18 L483.4 111.25 L483.7 111.32 L484 111.38 L484.3 111.45 L484.6 111.51 L484.9 111.57 L485.2 111.63 L485.5 111.68 L485.8 111.74 L486.1 111.79 L486.4 111.84 L486.7 111.88 L487 111.93 L487.3 111.97 L487.6 112.01 L487.9 112.05 L488.2 112.08 L488.5 112.11 L488.8 112.13 L489.1 112.16 L489.4 112.18 L489.7 112.19 L490 112.2 L490.3 112.21 L490.6 112.22 L490.9 112.22 L491.2 112.23 L491.5 112.24 L491.8 112.25 L492.1 112.25 L492.4 112.26 L492.7 112.27 L493 112.27 L493.3 112.28 L493.6 112.29 L493.9 112.29 L494.2 112.3 L494.5 112.3 L494.8 112.31 L495.1 112.31 L495.4 112.32 L495.7 112.32 L496 112.33 L496.3 112.33 L496.6 112.34 L496.9 112.34 L497.2 112.35 L497.5 112.35 L497.8 112.36 L498.1 112.36 L498.4 112.36 L498.7 112.37 L499 112.37 L499.3 112.37 L499.6 112.37 L499.9 112.38 L500.2 112.38 L500.5 112.38 L500.8 112.38 L501.1 112.39 L501.4 112.39 L501.7 112.39 L502 112.39 L502.3 112.39 L502.6 112.4 L502.9 112.4 L503.2 112.4 L503.5 112.4 L503.8 112.4 L504.1 112.4 L504.4 112.4 L504.7 112.4 L505 112.4" fill="none" stroke="#4a80c4" stroke-width="1.2" stroke-linejoin="round"/>
</g>
<rect x="423.5" y="31.1" width="82.1" height="81.3" fill="none" stroke="#000" stroke-width="1.25"/>
<rect x="166.5" y="258.1" width="81.3" height="81.7" fill="#fff" stroke="none"/>
<line x1="163.3" y1="339.8" x2="166.5" y2="339.8" stroke="#111" stroke-width="0.9"/>
<text x="159.9" y="342.8" font-size="6.6" text-anchor="end" fill="#1a1a1a" style="stroke-width:0.1px">0</text>
<line x1="163.3" y1="324.26" x2="166.5" y2="324.26" stroke="#111" stroke-width="0.9"/>
<text x="159.9" y="327.26" font-size="6.6" text-anchor="end" fill="#1a1a1a" textLength="6.5" lengthAdjust="spacingAndGlyphs" style="stroke-width:0.1px">20</text>
<line x1="163.3" y1="308.72" x2="166.5" y2="308.72" stroke="#111" stroke-width="0.9"/>
<text x="159.9" y="311.72" font-size="6.6" text-anchor="end" fill="#1a1a1a" textLength="6.5" lengthAdjust="spacingAndGlyphs" style="stroke-width:0.1px">40</text>
<line x1="163.3" y1="293.18" x2="166.5" y2="293.18" stroke="#111" stroke-width="0.9"/>
<text x="159.9" y="296.18" font-size="6.6" text-anchor="end" fill="#1a1a1a" textLength="6.5" lengthAdjust="spacingAndGlyphs" style="stroke-width:0.1px">60</text>
<line x1="163.3" y1="277.64" x2="166.5" y2="277.64" stroke="#111" stroke-width="0.9"/>
<text x="159.9" y="280.64" font-size="6.6" text-anchor="end" fill="#1a1a1a" textLength="6.5" lengthAdjust="spacingAndGlyphs" style="stroke-width:0.1px">80</text>
<line x1="163.3" y1="262.1" x2="166.5" y2="262.1" stroke="#111" stroke-width="0.9"/>
<text x="159.9" y="265.1" font-size="6.6" text-anchor="end" fill="#1a1a1a" textLength="9.8" lengthAdjust="spacingAndGlyphs" style="stroke-width:0.1px">100</text>
<line x1="165" y1="339.8" x2="166.5" y2="339.8" stroke="#111" stroke-width="0.7"/>
<line x1="165" y1="335.92" x2="166.5" y2="335.92" stroke="#111" stroke-width="0.7"/>
<line x1="165" y1="332.03" x2="166.5" y2="332.03" stroke="#111" stroke-width="0.7"/>
<line x1="165" y1="328.15" x2="166.5" y2="328.15" stroke="#111" stroke-width="0.7"/>
<line x1="165" y1="324.26" x2="166.5" y2="324.26" stroke="#111" stroke-width="0.7"/>
<line x1="165" y1="320.38" x2="166.5" y2="320.38" stroke="#111" stroke-width="0.7"/>
<line x1="165" y1="316.49" x2="166.5" y2="316.49" stroke="#111" stroke-width="0.7"/>
<line x1="165" y1="312.61" x2="166.5" y2="312.61" stroke="#111" stroke-width="0.7"/>
<line x1="165" y1="308.72" x2="166.5" y2="308.72" stroke="#111" stroke-width="0.7"/>
<line x1="165" y1="304.84" x2="166.5" y2="304.84" stroke="#111" stroke-width="0.7"/>
<line x1="165" y1="300.95" x2="166.5" y2="300.95" stroke="#111" stroke-width="0.7"/>
<line x1="165" y1="297.06" x2="166.5" y2="297.06" stroke="#111" stroke-width="0.7"/>
<line x1="165" y1="293.18" x2="166.5" y2="293.18" stroke="#111" stroke-width="0.7"/>
<line x1="165" y1="289.3" x2="166.5" y2="289.3" stroke="#111" stroke-width="0.7"/>
<line x1="165" y1="285.41" x2="166.5" y2="285.41" stroke="#111" stroke-width="0.7"/>
<line x1="165" y1="281.53" x2="166.5" y2="281.53" stroke="#111" stroke-width="0.7"/>
<line x1="165" y1="277.64" x2="166.5" y2="277.64" stroke="#111" stroke-width="0.7"/>
<line x1="165" y1="273.75" x2="166.5" y2="273.75" stroke="#111" stroke-width="0.7"/>
<line x1="165" y1="269.87" x2="166.5" y2="269.87" stroke="#111" stroke-width="0.7"/>
<line x1="165" y1="265.99" x2="166.5" y2="265.99" stroke="#111" stroke-width="0.7"/>
<line x1="165" y1="262.1" x2="166.5" y2="262.1" stroke="#111" stroke-width="0.7"/>
<line x1="181.87" y1="339.8" x2="181.87" y2="341.7" stroke="#111" stroke-width="0.75"/>
<line x1="184.09" y1="339.8" x2="184.09" y2="341.7" stroke="#111" stroke-width="0.75"/>
<line x1="185.96" y1="339.8" x2="185.96" y2="341.7" stroke="#111" stroke-width="0.75"/>
<line x1="187.59" y1="339.8" x2="187.59" y2="341.7" stroke="#111" stroke-width="0.75"/>
<line x1="189.02" y1="339.8" x2="189.02" y2="341.7" stroke="#111" stroke-width="0.75"/>
<line x1="190.3" y1="339.8" x2="190.3" y2="342.4" stroke="#111" stroke-width="0.75"/>
<line x1="198.73" y1="339.8" x2="198.73" y2="341.7" stroke="#111" stroke-width="0.75"/>
<line x1="203.66" y1="339.8" x2="203.66" y2="341.7" stroke="#111" stroke-width="0.75"/>
<line x1="207.16" y1="339.8" x2="207.16" y2="341.7" stroke="#111" stroke-width="0.75"/>
<line x1="209.87" y1="339.8" x2="209.87" y2="341.7" stroke="#111" stroke-width="0.75"/>
<line x1="212.09" y1="339.8" x2="212.09" y2="341.7" stroke="#111" stroke-width="0.75"/>
<line x1="213.96" y1="339.8" x2="213.96" y2="341.7" stroke="#111" stroke-width="0.75"/>
<line x1="215.59" y1="339.8" x2="215.59" y2="341.7" stroke="#111" stroke-width="0.75"/>
<line x1="217.02" y1="339.8" x2="217.02" y2="341.7" stroke="#111" stroke-width="0.75"/>
<line x1="218.3" y1="339.8" x2="218.3" y2="342.4" stroke="#111" stroke-width="0.75"/>
<line x1="226.73" y1="339.8" x2="226.73" y2="341.7" stroke="#111" stroke-width="0.75"/>
<line x1="231.66" y1="339.8" x2="231.66" y2="341.7" stroke="#111" stroke-width="0.75"/>
<line x1="235.16" y1="339.8" x2="235.16" y2="341.7" stroke="#111" stroke-width="0.75"/>
<line x1="237.87" y1="339.8" x2="237.87" y2="341.7" stroke="#111" stroke-width="0.75"/>
<line x1="240.09" y1="339.8" x2="240.09" y2="341.7" stroke="#111" stroke-width="0.75"/>
<line x1="241.96" y1="339.8" x2="241.96" y2="341.7" stroke="#111" stroke-width="0.75"/>
<line x1="243.59" y1="339.8" x2="243.59" y2="341.7" stroke="#111" stroke-width="0.75"/>
<line x1="245.02" y1="339.8" x2="245.02" y2="341.7" stroke="#111" stroke-width="0.75"/>
<line x1="246.3" y1="339.8" x2="246.3" y2="342.4" stroke="#111" stroke-width="0.75"/>
<line x1="168" y1="339.8" x2="168" y2="341.7" stroke="#111" stroke-width="0.75"/>
<line x1="169.25" y1="339.8" x2="169.25" y2="341.7" stroke="#111" stroke-width="0.75"/>
<line x1="170.5" y1="339.8" x2="170.5" y2="341.7" stroke="#111" stroke-width="0.75"/>
<line x1="171.75" y1="339.8" x2="171.75" y2="341.7" stroke="#111" stroke-width="0.75"/>
<line x1="173" y1="339.8" x2="173" y2="341.7" stroke="#111" stroke-width="0.75"/>
<line x1="174.25" y1="339.8" x2="174.25" y2="341.7" stroke="#111" stroke-width="0.75"/>
<line x1="175.5" y1="339.8" x2="175.5" y2="341.7" stroke="#111" stroke-width="0.75"/>
<line x1="176.75" y1="339.8" x2="176.75" y2="341.7" stroke="#111" stroke-width="0.75"/>
<line x1="178" y1="339.8" x2="178" y2="341.7" stroke="#111" stroke-width="0.75"/>
<line x1="179.25" y1="339.8" x2="179.25" y2="341.7" stroke="#111" stroke-width="0.75"/>
<line x1="180.5" y1="339.8" x2="180.5" y2="341.7" stroke="#111" stroke-width="0.75"/>
<text x="180.5" y="352.4" font-size="6.6" text-anchor="middle" fill="#1a1a1a" style="stroke-width:0.08px">0</text>
<text x="219.4" y="352.4" font-size="6.6" text-anchor="middle" fill="#1a1a1a" style="stroke-width:0.08px">10<tspan font-size="4.4" dy="-2.7">3</tspan></text>
<text x="247.4" y="352.4" font-size="6.6" text-anchor="middle" fill="#1a1a1a" style="stroke-width:0.08px">10<tspan font-size="4.4" dy="-2.7">4</tspan></text>
<text x="207.4" y="253.4" font-size="9.2" text-anchor="middle" fill="#1a1a1a" textLength="15.2" lengthAdjust="spacingAndGlyphs">TPO</text>
<text x="207.1" y="364.8" font-size="8.6" text-anchor="middle" fill="#1a1a1a" textLength="20.4" lengthAdjust="spacingAndGlyphs">pAKT</text>
<clipPath id="c1923"><rect x="166.5" y="258.1" width="81.3" height="81.7"/></clipPath>
<g clip-path="url(#c1923)">
<path d="M166.5 339.8 L167 339.8 L167.5 339.8 L168 339.8 L168.5 339.8 L169 339.8 L169.5 339.79 L170 339.79 L170.5 339.79 L171 339.8 L171.5 339.79 L172 339.79 L172.5 339.78 L173 339.78 L173.5 339.77 L174 339.77 L174.5 339.78 L175 339.77 L175.5 339.77 L176 339.76 L176.5 339.76 L177 339.77 L177.5 339.75 L178 339.74 L178.5 339.73 L179 339.74 L179.5 339.75 L180 339.71 L180.5 339.7 L181 339.72 L181.5 339.67 L182 339.64 L182.5 339.61 L183 339.54 L183.5 339.44 L184 339.36 L184.5 339.12 L185 339.14 L185.5 338.86 L186 338.49 L186.5 338.16 L187 337.65 L187.5 336.94 L188 336.17 L188.5 335.5 L189 334.68 L189.5 333.99 L190 333.05 L190.5 332.04 L191 330.99 L191.5 329.43 L192 327.81 L192.5 326.51 L193 324.97 L193.5 323.36 L194 321.65 L194.5 320.03 L195 317.6 L195.5 316.71 L196 315.54 L196.5 314.61 L197 315.43 L197.5 316.28 L198 318.15 L198.5 319.19 L199 320.95 L199.5 322.44 L200 323.63 L200.5 324.13 L201 325.43 L201.5 326.29 L202 326.39 L202.5 326.3 L203 324.58 L203.5 323.21 L204 321.14 L204.5 320.07 L205 318.45 L205.5 317.05 L206 315.43 L206.5 315 L207 313.67 L207.5 312.74 L208 312.15 L208.5 311.31 L209 310.25 L209.5 308.99 L210 307.14 L210.5 305.39 L211 301.85 L211.5 298.87 L212 294.63 L212.5 289.93 L213 285.29 L213.5 280.07 L214 275.13 L214.5 271.65 L215 269.25 L215.5 266.57 L216 264.53 L216.5 263.81 L217 265.22 L217.5 267.1 L218 271.21 L218.5 276.2 L219 282.96 L219.5 291.05 L220 299.72 L220.5 307.36 L221 315.59 L221.5 321.74 L222 326.18 L222.5 329.35 L223 332.66 L223.5 334.82 L224 336.38 L224.5 337.39 L225 338.54 L225.5 339.08 L226 339.25 L226.5 339.48 L227 339.65 L227.5 339.76 L228 339.8 L228.5 339.8 L229 339.8 L229.5 339.8 L230 339.8 L230.5 339.8 L231 339.8 L231.5 339.8 L232 339.8 L232.5 339.8 L233 339.8 L233.5 339.8 L234 339.8 L234.5 339.8 L235 339.8 L235.5 339.8 L236 339.8 L236.5 339.8 L237 339.8 L237.5 339.8 L238 339.8 L238.5 339.8 L239 339.8 L239.5 339.8 L240 339.8 L240.5 339.8 L241 339.8 L241.5 339.8 L242 339.8 L242.5 339.8 L243 339.8 L243.5 339.8 L244 339.8 L244.5 339.8 L245 339.8 L245.5 339.8 L246 339.8 L246.5 339.8 L247 339.8 L247.5 339.8 L247.8 339.8" fill="none" stroke="#a8291f" stroke-width="1.2" stroke-linejoin="round"/>
<path d="M166.5 339.8 L167 339.8 L167.5 339.8 L168 339.8 L168.5 339.8 L169 339.8 L169.5 339.8 L170 339.8 L170.5 339.8 L171 339.8 L171.5 339.8 L172 339.8 L172.5 339.8 L173 339.8 L173.5 339.8 L174 339.8 L174.5 339.8 L175 339.8 L175.5 339.8 L176 339.8 L176.5 339.8 L177 339.8 L177.5 339.8 L178 339.8 L178.5 339.8 L179 339.8 L179.5 339.8 L180 339.8 L180.5 339.8 L181 339.8 L181.5 339.8 L182 339.8 L182.5 339.8 L183 339.8 L183.5 339.8 L184 339.8 L184.5 339.8 L185 339.8 L185.5 339.8 L186 339.8 L186.5 339.8 L187 339.8 L187.5 339.8 L188 339.8 L188.5 339.8 L189 339.8 L189.5 339.8 L190 339.8 L190.5 339.8 L191 339.78 L191.5 339.75 L192 339.73 L192.5 339.68 L193 339.64 L193.5 339.59 L194 339.54 L194.5 339.45 L195 339.42 L195.5 339.31 L196 339.19 L196.5 339.05 L197 338.86 L197.5 338.65 L198 338.39 L198.5 338.12 L199 337.85 L199.5 337.5 L200 337.22 L200.5 336.71 L201 336.18 L201.5 335.77 L202 335.04 L202.5 334.31 L203 333.78 L203.5 332.9 L204 332.22 L204.5 331.3 L205 330.51 L205.5 329.48 L206 328.46 L206.5 327.46 L207 326.4 L207.5 325.28 L208 324.19 L208.5 322.57 L209 321.44 L209.5 319.92 L210 318.56 L210.5 316.96 L211 315.41 L211.5 313.84 L212 312.02 L212.5 310.24 L213 308.05 L213.5 305.93 L214 302.97 L214.5 299.82 L215 296.58 L215.5 292.94 L216 289.18 L216.5 284.96 L217 280.53 L217.5 276.65 L218 272.97 L218.5 269.02 L219 265.74 L219.5 263.49 L220 263.86 L220.5 265.39 L221 268.99 L221.5 272.29 L222 276.19 L222.5 281.53 L223 287.46 L223.5 293.43 L224 299.23 L224.5 304.65 L225 310.11 L225.5 315.84 L226 321.63 L226.5 328.04 L227 331.71 L227.5 334.05 L228 335.99 L228.5 337.27 L229 337.91 L229.5 338.4 L230 338.81 L230.5 339.15 L231 339.37 L231.5 339.54 L232 339.61 L232.5 339.62 L233 339.64 L233.5 339.65 L234 339.65 L234.5 339.66 L235 339.66 L235.5 339.69 L236 339.71 L236.5 339.7 L237 339.73 L237.5 339.74 L238 339.74 L238.5 339.74 L239 339.75 L239.5 339.75 L240 339.76 L240.5 339.77 L241 339.78 L241.5 339.78 L242 339.78 L242.5 339.79 L243 339.79 L243.5 339.79 L244 339.79 L244.5 339.79 L245 339.8 L245.5 339.8 L246 339.8 L246.5 339.8 L247 339.8 L247.5 339.8 L247.8 339.8" fill="none" stroke="#000" stroke-width="1.2" stroke-linejoin="round"/>
</g>
<rect x="166.5" y="258.1" width="81.3" height="81.7" fill="none" stroke="#000" stroke-width="1.25"/>
<rect x="424.2" y="258.1" width="81.5" height="81.4" fill="#fff" stroke="none"/>
<line x1="421" y1="339.5" x2="424.2" y2="339.5" stroke="#111" stroke-width="0.9"/>
<text x="417.6" y="342.5" font-size="6.6" text-anchor="end" fill="#1a1a1a" style="stroke-width:0.1px">0</text>
<line x1="421" y1="324.02" x2="424.2" y2="324.02" stroke="#111" stroke-width="0.9"/>
<text x="417.6" y="327.02" font-size="6.6" text-anchor="end" fill="#1a1a1a" textLength="6.5" lengthAdjust="spacingAndGlyphs" style="stroke-width:0.1px">20</text>
<line x1="421" y1="308.54" x2="424.2" y2="308.54" stroke="#111" stroke-width="0.9"/>
<text x="417.6" y="311.54" font-size="6.6" text-anchor="end" fill="#1a1a1a" textLength="6.5" lengthAdjust="spacingAndGlyphs" style="stroke-width:0.1px">40</text>
<line x1="421" y1="293.06" x2="424.2" y2="293.06" stroke="#111" stroke-width="0.9"/>
<text x="417.6" y="296.06" font-size="6.6" text-anchor="end" fill="#1a1a1a" textLength="6.5" lengthAdjust="spacingAndGlyphs" style="stroke-width:0.1px">60</text>
<line x1="421" y1="277.58" x2="424.2" y2="277.58" stroke="#111" stroke-width="0.9"/>
<text x="417.6" y="280.58" font-size="6.6" text-anchor="end" fill="#1a1a1a" textLength="6.5" lengthAdjust="spacingAndGlyphs" style="stroke-width:0.1px">80</text>
<line x1="421" y1="262.1" x2="424.2" y2="262.1" stroke="#111" stroke-width="0.9"/>
<text x="417.6" y="265.1" font-size="6.6" text-anchor="end" fill="#1a1a1a" textLength="9.8" lengthAdjust="spacingAndGlyphs" style="stroke-width:0.1px">100</text>
<line x1="422.7" y1="339.5" x2="424.2" y2="339.5" stroke="#111" stroke-width="0.7"/>
<line x1="422.7" y1="335.63" x2="424.2" y2="335.63" stroke="#111" stroke-width="0.7"/>
<line x1="422.7" y1="331.76" x2="424.2" y2="331.76" stroke="#111" stroke-width="0.7"/>
<line x1="422.7" y1="327.89" x2="424.2" y2="327.89" stroke="#111" stroke-width="0.7"/>
<line x1="422.7" y1="324.02" x2="424.2" y2="324.02" stroke="#111" stroke-width="0.7"/>
<line x1="422.7" y1="320.15" x2="424.2" y2="320.15" stroke="#111" stroke-width="0.7"/>
<line x1="422.7" y1="316.28" x2="424.2" y2="316.28" stroke="#111" stroke-width="0.7"/>
<line x1="422.7" y1="312.41" x2="424.2" y2="312.41" stroke="#111" stroke-width="0.7"/>
<line x1="422.7" y1="308.54" x2="424.2" y2="308.54" stroke="#111" stroke-width="0.7"/>
<line x1="422.7" y1="304.67" x2="424.2" y2="304.67" stroke="#111" stroke-width="0.7"/>
<line x1="422.7" y1="300.8" x2="424.2" y2="300.8" stroke="#111" stroke-width="0.7"/>
<line x1="422.7" y1="296.93" x2="424.2" y2="296.93" stroke="#111" stroke-width="0.7"/>
<line x1="422.7" y1="293.06" x2="424.2" y2="293.06" stroke="#111" stroke-width="0.7"/>
<line x1="422.7" y1="289.19" x2="424.2" y2="289.19" stroke="#111" stroke-width="0.7"/>
<line x1="422.7" y1="285.32" x2="424.2" y2="285.32" stroke="#111" stroke-width="0.7"/>
<line x1="422.7" y1="281.45" x2="424.2" y2="281.45" stroke="#111" stroke-width="0.7"/>
<line x1="422.7" y1="277.58" x2="424.2" y2="277.58" stroke="#111" stroke-width="0.7"/>
<line x1="422.7" y1="273.71" x2="424.2" y2="273.71" stroke="#111" stroke-width="0.7"/>
<line x1="422.7" y1="269.84" x2="424.2" y2="269.84" stroke="#111" stroke-width="0.7"/>
<line x1="422.7" y1="265.97" x2="424.2" y2="265.97" stroke="#111" stroke-width="0.7"/>
<line x1="422.7" y1="262.1" x2="424.2" y2="262.1" stroke="#111" stroke-width="0.7"/>
<line x1="439.77" y1="339.5" x2="439.77" y2="341.4" stroke="#111" stroke-width="0.75"/>
<line x1="441.99" y1="339.5" x2="441.99" y2="341.4" stroke="#111" stroke-width="0.75"/>
<line x1="443.86" y1="339.5" x2="443.86" y2="341.4" stroke="#111" stroke-width="0.75"/>
<line x1="445.49" y1="339.5" x2="445.49" y2="341.4" stroke="#111" stroke-width="0.75"/>
<line x1="446.92" y1="339.5" x2="446.92" y2="341.4" stroke="#111" stroke-width="0.75"/>
<line x1="448.2" y1="339.5" x2="448.2" y2="342.1" stroke="#111" stroke-width="0.75"/>
<line x1="456.63" y1="339.5" x2="456.63" y2="341.4" stroke="#111" stroke-width="0.75"/>
<line x1="461.56" y1="339.5" x2="461.56" y2="341.4" stroke="#111" stroke-width="0.75"/>
<line x1="465.06" y1="339.5" x2="465.06" y2="341.4" stroke="#111" stroke-width="0.75"/>
<line x1="467.77" y1="339.5" x2="467.77" y2="341.4" stroke="#111" stroke-width="0.75"/>
<line x1="469.99" y1="339.5" x2="469.99" y2="341.4" stroke="#111" stroke-width="0.75"/>
<line x1="471.86" y1="339.5" x2="471.86" y2="341.4" stroke="#111" stroke-width="0.75"/>
<line x1="473.49" y1="339.5" x2="473.49" y2="341.4" stroke="#111" stroke-width="0.75"/>
<line x1="474.92" y1="339.5" x2="474.92" y2="341.4" stroke="#111" stroke-width="0.75"/>
<line x1="476.2" y1="339.5" x2="476.2" y2="342.1" stroke="#111" stroke-width="0.75"/>
<line x1="484.63" y1="339.5" x2="484.63" y2="341.4" stroke="#111" stroke-width="0.75"/>
<line x1="489.56" y1="339.5" x2="489.56" y2="341.4" stroke="#111" stroke-width="0.75"/>
<line x1="493.06" y1="339.5" x2="493.06" y2="341.4" stroke="#111" stroke-width="0.75"/>
<line x1="495.77" y1="339.5" x2="495.77" y2="341.4" stroke="#111" stroke-width="0.75"/>
<line x1="497.99" y1="339.5" x2="497.99" y2="341.4" stroke="#111" stroke-width="0.75"/>
<line x1="499.86" y1="339.5" x2="499.86" y2="341.4" stroke="#111" stroke-width="0.75"/>
<line x1="501.49" y1="339.5" x2="501.49" y2="341.4" stroke="#111" stroke-width="0.75"/>
<line x1="502.92" y1="339.5" x2="502.92" y2="341.4" stroke="#111" stroke-width="0.75"/>
<line x1="504.2" y1="339.5" x2="504.2" y2="342.1" stroke="#111" stroke-width="0.75"/>
<line x1="425.7" y1="339.5" x2="425.7" y2="341.4" stroke="#111" stroke-width="0.75"/>
<line x1="426.95" y1="339.5" x2="426.95" y2="341.4" stroke="#111" stroke-width="0.75"/>
<line x1="428.2" y1="339.5" x2="428.2" y2="341.4" stroke="#111" stroke-width="0.75"/>
<line x1="429.45" y1="339.5" x2="429.45" y2="341.4" stroke="#111" stroke-width="0.75"/>
<line x1="430.7" y1="339.5" x2="430.7" y2="341.4" stroke="#111" stroke-width="0.75"/>
<line x1="431.95" y1="339.5" x2="431.95" y2="341.4" stroke="#111" stroke-width="0.75"/>
<line x1="433.2" y1="339.5" x2="433.2" y2="341.4" stroke="#111" stroke-width="0.75"/>
<line x1="434.45" y1="339.5" x2="434.45" y2="341.4" stroke="#111" stroke-width="0.75"/>
<line x1="435.7" y1="339.5" x2="435.7" y2="341.4" stroke="#111" stroke-width="0.75"/>
<line x1="436.95" y1="339.5" x2="436.95" y2="341.4" stroke="#111" stroke-width="0.75"/>
<line x1="438.2" y1="339.5" x2="438.2" y2="341.4" stroke="#111" stroke-width="0.75"/>
<text x="438.2" y="352.1" font-size="6.6" text-anchor="middle" fill="#1a1a1a" style="stroke-width:0.08px">0</text>
<text x="477.4" y="352.1" font-size="6.6" text-anchor="middle" fill="#1a1a1a" style="stroke-width:0.08px">10<tspan font-size="4.4" dy="-2.7">3</tspan></text>
<text x="505.4" y="352.1" font-size="6.6" text-anchor="middle" fill="#1a1a1a" style="stroke-width:0.08px">10<tspan font-size="4.4" dy="-2.7">4</tspan></text>
<text x="464.6" y="253.2" font-size="8.8" text-anchor="middle" fill="#1a1a1a" textLength="49.5" lengthAdjust="spacingAndGlyphs">Eltrombopag</text>
<text x="464.6" y="364.4" font-size="8.6" text-anchor="middle" fill="#1a1a1a" textLength="26.5" lengthAdjust="spacingAndGlyphs">pSTAT3</text>
<clipPath id="c4500"><rect x="424.2" y="258.1" width="81.5" height="81.4"/></clipPath>
<g clip-path="url(#c4500)">
<path d="M424.7 339.9 L425.1 339.9 L425.5 339.9 L425.9 339.9 L426.3 339.9 L426.7 339.9 L427.1 339.9 L427.5 339.9 L427.9 339.9 L428.3 339.9 L428.7 339.9 L429.1 339.9 L429.5 339.9 L429.9 339.9 L430.3 339.9 L430.7 339.9 L431.1 339.9 L431.5 339.9 L431.9 339.9 L432.3 339.9 L432.7 339.9 L433.1 339.9 L433.5 339.9 L433.9 339.9 L434.3 339.9 L434.7 339.9 L435.1 339.9 L435.5 339.9 L435.9 339.9 L436.3 339.9 L436.7 339.9 L437.1 339.9 L437.5 339.9 L437.9 339.9 L438.3 339.9 L438.7 339.9 L439.1 339.9 L439.5 339.9 L439.9 339.9 L440.3 339.9 L440.7 339.9 L441.1 339.9 L441.5 339.9 L441.9 339.9 L442.3 339.9 L442.7 339.9 L443.1 339.9 L443.5 339.9 L443.9 339.9 L444.3 339.9 L444.7 339.9 L445.1 339.9 L445.5 339.9 L445.9 339.9 L446.3 339.9 L446.7 339.9 L447.1 339.9 L447.5 339.9 L447.9 339.9 L448.3 339.9 L448.7 339.9 L449.1 339.9 L449.5 339.9 L449.9 339.9 L450.3 339.9 L450.7 339.9 L451.1 339.9 L451.5 339.9 L451.9 339.9 L452.3 339.89 L452.7 339.89 L453.1 339.87 L453.5 339.86 L453.9 339.84 L454.3 339.82 L454.7 339.79 L455.1 339.76 L455.5 339.74 L455.9 339.71 L456.3 339.68 L456.7 339.64 L457.1 339.59 L457.5 339.53 L457.9 339.47 L458.3 339.39 L458.7 339.31 L459.1 339.22 L459.5 339.11 L459.9 339 L460.3 338.86 L460.7 338.68 L461.1 338.45 L461.5 338.18 L461.9 337.87 L462.3 337.51 L462.7 337.1 L463.1 336.65 L463.5 336.15 L463.9 335.6 L464.3 334.86 L464.7 333.8 L465.1 332.47 L465.5 330.92 L465.9 329.19 L466.3 327.3 L466.7 324.93 L467.1 322.03 L467.5 318.7 L467.9 315.03 L468.3 310.5 L468.7 305.45 L469.1 300.41 L469.5 295.18 L469.9 289.67 L470.3 283.49 L470.7 278 L471.1 273.72 L471.5 270.21 L471.9 267.75 L472.3 265.64 L472.7 264.46 L473.1 264.84 L473.5 266.2 L473.9 267.55 L474.3 268.98 L474.7 270.62 L475.1 272.39 L475.5 274.68 L475.9 278.61 L476.3 284.75 L476.7 291.1 L477.1 297.12 L477.5 302.91 L477.9 307.77 L478.3 312.1 L478.7 316 L479.1 319.66 L479.5 323.06 L479.9 325.91 L480.3 328.16 L480.7 330.24 L481.1 332.1 L481.5 333.69 L481.9 334.94 L482.3 335.78 L482.7 336.45 L483.1 337.06 L483.5 337.6 L483.9 338.07 L484.3 338.46 L484.7 338.79 L485.1 339.03 L485.5 339.2 L485.9 339.32 L486.3 339.44 L486.7 339.54 L487.1 339.63 L487.5 339.71 L487.9 339.78 L488.3 339.83 L488.7 339.87 L489.1 339.89 L489.5 339.9 L489.9 339.9 L490.3 339.9 L490.7 339.9 L491.1 339.9 L491.5 339.9 L491.9 339.9 L492.3 339.9 L492.7 339.9 L493.1 339.9 L493.5 339.9 L493.9 339.9 L494.3 339.9 L494.7 339.9 L495.1 339.9 L495.5 339.9 L495.9 339.9 L496.3 339.9 L496.7 339.9 L497.1 339.9 L497.5 339.9 L497.9 339.9 L498.3 339.9 L498.7 339.9 L499.1 339.9 L499.5 339.9 L499.9 339.9 L500.3 339.9 L500.7 339.9 L501.1 339.9 L501.5 339.9 L501.9 339.9 L502.3 339.9 L502.7 339.9 L503.1 339.9 L503.5 339.9 L503.9 339.9 L504.3 339.9 L504.7 339.9" fill="none" stroke="#d4924c" stroke-width="1.2" stroke-linejoin="round"/>
<path d="M425 339.5 L425.4 339.5 L425.8 339.5 L426.2 339.5 L426.6 339.5 L427 339.5 L427.4 339.5 L427.8 339.5 L428.2 339.5 L428.6 339.5 L429 339.5 L429.4 339.5 L429.8 339.5 L430.2 339.5 L430.6 339.5 L431 339.5 L431.4 339.5 L431.8 339.5 L432.2 339.5 L432.6 339.5 L433 339.5 L433.4 339.5 L433.8 339.5 L434.2 339.5 L434.6 339.5 L435 339.5 L435.4 339.5 L435.8 339.5 L436.2 339.5 L436.6 339.5 L437 339.5 L437.4 339.5 L437.8 339.5 L438.2 339.5 L438.6 339.5 L439 339.5 L439.4 339.5 L439.8 339.5 L440.2 339.5 L440.6 339.5 L441 339.5 L441.4 339.5 L441.8 339.5 L442.2 339.5 L442.6 339.5 L443 339.5 L443.4 339.5 L443.8 339.5 L444.2 339.5 L444.6 339.5 L445 339.5 L445.4 339.5 L445.8 339.5 L446.2 339.5 L446.6 339.5 L447 339.5 L447.4 339.5 L447.8 339.5 L448.2 339.5 L448.6 339.5 L449 339.5 L449.4 339.5 L449.8 339.5 L450.2 339.5 L450.6 339.5 L451 339.5 L451.4 339.5 L451.8 339.5 L452.2 339.5 L452.6 339.49 L453 339.49 L453.4 339.47 L453.8 339.46 L454.2 339.44 L454.6 339.42 L455 339.39 L455.4 339.36 L455.8 339.34 L456.2 339.31 L456.6 339.28 L457 339.24 L457.4 339.19 L457.8 339.13 L458.2 339.07 L458.6 338.99 L459 338.91 L459.4 338.82 L459.8 338.71 L460.2 338.6 L460.6 338.46 L461 338.28 L461.4 338.05 L461.8 337.78 L462.2 337.47 L462.6 337.11 L463 336.7 L463.4 336.25 L463.8 335.75 L464.2 335.2 L464.6 334.46 L465 333.4 L465.4 332.07 L465.8 330.52 L466.2 328.79 L466.6 326.9 L467 324.53 L467.4 321.63 L467.8 318.3 L468.2 314.63 L468.6 310.1 L469 305.05 L469.4 300.01 L469.8 294.78 L470.2 289.27 L470.6 283.09 L471 277.6 L471.4 273.32 L471.8 269.81 L472.2 267.35 L472.6 265.24 L473 264.06 L473.4 264.44 L473.8 265.8 L474.2 267.15 L474.6 268.58 L475 270.22 L475.4 271.99 L475.8 274.28 L476.2 278.21 L476.6 284.35 L477 290.7 L477.4 296.72 L477.8 302.51 L478.2 307.37 L478.6 311.7 L479 315.6 L479.4 319.26 L479.8 322.66 L480.2 325.51 L480.6 327.76 L481 329.84 L481.4 331.7 L481.8 333.29 L482.2 334.54 L482.6 335.38 L483 336.05 L483.4 336.66 L483.8 337.2 L484.2 337.67 L484.6 338.06 L485 338.39 L485.4 338.63 L485.8 338.8 L486.2 338.92 L486.6 339.04 L487 339.14 L487.4 339.23 L487.8 339.31 L488.2 339.38 L488.6 339.43 L489 339.47 L489.4 339.49 L489.8 339.5 L490.2 339.5 L490.6 339.5 L491 339.5 L491.4 339.5 L491.8 339.5 L492.2 339.5 L492.6 339.5 L493 339.5 L493.4 339.5 L493.8 339.5 L494.2 339.5 L494.6 339.5 L495 339.5 L495.4 339.5 L495.8 339.5 L496.2 339.5 L496.6 339.5 L497 339.5 L497.4 339.5 L497.8 339.5 L498.2 339.5 L498.6 339.5 L499 339.5 L499.4 339.5 L499.8 339.5 L500.2 339.5 L500.6 339.5 L501 339.5 L501.4 339.5 L501.8 339.5 L502.2 339.5 L502.6 339.5 L503 339.5 L503.4 339.5 L503.8 339.5 L504.2 339.5 L504.6 339.5 L505 339.5" fill="none" stroke="#4a80c4" stroke-width="1.2" stroke-linejoin="round"/>
</g>
<rect x="424.2" y="258.1" width="81.5" height="81.4" fill="none" stroke="#000" stroke-width="1.25"/>
<rect x="166.1" y="467.7" width="81.4" height="80.8" fill="#fff" stroke="none"/>
<line x1="162.9" y1="548.5" x2="166.1" y2="548.5" stroke="#111" stroke-width="0.9"/>
<text x="159.5" y="551.5" font-size="6.6" text-anchor="end" fill="#1a1a1a" style="stroke-width:0.1px">0</text>
<line x1="162.9" y1="533.14" x2="166.1" y2="533.14" stroke="#111" stroke-width="0.9"/>
<text x="159.5" y="536.14" font-size="6.6" text-anchor="end" fill="#1a1a1a" textLength="6.5" lengthAdjust="spacingAndGlyphs" style="stroke-width:0.1px">20</text>
<line x1="162.9" y1="517.78" x2="166.1" y2="517.78" stroke="#111" stroke-width="0.9"/>
<text x="159.5" y="520.78" font-size="6.6" text-anchor="end" fill="#1a1a1a" textLength="6.5" lengthAdjust="spacingAndGlyphs" style="stroke-width:0.1px">40</text>
<line x1="162.9" y1="502.42" x2="166.1" y2="502.42" stroke="#111" stroke-width="0.9"/>
<text x="159.5" y="505.42" font-size="6.6" text-anchor="end" fill="#1a1a1a" textLength="6.5" lengthAdjust="spacingAndGlyphs" style="stroke-width:0.1px">60</text>
<line x1="162.9" y1="487.06" x2="166.1" y2="487.06" stroke="#111" stroke-width="0.9"/>
<text x="159.5" y="490.06" font-size="6.6" text-anchor="end" fill="#1a1a1a" textLength="6.5" lengthAdjust="spacingAndGlyphs" style="stroke-width:0.1px">80</text>
<line x1="162.9" y1="471.7" x2="166.1" y2="471.7" stroke="#111" stroke-width="0.9"/>
<text x="159.5" y="474.7" font-size="6.6" text-anchor="end" fill="#1a1a1a" textLength="9.8" lengthAdjust="spacingAndGlyphs" style="stroke-width:0.1px">100</text>
<line x1="164.6" y1="548.5" x2="166.1" y2="548.5" stroke="#111" stroke-width="0.7"/>
<line x1="164.6" y1="544.66" x2="166.1" y2="544.66" stroke="#111" stroke-width="0.7"/>
<line x1="164.6" y1="540.82" x2="166.1" y2="540.82" stroke="#111" stroke-width="0.7"/>
<line x1="164.6" y1="536.98" x2="166.1" y2="536.98" stroke="#111" stroke-width="0.7"/>
<line x1="164.6" y1="533.14" x2="166.1" y2="533.14" stroke="#111" stroke-width="0.7"/>
<line x1="164.6" y1="529.3" x2="166.1" y2="529.3" stroke="#111" stroke-width="0.7"/>
<line x1="164.6" y1="525.46" x2="166.1" y2="525.46" stroke="#111" stroke-width="0.7"/>
<line x1="164.6" y1="521.62" x2="166.1" y2="521.62" stroke="#111" stroke-width="0.7"/>
<line x1="164.6" y1="517.78" x2="166.1" y2="517.78" stroke="#111" stroke-width="0.7"/>
<line x1="164.6" y1="513.94" x2="166.1" y2="513.94" stroke="#111" stroke-width="0.7"/>
<line x1="164.6" y1="510.1" x2="166.1" y2="510.1" stroke="#111" stroke-width="0.7"/>
<line x1="164.6" y1="506.26" x2="166.1" y2="506.26" stroke="#111" stroke-width="0.7"/>
<line x1="164.6" y1="502.42" x2="166.1" y2="502.42" stroke="#111" stroke-width="0.7"/>
<line x1="164.6" y1="498.58" x2="166.1" y2="498.58" stroke="#111" stroke-width="0.7"/>
<line x1="164.6" y1="494.74" x2="166.1" y2="494.74" stroke="#111" stroke-width="0.7"/>
<line x1="164.6" y1="490.9" x2="166.1" y2="490.9" stroke="#111" stroke-width="0.7"/>
<line x1="164.6" y1="487.06" x2="166.1" y2="487.06" stroke="#111" stroke-width="0.7"/>
<line x1="164.6" y1="483.22" x2="166.1" y2="483.22" stroke="#111" stroke-width="0.7"/>
<line x1="164.6" y1="479.38" x2="166.1" y2="479.38" stroke="#111" stroke-width="0.7"/>
<line x1="164.6" y1="475.54" x2="166.1" y2="475.54" stroke="#111" stroke-width="0.7"/>
<line x1="164.6" y1="471.7" x2="166.1" y2="471.7" stroke="#111" stroke-width="0.7"/>
<line x1="184.41" y1="548.5" x2="184.41" y2="550.4" stroke="#111" stroke-width="0.75"/>
<line x1="187.94" y1="548.5" x2="187.94" y2="550.4" stroke="#111" stroke-width="0.75"/>
<line x1="190.82" y1="548.5" x2="190.82" y2="550.4" stroke="#111" stroke-width="0.75"/>
<line x1="193.26" y1="548.5" x2="193.26" y2="550.4" stroke="#111" stroke-width="0.75"/>
<line x1="195.37" y1="548.5" x2="195.37" y2="550.4" stroke="#111" stroke-width="0.75"/>
<line x1="197.23" y1="548.5" x2="197.23" y2="550.4" stroke="#111" stroke-width="0.75"/>
<line x1="198.9" y1="548.5" x2="198.9" y2="551.1" stroke="#111" stroke-width="0.75"/>
<line x1="209.86" y1="548.5" x2="209.86" y2="550.4" stroke="#111" stroke-width="0.75"/>
<line x1="216.27" y1="548.5" x2="216.27" y2="550.4" stroke="#111" stroke-width="0.75"/>
<line x1="220.81" y1="548.5" x2="220.81" y2="550.4" stroke="#111" stroke-width="0.75"/>
<line x1="224.34" y1="548.5" x2="224.34" y2="550.4" stroke="#111" stroke-width="0.75"/>
<line x1="227.22" y1="548.5" x2="227.22" y2="550.4" stroke="#111" stroke-width="0.75"/>
<line x1="229.66" y1="548.5" x2="229.66" y2="550.4" stroke="#111" stroke-width="0.75"/>
<line x1="231.77" y1="548.5" x2="231.77" y2="550.4" stroke="#111" stroke-width="0.75"/>
<line x1="233.63" y1="548.5" x2="233.63" y2="550.4" stroke="#111" stroke-width="0.75"/>
<line x1="235.3" y1="548.5" x2="235.3" y2="551.1" stroke="#111" stroke-width="0.75"/>
<line x1="246.26" y1="548.5" x2="246.26" y2="550.4" stroke="#111" stroke-width="0.75"/>
<line x1="167.6" y1="548.5" x2="167.6" y2="550.4" stroke="#111" stroke-width="0.75"/>
<line x1="168.85" y1="548.5" x2="168.85" y2="550.4" stroke="#111" stroke-width="0.75"/>
<line x1="170.1" y1="548.5" x2="170.1" y2="550.4" stroke="#111" stroke-width="0.75"/>
<line x1="171.35" y1="548.5" x2="171.35" y2="550.4" stroke="#111" stroke-width="0.75"/>
<line x1="172.6" y1="548.5" x2="172.6" y2="550.4" stroke="#111" stroke-width="0.75"/>
<line x1="173.85" y1="548.5" x2="173.85" y2="550.4" stroke="#111" stroke-width="0.75"/>
<line x1="175.1" y1="548.5" x2="175.1" y2="550.4" stroke="#111" stroke-width="0.75"/>
<line x1="176.35" y1="548.5" x2="176.35" y2="550.4" stroke="#111" stroke-width="0.75"/>
<line x1="177.6" y1="548.5" x2="177.6" y2="550.4" stroke="#111" stroke-width="0.75"/>
<line x1="178.85" y1="548.5" x2="178.85" y2="550.4" stroke="#111" stroke-width="0.75"/>
<line x1="180.1" y1="548.5" x2="180.1" y2="550.4" stroke="#111" stroke-width="0.75"/>
<text x="177.9" y="561.1" font-size="6.6" text-anchor="middle" fill="#1a1a1a" style="stroke-width:0.08px">0</text>
<text x="199.1" y="561.1" font-size="6.6" text-anchor="middle" fill="#1a1a1a" style="stroke-width:0.08px">10<tspan font-size="4.4" dy="-2.7">2</tspan></text>
<text x="236.5" y="561.1" font-size="6.6" text-anchor="middle" fill="#1a1a1a" style="stroke-width:0.08px">10<tspan font-size="4.4" dy="-2.7">3</tspan></text>
<text x="206.9" y="462.9" font-size="9.2" text-anchor="middle" fill="#1a1a1a" textLength="15.2" lengthAdjust="spacingAndGlyphs">TPO</text>
<text x="206.8" y="573.5" font-size="8.6" text-anchor="middle" fill="#1a1a1a" textLength="19" lengthAdjust="spacingAndGlyphs">pERK</text>
<clipPath id="c2128"><rect x="166.1" y="467.7" width="81.4" height="80.8"/></clipPath>
<g clip-path="url(#c2128)">
<path d="M166.1 548.5 L166.6 548.2 L167.1 548.07 L167.6 547.93 L168.1 547.81 L168.6 547.28 L169.1 546.77 L169.6 546.32 L170.1 546.44 L170.6 546.4 L171.1 545.52 L171.6 544.5 L172.1 544.18 L172.6 544.91 L173.1 543.82 L173.6 542.36 L174.1 542.69 L174.6 541.58 L175.1 541.33 L175.6 540.88 L176.1 540.2 L176.6 540.47 L177.1 539.56 L177.6 538.7 L178.1 538.91 L178.6 538.76 L179.1 536.52 L179.6 537.07 L180.1 536.05 L180.6 536.18 L181.1 534.79 L181.6 535.29 L182.1 534.66 L182.6 533.81 L183.1 532.31 L183.6 531.8 L184.1 530.02 L184.6 528.66 L185.1 529.27 L185.6 527.36 L186.1 529.47 L186.6 529.14 L187.1 526.7 L187.6 529.2 L188.1 528.07 L188.6 529.23 L189.1 529.22 L189.6 527.18 L190.1 528.81 L190.6 528.67 L191.1 529.73 L191.6 527.46 L192.1 529.17 L192.6 527.14 L193.1 527.66 L193.6 526.7 L194.1 528.39 L194.6 526.66 L195.1 527.66 L195.6 524.61 L196.1 523.59 L196.6 522.17 L197.1 518.55 L197.6 516.63 L198.1 515.17 L198.6 505.79 L199.1 502.38 L199.6 500.54 L200.1 500.47 L200.6 497.68 L201.1 495.78 L201.6 493.45 L202.1 490.41 L202.6 486.86 L203.1 488.3 L203.6 483.22 L204.1 482.88 L204.6 482.98 L205.1 487.54 L205.6 486.03 L206.1 485.93 L206.6 487.05 L207.1 491.44 L207.6 490.96 L208.1 493.25 L208.6 499.46 L209.1 499.7 L209.6 503.32 L210.1 505.78 L210.6 506.96 L211.1 509.18 L211.6 512.63 L212.1 511.59 L212.6 512 L213.1 512.56 L213.6 515.87 L214.1 516.86 L214.6 518.79 L215.1 519.11 L215.6 520.35 L216.1 521.34 L216.6 522.85 L217.1 524.87 L217.6 525.57 L218.1 527.34 L218.6 530.38 L219.1 530.22 L219.6 529.6 L220.1 533.91 L220.6 533.97 L221.1 534.18 L221.6 536.86 L222.1 537.29 L222.6 537.88 L223.1 538.9 L223.6 539.66 L224.1 541.24 L224.6 542.68 L225.1 542.69 L225.6 543.78 L226.1 545.07 L226.6 544.31 L227.1 545.52 L227.6 545.85 L228.1 546.1 L228.6 546.55 L229.1 547.15 L229.6 547.49 L230.1 547.5 L230.6 547.83 L231.1 548.11 L231.6 548.18 L232.1 548.34 L232.6 548.34 L233.1 548.36 L233.6 548.5 L234.1 548.4 L234.6 548.37 L235.1 548.43 L235.6 548.31 L236.1 548.37 L236.6 548.46 L237.1 548.45 L237.6 548.5 L238.1 548.43 L238.6 548.36 L239.1 548.5 L239.6 548.5 L240.1 548.41 L240.6 548.5 L241.1 548.47 L241.6 548.41 L242.1 548.47 L242.6 548.47 L243.1 548.5 L243.6 548.47 L244.1 548.49 L244.6 548.49 L245.1 548.49 L245.6 548.49 L246.1 548.5 L246.6 548.5 L247.1 548.5 L247.5 548.5" fill="none" stroke="#a8291f" stroke-width="1.2" stroke-linejoin="round"/>
<path d="M166.1 548.5 L166.6 548.5 L167.1 548.48 L167.6 548.49 L168.1 548.5 L168.6 548.5 L169.1 548.5 L169.6 548.5 L170.1 548.48 L170.6 548.49 L171.1 548.46 L171.6 548.4 L172.1 548.39 L172.6 548.45 L173.1 548.38 L173.6 548.49 L174.1 548.48 L174.6 548.5 L175.1 548.3 L175.6 548.39 L176.1 548.06 L176.6 547.96 L177.1 547.98 L177.6 547.9 L178.1 547.45 L178.6 547.27 L179.1 547.55 L179.6 547.15 L180.1 547.48 L180.6 547.15 L181.1 546.99 L181.6 546.8 L182.1 546.82 L182.6 546.31 L183.1 546.48 L183.6 545.72 L184.1 545.57 L184.6 545.15 L185.1 545.35 L185.6 544.87 L186.1 544.23 L186.6 545.15 L187.1 543.87 L187.6 543.7 L188.1 543.67 L188.6 544.04 L189.1 542.88 L189.6 543.04 L190.1 542.47 L190.6 541.38 L191.1 542.28 L191.6 542.11 L192.1 541.12 L192.6 540.91 L193.1 539.71 L193.6 539.31 L194.1 539.58 L194.6 539.79 L195.1 538.64 L195.6 538.61 L196.1 538.5 L196.6 537.3 L197.1 536.98 L197.6 536.94 L198.1 534.21 L198.6 534.97 L199.1 532.12 L199.6 533.17 L200.1 532.18 L200.6 530.72 L201.1 529.39 L201.6 529.38 L202.1 528.1 L202.6 527.54 L203.1 525.45 L203.6 525.66 L204.1 522.74 L204.6 521.91 L205.1 519.92 L205.6 519.68 L206.1 514.29 L206.6 513.33 L207.1 513 L207.6 508.22 L208.1 505.42 L208.6 505.94 L209.1 503.89 L209.6 504.2 L210.1 500.33 L210.6 500.07 L211.1 498.59 L211.6 497.04 L212.1 492.08 L212.6 494.46 L213.1 489.49 L213.6 487.24 L214.1 486.91 L214.6 487.52 L215.1 485.67 L215.6 485.9 L216.1 485.01 L216.6 483.62 L217.1 481.43 L217.6 483.96 L218.1 476.88 L218.6 478.59 L219.1 482.36 L219.6 483.08 L220.1 483.01 L220.6 488.25 L221.1 490.85 L221.6 490.95 L222.1 498.66 L222.6 502.09 L223.1 504.81 L223.6 505.32 L224.1 509.15 L224.6 510.58 L225.1 515.24 L225.6 517.24 L226.1 521.5 L226.6 523.89 L227.1 528.39 L227.6 531.17 L228.1 534.2 L228.6 534.48 L229.1 536.9 L229.6 540.65 L230.1 542.13 L230.6 544.14 L231.1 545.05 L231.6 545.79 L232.1 546.71 L232.6 547.19 L233.1 547.66 L233.6 547.8 L234.1 548.36 L234.6 548.22 L235.1 548.35 L235.6 548.29 L236.1 548.41 L236.6 548.32 L237.1 548.35 L237.6 548.36 L238.1 548.31 L238.6 548.34 L239.1 548.38 L239.6 548.4 L240.1 548.36 L240.6 548.5 L241.1 548.39 L241.6 548.44 L242.1 548.5 L242.6 548.44 L243.1 548.5 L243.6 548.5 L244.1 548.48 L244.6 548.46 L245.1 548.47 L245.6 548.5 L246.1 548.5 L246.6 548.49 L247.1 548.5 L247.5 548.5" fill="none" stroke="#000" stroke-width="1.3" stroke-linejoin="round"/>
</g>
<rect x="166.1" y="467.7" width="81.4" height="80.8" fill="none" stroke="#000" stroke-width="1.25"/>
<rect x="424.2" y="467.2" width="81.5" height="81.3" fill="#fff" stroke="none"/>
<line x1="421" y1="548.5" x2="424.2" y2="548.5" stroke="#111" stroke-width="0.9"/>
<text x="417.6" y="551.5" font-size="6.6" text-anchor="end" fill="#1a1a1a" style="stroke-width:0.1px">0</text>
<line x1="421" y1="533.04" x2="424.2" y2="533.04" stroke="#111" stroke-width="0.9"/>
<text x="417.6" y="536.04" font-size="6.6" text-anchor="end" fill="#1a1a1a" textLength="6.5" lengthAdjust="spacingAndGlyphs" style="stroke-width:0.1px">20</text>
<line x1="421" y1="517.58" x2="424.2" y2="517.58" stroke="#111" stroke-width="0.9"/>
<text x="417.6" y="520.58" font-size="6.6" text-anchor="end" fill="#1a1a1a" textLength="6.5" lengthAdjust="spacingAndGlyphs" style="stroke-width:0.1px">40</text>
<line x1="421" y1="502.12" x2="424.2" y2="502.12" stroke="#111" stroke-width="0.9"/>
<text x="417.6" y="505.12" font-size="6.6" text-anchor="end" fill="#1a1a1a" textLength="6.5" lengthAdjust="spacingAndGlyphs" style="stroke-width:0.1px">60</text>
<line x1="421" y1="486.66" x2="424.2" y2="486.66" stroke="#111" stroke-width="0.9"/>
<text x="417.6" y="489.66" font-size="6.6" text-anchor="end" fill="#1a1a1a" textLength="6.5" lengthAdjust="spacingAndGlyphs" style="stroke-width:0.1px">80</text>
<line x1="421" y1="471.2" x2="424.2" y2="471.2" stroke="#111" stroke-width="0.9"/>
<text x="417.6" y="474.2" font-size="6.6" text-anchor="end" fill="#1a1a1a" textLength="9.8" lengthAdjust="spacingAndGlyphs" style="stroke-width:0.1px">100</text>
<line x1="422.7" y1="548.5" x2="424.2" y2="548.5" stroke="#111" stroke-width="0.7"/>
<line x1="422.7" y1="544.63" x2="424.2" y2="544.63" stroke="#111" stroke-width="0.7"/>
<line x1="422.7" y1="540.77" x2="424.2" y2="540.77" stroke="#111" stroke-width="0.7"/>
<line x1="422.7" y1="536.9" x2="424.2" y2="536.9" stroke="#111" stroke-width="0.7"/>
<line x1="422.7" y1="533.04" x2="424.2" y2="533.04" stroke="#111" stroke-width="0.7"/>
<line x1="422.7" y1="529.17" x2="424.2" y2="529.17" stroke="#111" stroke-width="0.7"/>
<line x1="422.7" y1="525.31" x2="424.2" y2="525.31" stroke="#111" stroke-width="0.7"/>
<line x1="422.7" y1="521.44" x2="424.2" y2="521.44" stroke="#111" stroke-width="0.7"/>
<line x1="422.7" y1="517.58" x2="424.2" y2="517.58" stroke="#111" stroke-width="0.7"/>
<line x1="422.7" y1="513.72" x2="424.2" y2="513.72" stroke="#111" stroke-width="0.7"/>
<line x1="422.7" y1="509.85" x2="424.2" y2="509.85" stroke="#111" stroke-width="0.7"/>
<line x1="422.7" y1="505.99" x2="424.2" y2="505.99" stroke="#111" stroke-width="0.7"/>
<line x1="422.7" y1="502.12" x2="424.2" y2="502.12" stroke="#111" stroke-width="0.7"/>
<line x1="422.7" y1="498.25" x2="424.2" y2="498.25" stroke="#111" stroke-width="0.7"/>
<line x1="422.7" y1="494.39" x2="424.2" y2="494.39" stroke="#111" stroke-width="0.7"/>
<line x1="422.7" y1="490.52" x2="424.2" y2="490.52" stroke="#111" stroke-width="0.7"/>
<line x1="422.7" y1="486.66" x2="424.2" y2="486.66" stroke="#111" stroke-width="0.7"/>
<line x1="422.7" y1="482.79" x2="424.2" y2="482.79" stroke="#111" stroke-width="0.7"/>
<line x1="422.7" y1="478.93" x2="424.2" y2="478.93" stroke="#111" stroke-width="0.7"/>
<line x1="422.7" y1="475.06" x2="424.2" y2="475.06" stroke="#111" stroke-width="0.7"/>
<line x1="422.7" y1="471.2" x2="424.2" y2="471.2" stroke="#111" stroke-width="0.7"/>
<line x1="441.78" y1="548.5" x2="441.78" y2="550.4" stroke="#111" stroke-width="0.75"/>
<line x1="445.36" y1="548.5" x2="445.36" y2="550.4" stroke="#111" stroke-width="0.75"/>
<line x1="448.29" y1="548.5" x2="448.29" y2="550.4" stroke="#111" stroke-width="0.75"/>
<line x1="450.77" y1="548.5" x2="450.77" y2="550.4" stroke="#111" stroke-width="0.75"/>
<line x1="452.91" y1="548.5" x2="452.91" y2="550.4" stroke="#111" stroke-width="0.75"/>
<line x1="454.81" y1="548.5" x2="454.81" y2="550.4" stroke="#111" stroke-width="0.75"/>
<line x1="456.5" y1="548.5" x2="456.5" y2="551.1" stroke="#111" stroke-width="0.75"/>
<line x1="467.64" y1="548.5" x2="467.64" y2="550.4" stroke="#111" stroke-width="0.75"/>
<line x1="474.15" y1="548.5" x2="474.15" y2="550.4" stroke="#111" stroke-width="0.75"/>
<line x1="478.78" y1="548.5" x2="478.78" y2="550.4" stroke="#111" stroke-width="0.75"/>
<line x1="482.36" y1="548.5" x2="482.36" y2="550.4" stroke="#111" stroke-width="0.75"/>
<line x1="485.29" y1="548.5" x2="485.29" y2="550.4" stroke="#111" stroke-width="0.75"/>
<line x1="487.77" y1="548.5" x2="487.77" y2="550.4" stroke="#111" stroke-width="0.75"/>
<line x1="489.91" y1="548.5" x2="489.91" y2="550.4" stroke="#111" stroke-width="0.75"/>
<line x1="491.81" y1="548.5" x2="491.81" y2="550.4" stroke="#111" stroke-width="0.75"/>
<line x1="493.5" y1="548.5" x2="493.5" y2="551.1" stroke="#111" stroke-width="0.75"/>
<line x1="504.64" y1="548.5" x2="504.64" y2="550.4" stroke="#111" stroke-width="0.75"/>
<line x1="425.7" y1="548.5" x2="425.7" y2="550.4" stroke="#111" stroke-width="0.75"/>
<line x1="426.95" y1="548.5" x2="426.95" y2="550.4" stroke="#111" stroke-width="0.75"/>
<line x1="428.2" y1="548.5" x2="428.2" y2="550.4" stroke="#111" stroke-width="0.75"/>
<line x1="429.45" y1="548.5" x2="429.45" y2="550.4" stroke="#111" stroke-width="0.75"/>
<line x1="430.7" y1="548.5" x2="430.7" y2="550.4" stroke="#111" stroke-width="0.75"/>
<line x1="431.95" y1="548.5" x2="431.95" y2="550.4" stroke="#111" stroke-width="0.75"/>
<line x1="433.2" y1="548.5" x2="433.2" y2="550.4" stroke="#111" stroke-width="0.75"/>
<line x1="434.45" y1="548.5" x2="434.45" y2="550.4" stroke="#111" stroke-width="0.75"/>
<line x1="435.7" y1="548.5" x2="435.7" y2="550.4" stroke="#111" stroke-width="0.75"/>
<line x1="436.95" y1="548.5" x2="436.95" y2="550.4" stroke="#111" stroke-width="0.75"/>
<line x1="438.2" y1="548.5" x2="438.2" y2="550.4" stroke="#111" stroke-width="0.75"/>
<text x="435.5" y="561.1" font-size="6.6" text-anchor="middle" fill="#1a1a1a" style="stroke-width:0.08px">0</text>
<text x="457.4" y="561.1" font-size="6.6" text-anchor="middle" fill="#1a1a1a" style="stroke-width:0.08px">10<tspan font-size="4.4" dy="-2.7">2</tspan></text>
<text x="494.7" y="561.1" font-size="6.6" text-anchor="middle" fill="#1a1a1a" style="stroke-width:0.08px">10<tspan font-size="4.4" dy="-2.7">3</tspan></text>
<text x="464.6" y="462.2" font-size="8.8" text-anchor="middle" fill="#1a1a1a" textLength="49.5" lengthAdjust="spacingAndGlyphs">Eltrombopag</text>
<text x="464.6" y="573.7" font-size="8.6" text-anchor="middle" fill="#1a1a1a" textLength="19" lengthAdjust="spacingAndGlyphs">pERK</text>
<clipPath id="c4709"><rect x="424.2" y="467.2" width="81.5" height="81.3"/></clipPath>
<g clip-path="url(#c4709)">
<path d="M425.7 548.5 L426.05 548.5 L426.4 548.5 L426.75 548.5 L427.1 548.5 L427.45 548.5 L427.8 548.5 L428.15 548.5 L428.5 548.5 L428.85 548.5 L429.2 548.5 L429.55 548.5 L429.9 548.5 L430.25 548.5 L430.6 548.5 L430.95 548.5 L431.3 548.5 L431.65 548.5 L432 548.5 L432.35 548.5 L432.7 548.5 L433.05 548.5 L433.4 548.5 L433.75 548.5 L434.1 548.5 L434.45 548.5 L434.8 548.5 L435.15 548.5 L435.5 548.5 L435.85 548.5 L436.2 548.5 L436.55 548.5 L436.9 548.5 L437.25 548.5 L437.6 548.5 L437.95 548.5 L438.3 548.5 L438.65 548.5 L439 548.5 L439.35 548.5 L439.7 548.5 L440.05 548.44 L440.4 548.3 L440.75 548.25 L441.1 548.22 L441.45 547.93 L441.8 547.97 L442.15 547.8 L442.5 547.61 L442.85 547.72 L443.2 547.48 L443.55 547.13 L443.9 547.09 L444.25 546.96 L444.6 546.66 L444.95 546.54 L445.3 546.19 L445.65 546.04 L446 545.89 L446.35 545.25 L446.7 545.09 L447.05 544.64 L447.4 544.42 L447.75 543.81 L448.1 543.58 L448.45 543.29 L448.8 543.13 L449.15 542.77 L449.5 541.73 L449.85 541.37 L450.2 541.21 L450.55 539.96 L450.9 539.77 L451.25 539.24 L451.6 538.98 L451.95 538.11 L452.3 537 L452.65 536.09 L453 535.13 L453.35 534.69 L453.7 532.83 L454.05 531.64 L454.4 530.6 L454.75 529.05 L455.1 527.6 L455.45 525.56 L455.8 524.23 L456.15 522.08 L456.5 520.9 L456.85 518.71 L457.2 516.54 L457.55 515.21 L457.9 512.9 L458.25 511.78 L458.6 508.92 L458.95 506.35 L459.3 501.31 L459.65 498.53 L460 493.14 L460.35 491.04 L460.7 497.92 L461.05 495.37 L461.4 490.89 L461.75 489.38 L462.1 483.58 L462.45 481.17 L462.8 490.3 L463.15 493.97 L463.5 487.73 L463.85 488.43 L464.2 492.3 L464.55 494.3 L464.9 496.72 L465.25 501.39 L465.6 504.3 L465.95 506 L466.3 508.95 L466.65 510.26 L467 513.12 L467.35 514.41 L467.7 516.08 L468.05 517.52 L468.4 519.72 L468.75 520.87 L469.1 523.39 L469.45 526.06 L469.8 526.73 L470.15 529.51 L470.5 529.86 L470.85 532.18 L471.2 532.81 L471.55 534.56 L471.9 535.41 L472.25 535.88 L472.6 537.74 L472.95 538.73 L473.3 539.19 L473.65 540.02 L474 540.89 L474.35 541.46 L474.7 542.67 L475.05 542.92 L475.4 543.56 L475.75 543.86 L476.1 544.32 L476.45 544.62 L476.8 545.45 L477.15 545.58 L477.5 546.09 L477.85 546.27 L478.2 546.48 L478.55 546.81 L478.9 547.05 L479.25 547.35 L479.6 547.53 L479.95 547.73 L480.3 547.82 L480.65 548.01 L481 548.28 L481.35 548.31 L481.7 548.45 L482.05 548.5 L482.4 548.5 L482.75 548.5 L483.1 548.5 L483.45 548.5 L483.8 548.5 L484.15 548.5 L484.5 548.5 L484.85 548.5 L485.2 548.5 L485.55 548.5 L485.9 548.5 L486.25 548.5 L486.6 548.5 L486.95 548.5 L487.3 548.5 L487.65 548.5 L488 548.5 L488.35 548.5 L488.7 548.5 L489.05 548.5 L489.4 548.5 L489.75 548.5 L490.1 548.5 L490.45 548.5 L490.8 548.5 L491.15 548.5 L491.5 548.5 L491.85 548.5 L492.2 548.5 L492.55 548.5 L492.9 548.5 L493.25 548.5 L493.6 548.5 L493.95 548.5 L494.3 548.5 L494.65 548.5 L495 548.5 L495.35 548.5 L495.7 548.5 L496.05 548.5 L496.4 548.5 L496.75 548.5 L497.1 548.5 L497.45 548.5 L497.8 548.5 L498.15 548.5 L498.5 548.5 L498.85 548.5 L499.2 548.5 L499.55 548.5 L499.9 548.5 L500.25 548.5 L500.6 548.5 L500.95 548.5 L501.3 548.5 L501.65 548.5 L502 548.5 L502.35 548.5 L502.7 548.5 L503.05 548.5 L503.4 548.5 L503.75 548.5 L504.1 548.5 L504.45 548.5 L504.8 548.5 L505.15 548.5 L505.5 548.5 L505.7 548.5" fill="none" stroke="#d4924c" stroke-width="1.5" stroke-linejoin="round"/>
<path d="M425 548.5 L425.35 548.5 L425.7 548.5 L426.05 548.5 L426.4 548.5 L426.75 548.5 L427.1 548.5 L427.45 548.5 L427.8 548.5 L428.15 548.5 L428.5 548.5 L428.85 548.5 L429.2 548.5 L429.55 548.5 L429.9 548.5 L430.25 548.5 L430.6 548.5 L430.95 548.5 L431.3 548.47 L431.65 548.47 L432 548.47 L432.35 548.46 L432.7 548.37 L433.05 548.43 L433.4 548.39 L433.75 548.36 L434.1 548.35 L434.45 548.35 L434.8 548.18 L435.15 548.4 L435.5 548.19 L435.85 548.04 L436.2 548.19 L436.55 548.3 L436.9 548.08 L437.25 548.24 L437.6 548.19 L437.95 547.86 L438.3 547.59 L438.65 547.65 L439 547.9 L439.35 547.52 L439.7 547.31 L440.05 547.23 L440.4 547.34 L440.75 547.22 L441.1 547.27 L441.45 547.18 L441.8 546.68 L442.15 546.7 L442.5 546.35 L442.85 546.47 L443.2 546.01 L443.55 545.8 L443.9 546.42 L444.25 545.66 L444.6 545.58 L444.95 545.87 L445.3 545.09 L445.65 544.52 L446 544.27 L446.35 543.68 L446.7 543.98 L447.05 543.13 L447.4 543.56 L447.75 542.4 L448.1 541.99 L448.45 541.54 L448.8 541.52 L449.15 540.85 L449.5 540.87 L449.85 539.43 L450.2 539.24 L450.55 539.44 L450.9 537.68 L451.25 537.38 L451.6 537.17 L451.95 535.73 L452.3 534.04 L452.65 532.07 L453 533.71 L453.35 531.24 L453.7 530.52 L454.05 527.96 L454.4 528.22 L454.75 525.65 L455.1 523.48 L455.45 520.76 L455.8 519.83 L456.15 517.14 L456.5 515.55 L456.85 512.54 L457.2 511.83 L457.55 510.53 L457.9 506.86 L458.25 505.26 L458.6 502.07 L458.95 497.15 L459.3 492.8 L459.65 490.94 L460 498.39 L460.35 493.41 L460.7 489.6 L461.05 486.4 L461.4 483.6 L461.75 480.76 L462.1 488.01 L462.45 495.23 L462.8 487.28 L463.15 486.13 L463.5 489.93 L463.85 493.25 L464.2 497.32 L464.55 499.18 L464.9 504.23 L465.25 504.43 L465.6 507.2 L465.95 510.8 L466.3 513.4 L466.65 513.42 L467 514.95 L467.35 518.16 L467.7 518.06 L468.05 521.28 L468.4 523.31 L468.75 525.87 L469.1 527.07 L469.45 528.17 L469.8 530.19 L470.15 530.34 L470.5 532.84 L470.85 533.07 L471.2 534.03 L471.55 535.37 L471.9 536.57 L472.25 537.86 L472.6 538.3 L472.95 539.65 L473.3 540.57 L473.65 540.86 L474 541.2 L474.35 542.6 L474.7 542.87 L475.05 542.45 L475.4 543.3 L475.75 544.1 L476.1 544 L476.45 544.59 L476.8 544.65 L477.15 545.58 L477.5 545.84 L477.85 546.1 L478.2 546.65 L478.55 546.47 L478.9 546.7 L479.25 547.35 L479.6 546.87 L479.95 547.39 L480.3 547.18 L480.65 547.57 L481 547.97 L481.35 547.83 L481.7 547.82 L482.05 548.28 L482.4 548.08 L482.75 548.2 L483.1 548.32 L483.45 548.3 L483.8 548.48 L484.15 548.5 L484.5 548.5 L484.85 548.5 L485.2 548.5 L485.55 548.5 L485.9 548.5 L486.25 548.5 L486.6 548.5 L486.95 548.5 L487.3 548.5 L487.65 548.5 L488 548.5 L488.35 548.5 L488.7 548.5 L489.05 548.5 L489.4 548.5 L489.75 548.5 L490.1 548.5 L490.45 548.5 L490.8 548.5 L491.15 548.5 L491.5 548.5 L491.85 548.5 L492.2 548.5 L492.55 548.5 L492.9 548.5 L493.25 548.5 L493.6 548.5 L493.95 548.5 L494.3 548.5 L494.65 548.5 L495 548.5 L495.35 548.5 L495.7 548.5 L496.05 548.5 L496.4 548.5 L496.75 548.5 L497.1 548.5 L497.45 548.5 L497.8 548.5 L498.15 548.5 L498.5 548.5 L498.85 548.5 L499.2 548.5 L499.55 548.5 L499.9 548.5 L500.25 548.5 L500.6 548.5 L500.95 548.5 L501.3 548.5 L501.65 548.5 L502 548.5 L502.35 548.5 L502.7 548.5 L503.05 548.5 L503.4 548.5 L503.75 548.5 L504.1 548.5 L504.45 548.5 L504.8 548.5 L505 548.5" fill="none" stroke="#4a80c4" stroke-width="1.9" stroke-linejoin="round"/>
</g>
<rect x="424.2" y="467.2" width="81.5" height="81.3" fill="none" stroke="#000" stroke-width="1.25"/>
<line x1="77.9" y1="630" x2="89.8" y2="630" stroke="#000" stroke-width="1.4"/>
<circle cx="83.7" cy="630" r="2.1" fill="#000"/>
<text x="93.3" y="632.2" font-size="7.2" text-anchor="start" fill="#1a1a1a" textLength="12.6" lengthAdjust="spacingAndGlyphs">TPO</text>
<line x1="117.9" y1="630" x2="129.8" y2="630" stroke="#a8291f" stroke-width="1.4"/>
<path d="M123.8 627.8L126.17 632.17L121.42 632.17Z" fill="#000"/>
<text x="133.8" y="632.2" font-size="7.2" text-anchor="start" fill="#1a1a1a" textLength="35" lengthAdjust="spacingAndGlyphs">TPO + IFN&#947;</text>
<line x1="183.8" y1="630" x2="195.5" y2="630" stroke="#a3a3a3" stroke-width="1.4"/>
<rect x="188" y="628" width="4" height="4" fill="#000"/>
<text x="199.5" y="632.2" font-size="7.2" text-anchor="start" fill="#1a1a1a" textLength="13.8" lengthAdjust="spacingAndGlyphs">IFN&#947;</text>
<line x1="305.5" y1="630" x2="318" y2="630" stroke="#d4924c" stroke-width="1.4"/>
<circle cx="311.3" cy="630" r="2.1" fill="#000"/>
<text x="321.3" y="632.2" font-size="7.2" text-anchor="start" fill="#1a1a1a" textLength="42.5" lengthAdjust="spacingAndGlyphs">Eltrombopag</text>
<line x1="376.3" y1="630" x2="388.8" y2="630" stroke="#4a80c4" stroke-width="1.4"/>
<path d="M382.5 627.8L384.88 632.17L380.12 632.17Z" fill="#000"/>
<text x="392" y="632.2" font-size="7.2" text-anchor="start" fill="#1a1a1a" textLength="65.5" lengthAdjust="spacingAndGlyphs">Eltrombopag + IFN&#947;</text>
<line x1="473.8" y1="630" x2="485" y2="630" stroke="#a3a3a3" stroke-width="1.4"/>
<rect x="476.8" y="628" width="4" height="4" fill="#000"/>
<text x="488.3" y="632.2" font-size="7.2" text-anchor="start" fill="#1a1a1a" textLength="14.2" lengthAdjust="spacingAndGlyphs">IFN&#947;</text>
<rect x="0" y="0" width="1.7" height="642" fill="#484848"/>
<rect x="0" y="0" width="520" height="1.6" fill="#484848"/>
<rect x="518.2" y="0" width="1.8" height="642" fill="#484848"/>
<rect x="0" y="640.0" width="520" height="2" fill="#484848"/>
</svg>
</body></html>
